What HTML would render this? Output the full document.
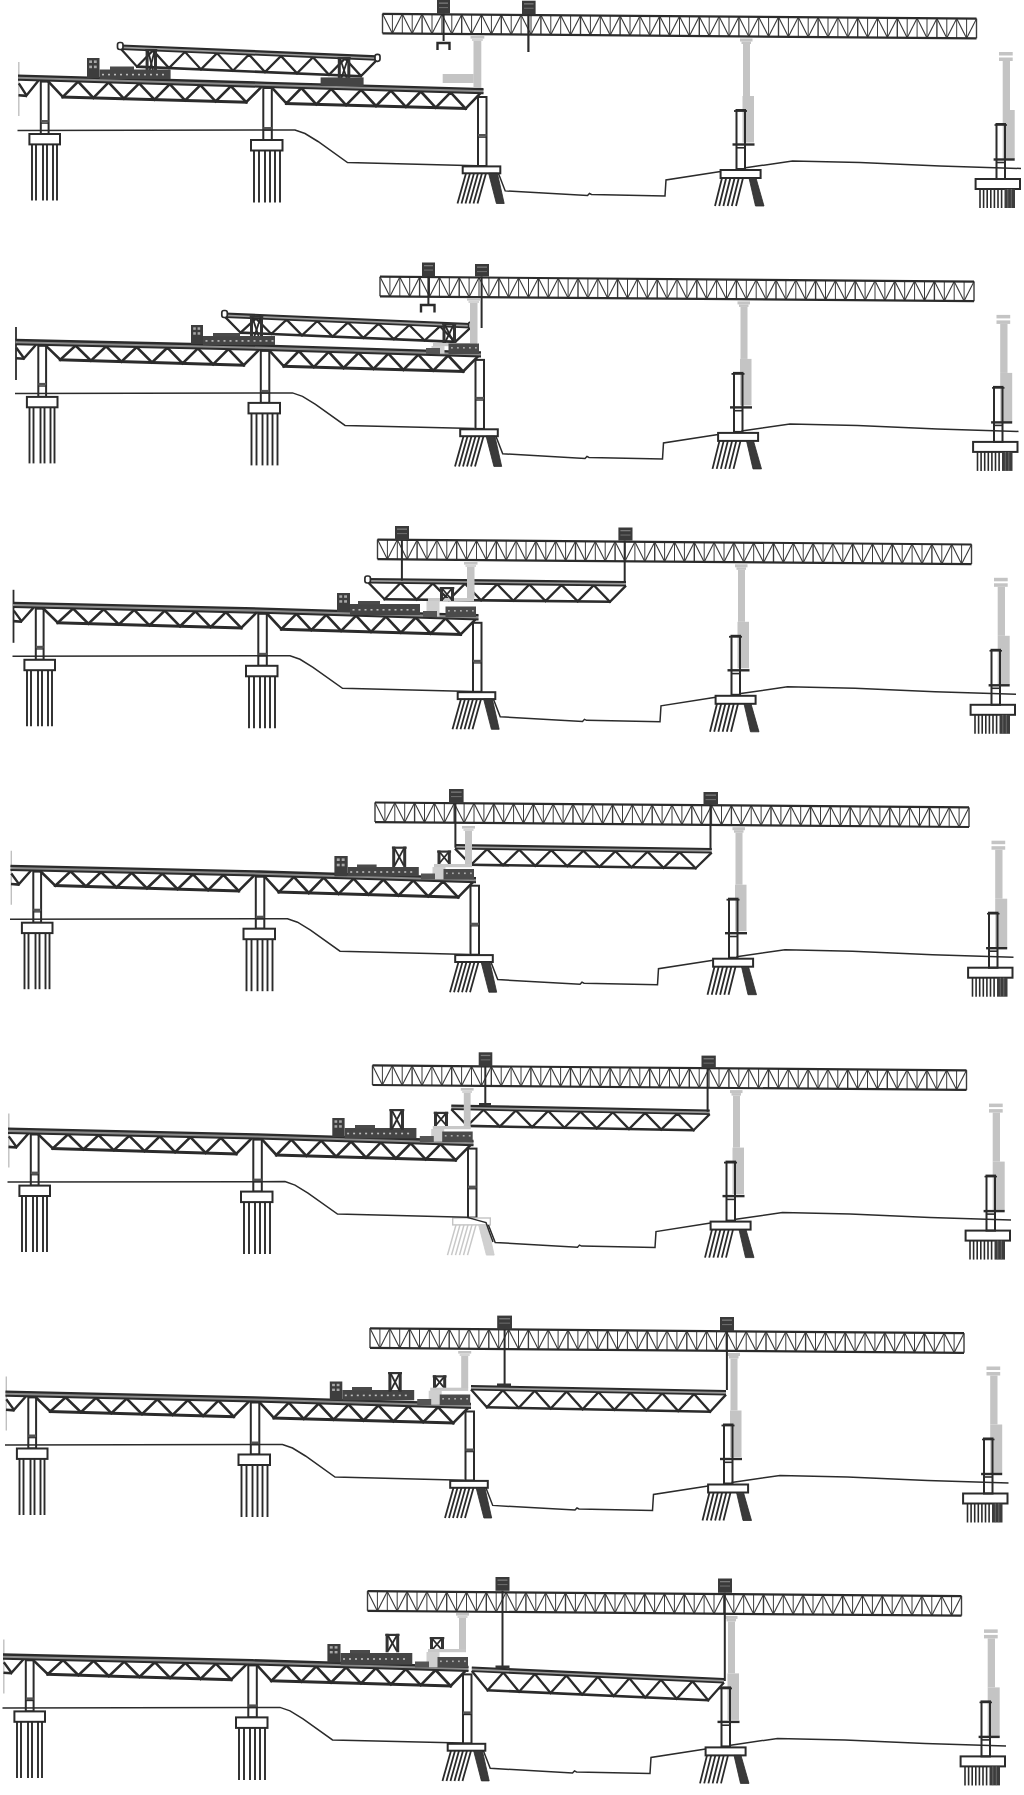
<!DOCTYPE html>
<html><head><meta charset="utf-8"><style>html,body{margin:0;padding:0;background:#fff;}svg{display:block;}</style></head>
<body><svg width="1024" height="1795" viewBox="0 0 1024 1795">
<rect width="1024" height="1795" fill="#fff"/>
<g transform="translate(-0.00,0.00)">
<line x1="18.8" y1="62.0" x2="18.8" y2="116.0" stroke="#c0c0c0" stroke-width="1.4"/>
<polyline points="18.8,83.3 26.5,95.4 38.5,80.4" stroke="#2b2b2b" stroke-width="2.4" fill="none"/>
<line x1="18.5" y1="95.3" x2="27.0" y2="95.9" stroke="#2b2b2b" stroke-width="2.6"/>
<polyline points="47.5,80.7 62.8,96.9 78.1,81.5 93.4,97.8 108.6,82.4 123.9,98.7 139.2,83.3 154.5,99.6 169.8,84.2 185.1,100.5 200.4,85.1 215.6,101.4 230.9,86.0 246.2,102.2 261.5,86.9" stroke="#2b2b2b" stroke-width="2.6" fill="none" stroke-linejoin="miter"/>
<line x1="61.3" y1="96.9" x2="247.7" y2="102.3" stroke="#2b2b2b" stroke-width="3.0"/>
<polyline points="271.5,87.2 286.4,103.4 301.4,88.0 316.3,104.3 331.2,88.9 346.1,105.1 361.1,89.8 376.0,106.0 390.9,90.6 405.9,106.9 420.8,91.5 435.7,107.7 450.6,92.3 465.6,108.6 480.5,93.2" stroke="#2b2b2b" stroke-width="2.6" fill="none" stroke-linejoin="miter"/>
<line x1="284.9" y1="103.4" x2="467.1" y2="108.6" stroke="#2b2b2b" stroke-width="3.0"/>
<polygon points="18,75.6 267,82.8 483.5,89.1 483.5,93.3 267,87.0 18,79.8" fill="#8a8a8a"/>
<polyline points="18.0,75.6 267.0,82.8 483.5,89.1" stroke="#2b2b2b" stroke-width="2.3" fill="none"/>
<polyline points="18.0,79.8 267.0,87.0 483.5,93.3" stroke="#2b2b2b" stroke-width="2.0" fill="none"/>
<rect x="40.8" y="81.6" width="7.8" height="52.4" stroke="#2b2b2b" stroke-width="2.0" fill="none"/>
<rect x="40.8" y="120.0" width="7.8" height="2.6" fill="#555"/>
<line x1="40.8" y1="123.2" x2="48.6" y2="123.2" stroke="#2b2b2b" stroke-width="1.2"/>
<rect x="263.3" y="88.0" width="8.5" height="52.0" stroke="#2b2b2b" stroke-width="2.0" fill="none"/>
<rect x="263.3" y="127.0" width="8.5" height="2.6" fill="#555"/>
<line x1="263.3" y1="130.2" x2="271.8" y2="130.2" stroke="#2b2b2b" stroke-width="1.2"/>
<rect x="478.0" y="97.0" width="8.5" height="69.0" stroke="#2b2b2b" stroke-width="2.0" fill="none"/>
<rect x="478.0" y="134.0" width="8.5" height="2.6" fill="#555"/>
<line x1="478.0" y1="137.2" x2="486.5" y2="137.2" stroke="#2b2b2b" stroke-width="1.2"/>
<rect x="29.4" y="134.0" width="30.6" height="10.4" stroke="#2b2b2b" stroke-width="2.0" fill="#fff"/>
<rect x="251.0" y="140.0" width="31.5" height="10.5" stroke="#2b2b2b" stroke-width="2.0" fill="#fff"/>
<rect x="462.7" y="166.4" width="37.6" height="6.9" stroke="#2b2b2b" stroke-width="2.0" fill="#fff"/>
<rect x="720.6" y="170.0" width="40.0" height="8.0" stroke="#2b2b2b" stroke-width="2.0" fill="#fff"/>
<rect x="975.6" y="179.0" width="44.4" height="10.0" stroke="#2b2b2b" stroke-width="2.0" fill="#fff"/>
<line x1="32.0" y1="144.4" x2="32.0" y2="200.5" stroke="#2b2b2b" stroke-width="1.9"/>
<line x1="36.0" y1="144.4" x2="36.0" y2="200.5" stroke="#2b2b2b" stroke-width="1.9"/>
<line x1="43.0" y1="144.4" x2="43.0" y2="200.5" stroke="#2b2b2b" stroke-width="1.9"/>
<line x1="47.0" y1="144.4" x2="47.0" y2="200.5" stroke="#2b2b2b" stroke-width="1.9"/>
<line x1="53.0" y1="144.4" x2="53.0" y2="200.5" stroke="#2b2b2b" stroke-width="1.9"/>
<line x1="57.0" y1="144.4" x2="57.0" y2="200.5" stroke="#2b2b2b" stroke-width="1.9"/>
<line x1="254.0" y1="150.5" x2="254.0" y2="202.5" stroke="#2b2b2b" stroke-width="1.9"/>
<line x1="259.0" y1="150.5" x2="259.0" y2="202.5" stroke="#2b2b2b" stroke-width="1.9"/>
<line x1="265.0" y1="150.5" x2="265.0" y2="202.5" stroke="#2b2b2b" stroke-width="1.9"/>
<line x1="270.0" y1="150.5" x2="270.0" y2="202.5" stroke="#2b2b2b" stroke-width="1.9"/>
<line x1="275.0" y1="150.5" x2="275.0" y2="202.5" stroke="#2b2b2b" stroke-width="1.9"/>
<line x1="280.0" y1="150.5" x2="280.0" y2="202.5" stroke="#2b2b2b" stroke-width="1.9"/>
<line x1="466.0" y1="173.3" x2="457.5" y2="203.5" stroke="#2b2b2b" stroke-width="1.8"/>
<line x1="470.0" y1="173.3" x2="461.5" y2="203.5" stroke="#2b2b2b" stroke-width="1.8"/>
<line x1="474.0" y1="173.3" x2="465.5" y2="203.5" stroke="#2b2b2b" stroke-width="1.8"/>
<line x1="478.0" y1="173.3" x2="469.5" y2="203.5" stroke="#2b2b2b" stroke-width="1.8"/>
<line x1="482.0" y1="173.3" x2="473.5" y2="203.5" stroke="#2b2b2b" stroke-width="1.8"/>
<line x1="486.0" y1="173.3" x2="477.5" y2="203.5" stroke="#2b2b2b" stroke-width="1.8"/>
<polygon points="488.6,173.3 497.4,173.3 504.2,203.5 496.4,203.5" stroke="#2b2b2b" stroke-width="0.8" fill="#3a3a3a"/>
<line x1="722.0" y1="178.0" x2="715.0" y2="206.0" stroke="#2b2b2b" stroke-width="1.8"/>
<line x1="726.2" y1="178.0" x2="719.2" y2="206.0" stroke="#2b2b2b" stroke-width="1.8"/>
<line x1="730.4" y1="178.0" x2="723.4" y2="206.0" stroke="#2b2b2b" stroke-width="1.8"/>
<line x1="734.6" y1="178.0" x2="727.6" y2="206.0" stroke="#2b2b2b" stroke-width="1.8"/>
<line x1="738.8" y1="178.0" x2="731.8" y2="206.0" stroke="#2b2b2b" stroke-width="1.8"/>
<line x1="743.0" y1="178.0" x2="736.0" y2="206.0" stroke="#2b2b2b" stroke-width="1.8"/>
<polygon points="749.0,178.0 756.0,178.0 764.0,206.0 755.5,206.0" stroke="#2b2b2b" stroke-width="0.8" fill="#3a3a3a"/>
<line x1="980.0" y1="189.0" x2="980.0" y2="208.0" stroke="#2b2b2b" stroke-width="1.6"/>
<line x1="983.6" y1="189.0" x2="983.6" y2="208.0" stroke="#2b2b2b" stroke-width="1.6"/>
<line x1="987.2" y1="189.0" x2="987.2" y2="208.0" stroke="#2b2b2b" stroke-width="1.6"/>
<line x1="990.8" y1="189.0" x2="990.8" y2="208.0" stroke="#2b2b2b" stroke-width="1.6"/>
<line x1="994.4" y1="189.0" x2="994.4" y2="208.0" stroke="#2b2b2b" stroke-width="1.6"/>
<line x1="998.0" y1="189.0" x2="998.0" y2="208.0" stroke="#2b2b2b" stroke-width="1.6"/>
<line x1="1001.6" y1="189.0" x2="1001.6" y2="208.0" stroke="#2b2b2b" stroke-width="1.6"/>
<rect x="1004.5" y="189.0" width="10.5" height="19.0" fill="#3c3c3c"/>
<line x1="1007.8" y1="189.0" x2="1007.8" y2="208.0" stroke="#888" stroke-width="0.6"/>
<line x1="1011.3" y1="189.0" x2="1011.3" y2="208.0" stroke="#888" stroke-width="0.6"/>
<polyline points="17.5,130.5 295.0,130.0 305.0,133.5 318.0,141.5 347.5,162.5 477.0,165.7" stroke="#2b2b2b" stroke-width="1.5" fill="none"/>
<polyline points="498.4,173.3 505.2,190.9 587.5,195.6 589.5,193.5 591.5,194.5 665.0,196.0 666.0,180.0 720.6,171.5" stroke="#2b2b2b" stroke-width="1.5" fill="none"/>
<polyline points="744.0,168.0 792.5,161.0 860.0,162.5 940.0,166.0 1021.0,168.5" stroke="#2b2b2b" stroke-width="1.5" fill="none"/>
<line x1="382.5" y1="13.8" x2="382.5" y2="33.4" stroke="#3c3c3c" stroke-width="1.4"/>
<line x1="392.4" y1="13.9" x2="392.4" y2="33.5" stroke="#3c3c3c" stroke-width="1.0"/>
<line x1="402.3" y1="14.0" x2="402.3" y2="33.6" stroke="#3c3c3c" stroke-width="1.0"/>
<line x1="412.2" y1="14.0" x2="412.2" y2="33.6" stroke="#3c3c3c" stroke-width="1.0"/>
<line x1="422.1" y1="14.1" x2="422.1" y2="33.7" stroke="#3c3c3c" stroke-width="1.4"/>
<line x1="432.0" y1="14.2" x2="432.0" y2="33.8" stroke="#3c3c3c" stroke-width="1.0"/>
<line x1="441.9" y1="14.3" x2="441.9" y2="33.9" stroke="#3c3c3c" stroke-width="1.0"/>
<line x1="451.8" y1="14.4" x2="451.8" y2="34.0" stroke="#3c3c3c" stroke-width="1.0"/>
<line x1="461.7" y1="14.5" x2="461.7" y2="34.1" stroke="#3c3c3c" stroke-width="1.4"/>
<line x1="471.6" y1="14.5" x2="471.6" y2="34.1" stroke="#3c3c3c" stroke-width="1.0"/>
<line x1="481.5" y1="14.6" x2="481.5" y2="34.2" stroke="#3c3c3c" stroke-width="1.0"/>
<line x1="491.4" y1="14.7" x2="491.4" y2="34.3" stroke="#3c3c3c" stroke-width="1.0"/>
<line x1="501.3" y1="14.8" x2="501.3" y2="34.4" stroke="#3c3c3c" stroke-width="1.4"/>
<line x1="511.2" y1="14.9" x2="511.2" y2="34.5" stroke="#3c3c3c" stroke-width="1.0"/>
<line x1="521.1" y1="14.9" x2="521.1" y2="34.5" stroke="#3c3c3c" stroke-width="1.0"/>
<line x1="531.0" y1="15.0" x2="531.0" y2="34.6" stroke="#3c3c3c" stroke-width="1.0"/>
<line x1="540.9" y1="15.1" x2="540.9" y2="34.7" stroke="#3c3c3c" stroke-width="1.4"/>
<line x1="550.8" y1="15.2" x2="550.8" y2="34.8" stroke="#3c3c3c" stroke-width="1.0"/>
<line x1="560.7" y1="15.3" x2="560.7" y2="34.9" stroke="#3c3c3c" stroke-width="1.0"/>
<line x1="570.6" y1="15.4" x2="570.6" y2="35.0" stroke="#3c3c3c" stroke-width="1.0"/>
<line x1="580.5" y1="15.4" x2="580.5" y2="35.0" stroke="#3c3c3c" stroke-width="1.4"/>
<line x1="590.4" y1="15.5" x2="590.4" y2="35.1" stroke="#3c3c3c" stroke-width="1.0"/>
<line x1="600.3" y1="15.6" x2="600.3" y2="35.2" stroke="#3c3c3c" stroke-width="1.0"/>
<line x1="610.2" y1="15.7" x2="610.2" y2="35.3" stroke="#3c3c3c" stroke-width="1.0"/>
<line x1="620.1" y1="15.8" x2="620.1" y2="35.4" stroke="#3c3c3c" stroke-width="1.4"/>
<line x1="630.0" y1="15.8" x2="630.0" y2="35.4" stroke="#3c3c3c" stroke-width="1.0"/>
<line x1="639.9" y1="15.9" x2="639.9" y2="35.5" stroke="#3c3c3c" stroke-width="1.0"/>
<line x1="649.8" y1="16.0" x2="649.8" y2="35.6" stroke="#3c3c3c" stroke-width="1.0"/>
<line x1="659.7" y1="16.1" x2="659.7" y2="35.7" stroke="#3c3c3c" stroke-width="1.4"/>
<line x1="669.6" y1="16.2" x2="669.6" y2="35.8" stroke="#3c3c3c" stroke-width="1.0"/>
<line x1="679.5" y1="16.2" x2="679.5" y2="35.9" stroke="#3c3c3c" stroke-width="1.0"/>
<line x1="689.4" y1="16.3" x2="689.4" y2="35.9" stroke="#3c3c3c" stroke-width="1.0"/>
<line x1="699.3" y1="16.4" x2="699.3" y2="36.0" stroke="#3c3c3c" stroke-width="1.4"/>
<line x1="709.2" y1="16.5" x2="709.2" y2="36.1" stroke="#3c3c3c" stroke-width="1.0"/>
<line x1="719.1" y1="16.6" x2="719.1" y2="36.2" stroke="#3c3c3c" stroke-width="1.0"/>
<line x1="729.0" y1="16.7" x2="729.0" y2="36.3" stroke="#3c3c3c" stroke-width="1.0"/>
<line x1="738.9" y1="16.7" x2="738.9" y2="36.3" stroke="#3c3c3c" stroke-width="1.4"/>
<line x1="748.8" y1="16.8" x2="748.8" y2="36.4" stroke="#3c3c3c" stroke-width="1.0"/>
<line x1="758.7" y1="16.9" x2="758.7" y2="36.5" stroke="#3c3c3c" stroke-width="1.0"/>
<line x1="768.6" y1="17.0" x2="768.6" y2="36.6" stroke="#3c3c3c" stroke-width="1.0"/>
<line x1="778.5" y1="17.1" x2="778.5" y2="36.7" stroke="#3c3c3c" stroke-width="1.4"/>
<line x1="788.4" y1="17.1" x2="788.4" y2="36.7" stroke="#3c3c3c" stroke-width="1.0"/>
<line x1="798.3" y1="17.2" x2="798.3" y2="36.8" stroke="#3c3c3c" stroke-width="1.0"/>
<line x1="808.2" y1="17.3" x2="808.2" y2="36.9" stroke="#3c3c3c" stroke-width="1.0"/>
<line x1="818.1" y1="17.4" x2="818.1" y2="37.0" stroke="#3c3c3c" stroke-width="1.4"/>
<line x1="828.0" y1="17.5" x2="828.0" y2="37.1" stroke="#3c3c3c" stroke-width="1.0"/>
<line x1="837.9" y1="17.6" x2="837.9" y2="37.2" stroke="#3c3c3c" stroke-width="1.0"/>
<line x1="847.8" y1="17.6" x2="847.8" y2="37.2" stroke="#3c3c3c" stroke-width="1.0"/>
<line x1="857.7" y1="17.7" x2="857.7" y2="37.3" stroke="#3c3c3c" stroke-width="1.4"/>
<line x1="867.6" y1="17.8" x2="867.6" y2="37.4" stroke="#3c3c3c" stroke-width="1.0"/>
<line x1="877.5" y1="17.9" x2="877.5" y2="37.5" stroke="#3c3c3c" stroke-width="1.0"/>
<line x1="887.4" y1="18.0" x2="887.4" y2="37.6" stroke="#3c3c3c" stroke-width="1.0"/>
<line x1="897.3" y1="18.0" x2="897.3" y2="37.6" stroke="#3c3c3c" stroke-width="1.4"/>
<line x1="907.2" y1="18.1" x2="907.2" y2="37.7" stroke="#3c3c3c" stroke-width="1.0"/>
<line x1="917.1" y1="18.2" x2="917.1" y2="37.8" stroke="#3c3c3c" stroke-width="1.0"/>
<line x1="927.0" y1="18.3" x2="927.0" y2="37.9" stroke="#3c3c3c" stroke-width="1.0"/>
<line x1="936.9" y1="18.4" x2="936.9" y2="38.0" stroke="#3c3c3c" stroke-width="1.4"/>
<line x1="946.8" y1="18.5" x2="946.8" y2="38.1" stroke="#3c3c3c" stroke-width="1.0"/>
<line x1="956.7" y1="18.5" x2="956.7" y2="38.1" stroke="#3c3c3c" stroke-width="1.0"/>
<line x1="966.6" y1="18.6" x2="966.6" y2="38.2" stroke="#3c3c3c" stroke-width="1.0"/>
<line x1="976.5" y1="18.7" x2="976.5" y2="38.3" stroke="#3c3c3c" stroke-width="1.4"/>
<line x1="382.5" y1="13.8" x2="392.4" y2="33.5" stroke="#383838" stroke-width="1.1"/>
<line x1="392.4" y1="33.5" x2="402.3" y2="14.0" stroke="#383838" stroke-width="1.1"/>
<line x1="402.3" y1="14.0" x2="412.2" y2="33.6" stroke="#383838" stroke-width="1.1"/>
<line x1="412.2" y1="33.6" x2="422.1" y2="14.1" stroke="#383838" stroke-width="1.1"/>
<line x1="422.1" y1="14.1" x2="432.0" y2="33.8" stroke="#383838" stroke-width="1.1"/>
<line x1="432.0" y1="33.8" x2="441.9" y2="14.3" stroke="#383838" stroke-width="1.1"/>
<line x1="441.9" y1="14.3" x2="451.8" y2="34.0" stroke="#383838" stroke-width="1.1"/>
<line x1="451.8" y1="34.0" x2="461.7" y2="14.5" stroke="#383838" stroke-width="1.1"/>
<line x1="461.7" y1="14.5" x2="471.6" y2="34.1" stroke="#383838" stroke-width="1.1"/>
<line x1="471.6" y1="34.1" x2="481.5" y2="14.6" stroke="#383838" stroke-width="1.1"/>
<line x1="481.5" y1="14.6" x2="491.4" y2="34.3" stroke="#383838" stroke-width="1.1"/>
<line x1="491.4" y1="34.3" x2="501.3" y2="14.8" stroke="#383838" stroke-width="1.1"/>
<line x1="501.3" y1="14.8" x2="511.2" y2="34.5" stroke="#383838" stroke-width="1.1"/>
<line x1="511.2" y1="34.5" x2="521.1" y2="14.9" stroke="#383838" stroke-width="1.1"/>
<line x1="521.1" y1="14.9" x2="531.0" y2="34.6" stroke="#383838" stroke-width="1.1"/>
<line x1="531.0" y1="34.6" x2="540.9" y2="15.1" stroke="#383838" stroke-width="1.1"/>
<line x1="540.9" y1="15.1" x2="550.8" y2="34.8" stroke="#383838" stroke-width="1.1"/>
<line x1="550.8" y1="34.8" x2="560.7" y2="15.3" stroke="#383838" stroke-width="1.1"/>
<line x1="560.7" y1="15.3" x2="570.6" y2="35.0" stroke="#383838" stroke-width="1.1"/>
<line x1="570.6" y1="35.0" x2="580.5" y2="15.4" stroke="#383838" stroke-width="1.1"/>
<line x1="580.5" y1="15.4" x2="590.4" y2="35.1" stroke="#383838" stroke-width="1.1"/>
<line x1="590.4" y1="35.1" x2="600.3" y2="15.6" stroke="#383838" stroke-width="1.1"/>
<line x1="600.3" y1="15.6" x2="610.2" y2="35.3" stroke="#383838" stroke-width="1.1"/>
<line x1="610.2" y1="35.3" x2="620.1" y2="15.8" stroke="#383838" stroke-width="1.1"/>
<line x1="620.1" y1="15.8" x2="630.0" y2="35.4" stroke="#383838" stroke-width="1.1"/>
<line x1="630.0" y1="35.4" x2="639.9" y2="15.9" stroke="#383838" stroke-width="1.1"/>
<line x1="639.9" y1="15.9" x2="649.8" y2="35.6" stroke="#383838" stroke-width="1.1"/>
<line x1="649.8" y1="35.6" x2="659.7" y2="16.1" stroke="#383838" stroke-width="1.1"/>
<line x1="659.7" y1="16.1" x2="669.6" y2="35.8" stroke="#383838" stroke-width="1.1"/>
<line x1="669.6" y1="35.8" x2="679.5" y2="16.2" stroke="#383838" stroke-width="1.1"/>
<line x1="679.5" y1="16.2" x2="689.4" y2="35.9" stroke="#383838" stroke-width="1.1"/>
<line x1="689.4" y1="35.9" x2="699.3" y2="16.4" stroke="#383838" stroke-width="1.1"/>
<line x1="699.3" y1="16.4" x2="709.2" y2="36.1" stroke="#383838" stroke-width="1.1"/>
<line x1="709.2" y1="36.1" x2="719.1" y2="16.6" stroke="#383838" stroke-width="1.1"/>
<line x1="719.1" y1="16.6" x2="729.0" y2="36.3" stroke="#383838" stroke-width="1.1"/>
<line x1="729.0" y1="36.3" x2="738.9" y2="16.7" stroke="#383838" stroke-width="1.1"/>
<line x1="738.9" y1="16.7" x2="748.8" y2="36.4" stroke="#383838" stroke-width="1.1"/>
<line x1="748.8" y1="36.4" x2="758.7" y2="16.9" stroke="#383838" stroke-width="1.1"/>
<line x1="758.7" y1="16.9" x2="768.6" y2="36.6" stroke="#383838" stroke-width="1.1"/>
<line x1="768.6" y1="36.6" x2="778.5" y2="17.1" stroke="#383838" stroke-width="1.1"/>
<line x1="778.5" y1="17.1" x2="788.4" y2="36.7" stroke="#383838" stroke-width="1.1"/>
<line x1="788.4" y1="36.7" x2="798.3" y2="17.2" stroke="#383838" stroke-width="1.1"/>
<line x1="798.3" y1="17.2" x2="808.2" y2="36.9" stroke="#383838" stroke-width="1.1"/>
<line x1="808.2" y1="36.9" x2="818.1" y2="17.4" stroke="#383838" stroke-width="1.1"/>
<line x1="818.1" y1="17.4" x2="828.0" y2="37.1" stroke="#383838" stroke-width="1.1"/>
<line x1="828.0" y1="37.1" x2="837.9" y2="17.6" stroke="#383838" stroke-width="1.1"/>
<line x1="837.9" y1="17.6" x2="847.8" y2="37.2" stroke="#383838" stroke-width="1.1"/>
<line x1="847.8" y1="37.2" x2="857.7" y2="17.7" stroke="#383838" stroke-width="1.1"/>
<line x1="857.7" y1="17.7" x2="867.6" y2="37.4" stroke="#383838" stroke-width="1.1"/>
<line x1="867.6" y1="37.4" x2="877.5" y2="17.9" stroke="#383838" stroke-width="1.1"/>
<line x1="877.5" y1="17.9" x2="887.4" y2="37.6" stroke="#383838" stroke-width="1.1"/>
<line x1="887.4" y1="37.6" x2="897.3" y2="18.0" stroke="#383838" stroke-width="1.1"/>
<line x1="897.3" y1="18.0" x2="907.2" y2="37.7" stroke="#383838" stroke-width="1.1"/>
<line x1="907.2" y1="37.7" x2="917.1" y2="18.2" stroke="#383838" stroke-width="1.1"/>
<line x1="917.1" y1="18.2" x2="927.0" y2="37.9" stroke="#383838" stroke-width="1.1"/>
<line x1="927.0" y1="37.9" x2="936.9" y2="18.4" stroke="#383838" stroke-width="1.1"/>
<line x1="936.9" y1="18.4" x2="946.8" y2="38.1" stroke="#383838" stroke-width="1.1"/>
<line x1="946.8" y1="38.1" x2="956.7" y2="18.5" stroke="#383838" stroke-width="1.1"/>
<line x1="956.7" y1="18.5" x2="966.6" y2="38.2" stroke="#383838" stroke-width="1.1"/>
<line x1="966.6" y1="38.2" x2="976.5" y2="18.7" stroke="#383838" stroke-width="1.1"/>
<line x1="382.5" y1="13.8" x2="976.5" y2="18.7" stroke="#2b2b2b" stroke-width="2.2"/>
<line x1="382.5" y1="33.4" x2="976.5" y2="38.3" stroke="#2b2b2b" stroke-width="2.2"/>
<rect x="740.0" y="38.5" width="12.5" height="3.0" fill="#c4c4c4"/>
<rect x="741.5" y="41.5" width="9.5" height="2.5" fill="#c4c4c4"/>
<rect x="743.0" y="44.0" width="7.0" height="52.0" fill="#c4c4c4"/>
<rect x="742.5" y="96.0" width="11.5" height="46.5" fill="#c4c4c4"/>
<rect x="736.5" y="110.0" width="8.5" height="59.0" stroke="#2b2b2b" stroke-width="2.0" fill="none"/>
<line x1="732.5" y1="144.5" x2="754.5" y2="144.5" stroke="#2b2b2b" stroke-width="2.4"/>
<line x1="736.5" y1="147.8" x2="745.0" y2="147.8" stroke="#2b2b2b" stroke-width="1.6"/>
<line x1="734.0" y1="111.0" x2="747.0" y2="111.0" stroke="#2b2b2b" stroke-width="1.8"/>
<rect x="999.0" y="52.0" width="13.7" height="3.5" fill="#c4c4c4"/>
<rect x="999.0" y="57.5" width="13.7" height="3.5" fill="#c4c4c4"/>
<rect x="1002.7" y="61.0" width="7.3" height="49.0" fill="#c4c4c4"/>
<rect x="1002.7" y="110.0" width="12.0" height="49.0" fill="#c4c4c4"/>
<rect x="996.5" y="124.0" width="8.5" height="55.0" stroke="#2b2b2b" stroke-width="2.0" fill="none"/>
<line x1="993.6" y1="159.5" x2="1014.7" y2="159.5" stroke="#2b2b2b" stroke-width="2.4"/>
<line x1="996.5" y1="162.5" x2="1005.0" y2="162.5" stroke="#2b2b2b" stroke-width="1.6"/>
<line x1="994.5" y1="125.0" x2="1007.0" y2="125.0" stroke="#2b2b2b" stroke-width="1.6"/>
</g>
<g transform="translate(-2.50,262.90)">
<line x1="18.5" y1="64.0" x2="18.5" y2="117.0" stroke="#2b2b2b" stroke-width="1.8"/>
<polyline points="18.8,84.8 26.5,95.4 38.5,81.8" stroke="#2b2b2b" stroke-width="2.4" fill="none"/>
<line x1="18.5" y1="95.3" x2="27.0" y2="95.9" stroke="#2b2b2b" stroke-width="2.6"/>
<polyline points="47.5,82.0 62.8,96.9 78.1,82.7 93.4,97.8 108.6,83.4 123.9,98.7 139.2,84.1 154.5,99.6 169.8,84.8 185.1,100.5 200.4,85.5 215.6,101.4 230.9,86.2 246.2,102.2 261.5,86.9" stroke="#2b2b2b" stroke-width="2.6" fill="none" stroke-linejoin="miter"/>
<line x1="61.3" y1="96.9" x2="247.7" y2="102.3" stroke="#2b2b2b" stroke-width="3.0"/>
<polyline points="271.5,87.2 286.4,103.4 301.4,88.1 316.3,104.3 331.2,89.0 346.1,105.1 361.1,89.9 376.0,106.0 390.9,90.8 405.9,106.9 420.8,91.7 435.7,107.7 450.6,92.6 465.6,108.6 480.5,93.5" stroke="#2b2b2b" stroke-width="2.6" fill="none" stroke-linejoin="miter"/>
<line x1="284.9" y1="103.4" x2="467.1" y2="108.6" stroke="#2b2b2b" stroke-width="3.0"/>
<polygon points="18,77.1 267,82.8 483.5,89.4 483.5,93.6 267,87.0 18,81.3" fill="#8a8a8a"/>
<polyline points="18.0,77.1 267.0,82.8 483.5,89.4" stroke="#2b2b2b" stroke-width="2.3" fill="none"/>
<polyline points="18.0,81.3 267.0,87.0 483.5,93.6" stroke="#2b2b2b" stroke-width="2.0" fill="none"/>
<rect x="40.8" y="82.9" width="7.8" height="51.1" stroke="#2b2b2b" stroke-width="2.0" fill="none"/>
<rect x="40.8" y="120.0" width="7.8" height="2.6" fill="#555"/>
<line x1="40.8" y1="123.2" x2="48.6" y2="123.2" stroke="#2b2b2b" stroke-width="1.2"/>
<rect x="263.3" y="88.0" width="8.5" height="52.0" stroke="#2b2b2b" stroke-width="2.0" fill="none"/>
<rect x="263.3" y="127.0" width="8.5" height="2.6" fill="#555"/>
<line x1="263.3" y1="130.2" x2="271.8" y2="130.2" stroke="#2b2b2b" stroke-width="1.2"/>
<rect x="478.0" y="97.0" width="8.5" height="69.0" stroke="#2b2b2b" stroke-width="2.0" fill="none"/>
<rect x="478.0" y="134.0" width="8.5" height="2.6" fill="#555"/>
<line x1="478.0" y1="137.2" x2="486.5" y2="137.2" stroke="#2b2b2b" stroke-width="1.2"/>
<rect x="29.4" y="134.0" width="30.6" height="10.4" stroke="#2b2b2b" stroke-width="2.0" fill="#fff"/>
<rect x="251.0" y="140.0" width="31.5" height="10.5" stroke="#2b2b2b" stroke-width="2.0" fill="#fff"/>
<rect x="462.7" y="166.4" width="37.6" height="6.9" stroke="#2b2b2b" stroke-width="2.0" fill="#fff"/>
<rect x="720.6" y="170.0" width="40.0" height="8.0" stroke="#2b2b2b" stroke-width="2.0" fill="#fff"/>
<rect x="975.6" y="179.0" width="44.4" height="10.0" stroke="#2b2b2b" stroke-width="2.0" fill="#fff"/>
<line x1="32.0" y1="144.4" x2="32.0" y2="200.5" stroke="#2b2b2b" stroke-width="1.9"/>
<line x1="36.0" y1="144.4" x2="36.0" y2="200.5" stroke="#2b2b2b" stroke-width="1.9"/>
<line x1="43.0" y1="144.4" x2="43.0" y2="200.5" stroke="#2b2b2b" stroke-width="1.9"/>
<line x1="47.0" y1="144.4" x2="47.0" y2="200.5" stroke="#2b2b2b" stroke-width="1.9"/>
<line x1="53.0" y1="144.4" x2="53.0" y2="200.5" stroke="#2b2b2b" stroke-width="1.9"/>
<line x1="57.0" y1="144.4" x2="57.0" y2="200.5" stroke="#2b2b2b" stroke-width="1.9"/>
<line x1="254.0" y1="150.5" x2="254.0" y2="202.5" stroke="#2b2b2b" stroke-width="1.9"/>
<line x1="259.0" y1="150.5" x2="259.0" y2="202.5" stroke="#2b2b2b" stroke-width="1.9"/>
<line x1="265.0" y1="150.5" x2="265.0" y2="202.5" stroke="#2b2b2b" stroke-width="1.9"/>
<line x1="270.0" y1="150.5" x2="270.0" y2="202.5" stroke="#2b2b2b" stroke-width="1.9"/>
<line x1="275.0" y1="150.5" x2="275.0" y2="202.5" stroke="#2b2b2b" stroke-width="1.9"/>
<line x1="280.0" y1="150.5" x2="280.0" y2="202.5" stroke="#2b2b2b" stroke-width="1.9"/>
<line x1="466.0" y1="173.3" x2="457.5" y2="203.5" stroke="#2b2b2b" stroke-width="1.8"/>
<line x1="470.0" y1="173.3" x2="461.5" y2="203.5" stroke="#2b2b2b" stroke-width="1.8"/>
<line x1="474.0" y1="173.3" x2="465.5" y2="203.5" stroke="#2b2b2b" stroke-width="1.8"/>
<line x1="478.0" y1="173.3" x2="469.5" y2="203.5" stroke="#2b2b2b" stroke-width="1.8"/>
<line x1="482.0" y1="173.3" x2="473.5" y2="203.5" stroke="#2b2b2b" stroke-width="1.8"/>
<line x1="486.0" y1="173.3" x2="477.5" y2="203.5" stroke="#2b2b2b" stroke-width="1.8"/>
<polygon points="488.6,173.3 497.4,173.3 504.2,203.5 496.4,203.5" stroke="#2b2b2b" stroke-width="0.8" fill="#3a3a3a"/>
<line x1="722.0" y1="178.0" x2="715.0" y2="206.0" stroke="#2b2b2b" stroke-width="1.8"/>
<line x1="726.2" y1="178.0" x2="719.2" y2="206.0" stroke="#2b2b2b" stroke-width="1.8"/>
<line x1="730.4" y1="178.0" x2="723.4" y2="206.0" stroke="#2b2b2b" stroke-width="1.8"/>
<line x1="734.6" y1="178.0" x2="727.6" y2="206.0" stroke="#2b2b2b" stroke-width="1.8"/>
<line x1="738.8" y1="178.0" x2="731.8" y2="206.0" stroke="#2b2b2b" stroke-width="1.8"/>
<line x1="743.0" y1="178.0" x2="736.0" y2="206.0" stroke="#2b2b2b" stroke-width="1.8"/>
<polygon points="749.0,178.0 756.0,178.0 764.0,206.0 755.5,206.0" stroke="#2b2b2b" stroke-width="0.8" fill="#3a3a3a"/>
<line x1="980.0" y1="189.0" x2="980.0" y2="208.0" stroke="#2b2b2b" stroke-width="1.6"/>
<line x1="983.6" y1="189.0" x2="983.6" y2="208.0" stroke="#2b2b2b" stroke-width="1.6"/>
<line x1="987.2" y1="189.0" x2="987.2" y2="208.0" stroke="#2b2b2b" stroke-width="1.6"/>
<line x1="990.8" y1="189.0" x2="990.8" y2="208.0" stroke="#2b2b2b" stroke-width="1.6"/>
<line x1="994.4" y1="189.0" x2="994.4" y2="208.0" stroke="#2b2b2b" stroke-width="1.6"/>
<line x1="998.0" y1="189.0" x2="998.0" y2="208.0" stroke="#2b2b2b" stroke-width="1.6"/>
<line x1="1001.6" y1="189.0" x2="1001.6" y2="208.0" stroke="#2b2b2b" stroke-width="1.6"/>
<rect x="1004.5" y="189.0" width="10.5" height="19.0" fill="#3c3c3c"/>
<line x1="1007.8" y1="189.0" x2="1007.8" y2="208.0" stroke="#888" stroke-width="0.6"/>
<line x1="1011.3" y1="189.0" x2="1011.3" y2="208.0" stroke="#888" stroke-width="0.6"/>
<polyline points="17.5,130.5 295.0,130.0 305.0,133.5 318.0,141.5 347.5,162.5 477.0,165.7" stroke="#2b2b2b" stroke-width="1.5" fill="none"/>
<polyline points="498.4,173.3 505.2,190.9 587.5,195.6 589.5,193.5 591.5,194.5 665.0,196.0 666.0,180.0 720.6,171.5" stroke="#2b2b2b" stroke-width="1.5" fill="none"/>
<polyline points="744.0,168.0 792.5,161.0 860.0,162.5 940.0,166.0 1021.0,168.5" stroke="#2b2b2b" stroke-width="1.5" fill="none"/>
<line x1="382.5" y1="13.8" x2="382.5" y2="33.4" stroke="#3c3c3c" stroke-width="1.4"/>
<line x1="392.4" y1="13.9" x2="392.4" y2="33.5" stroke="#3c3c3c" stroke-width="1.0"/>
<line x1="402.3" y1="14.0" x2="402.3" y2="33.6" stroke="#3c3c3c" stroke-width="1.0"/>
<line x1="412.2" y1="14.0" x2="412.2" y2="33.6" stroke="#3c3c3c" stroke-width="1.0"/>
<line x1="422.1" y1="14.1" x2="422.1" y2="33.7" stroke="#3c3c3c" stroke-width="1.4"/>
<line x1="432.0" y1="14.2" x2="432.0" y2="33.8" stroke="#3c3c3c" stroke-width="1.0"/>
<line x1="441.9" y1="14.3" x2="441.9" y2="33.9" stroke="#3c3c3c" stroke-width="1.0"/>
<line x1="451.8" y1="14.4" x2="451.8" y2="34.0" stroke="#3c3c3c" stroke-width="1.0"/>
<line x1="461.7" y1="14.5" x2="461.7" y2="34.1" stroke="#3c3c3c" stroke-width="1.4"/>
<line x1="471.6" y1="14.5" x2="471.6" y2="34.1" stroke="#3c3c3c" stroke-width="1.0"/>
<line x1="481.5" y1="14.6" x2="481.5" y2="34.2" stroke="#3c3c3c" stroke-width="1.0"/>
<line x1="491.4" y1="14.7" x2="491.4" y2="34.3" stroke="#3c3c3c" stroke-width="1.0"/>
<line x1="501.3" y1="14.8" x2="501.3" y2="34.4" stroke="#3c3c3c" stroke-width="1.4"/>
<line x1="511.2" y1="14.9" x2="511.2" y2="34.5" stroke="#3c3c3c" stroke-width="1.0"/>
<line x1="521.1" y1="14.9" x2="521.1" y2="34.5" stroke="#3c3c3c" stroke-width="1.0"/>
<line x1="531.0" y1="15.0" x2="531.0" y2="34.6" stroke="#3c3c3c" stroke-width="1.0"/>
<line x1="540.9" y1="15.1" x2="540.9" y2="34.7" stroke="#3c3c3c" stroke-width="1.4"/>
<line x1="550.8" y1="15.2" x2="550.8" y2="34.8" stroke="#3c3c3c" stroke-width="1.0"/>
<line x1="560.7" y1="15.3" x2="560.7" y2="34.9" stroke="#3c3c3c" stroke-width="1.0"/>
<line x1="570.6" y1="15.4" x2="570.6" y2="35.0" stroke="#3c3c3c" stroke-width="1.0"/>
<line x1="580.5" y1="15.4" x2="580.5" y2="35.0" stroke="#3c3c3c" stroke-width="1.4"/>
<line x1="590.4" y1="15.5" x2="590.4" y2="35.1" stroke="#3c3c3c" stroke-width="1.0"/>
<line x1="600.3" y1="15.6" x2="600.3" y2="35.2" stroke="#3c3c3c" stroke-width="1.0"/>
<line x1="610.2" y1="15.7" x2="610.2" y2="35.3" stroke="#3c3c3c" stroke-width="1.0"/>
<line x1="620.1" y1="15.8" x2="620.1" y2="35.4" stroke="#3c3c3c" stroke-width="1.4"/>
<line x1="630.0" y1="15.8" x2="630.0" y2="35.4" stroke="#3c3c3c" stroke-width="1.0"/>
<line x1="639.9" y1="15.9" x2="639.9" y2="35.5" stroke="#3c3c3c" stroke-width="1.0"/>
<line x1="649.8" y1="16.0" x2="649.8" y2="35.6" stroke="#3c3c3c" stroke-width="1.0"/>
<line x1="659.7" y1="16.1" x2="659.7" y2="35.7" stroke="#3c3c3c" stroke-width="1.4"/>
<line x1="669.6" y1="16.2" x2="669.6" y2="35.8" stroke="#3c3c3c" stroke-width="1.0"/>
<line x1="679.5" y1="16.2" x2="679.5" y2="35.9" stroke="#3c3c3c" stroke-width="1.0"/>
<line x1="689.4" y1="16.3" x2="689.4" y2="35.9" stroke="#3c3c3c" stroke-width="1.0"/>
<line x1="699.3" y1="16.4" x2="699.3" y2="36.0" stroke="#3c3c3c" stroke-width="1.4"/>
<line x1="709.2" y1="16.5" x2="709.2" y2="36.1" stroke="#3c3c3c" stroke-width="1.0"/>
<line x1="719.1" y1="16.6" x2="719.1" y2="36.2" stroke="#3c3c3c" stroke-width="1.0"/>
<line x1="729.0" y1="16.7" x2="729.0" y2="36.3" stroke="#3c3c3c" stroke-width="1.0"/>
<line x1="738.9" y1="16.7" x2="738.9" y2="36.3" stroke="#3c3c3c" stroke-width="1.4"/>
<line x1="748.8" y1="16.8" x2="748.8" y2="36.4" stroke="#3c3c3c" stroke-width="1.0"/>
<line x1="758.7" y1="16.9" x2="758.7" y2="36.5" stroke="#3c3c3c" stroke-width="1.0"/>
<line x1="768.6" y1="17.0" x2="768.6" y2="36.6" stroke="#3c3c3c" stroke-width="1.0"/>
<line x1="778.5" y1="17.1" x2="778.5" y2="36.7" stroke="#3c3c3c" stroke-width="1.4"/>
<line x1="788.4" y1="17.1" x2="788.4" y2="36.7" stroke="#3c3c3c" stroke-width="1.0"/>
<line x1="798.3" y1="17.2" x2="798.3" y2="36.8" stroke="#3c3c3c" stroke-width="1.0"/>
<line x1="808.2" y1="17.3" x2="808.2" y2="36.9" stroke="#3c3c3c" stroke-width="1.0"/>
<line x1="818.1" y1="17.4" x2="818.1" y2="37.0" stroke="#3c3c3c" stroke-width="1.4"/>
<line x1="828.0" y1="17.5" x2="828.0" y2="37.1" stroke="#3c3c3c" stroke-width="1.0"/>
<line x1="837.9" y1="17.6" x2="837.9" y2="37.2" stroke="#3c3c3c" stroke-width="1.0"/>
<line x1="847.8" y1="17.6" x2="847.8" y2="37.2" stroke="#3c3c3c" stroke-width="1.0"/>
<line x1="857.7" y1="17.7" x2="857.7" y2="37.3" stroke="#3c3c3c" stroke-width="1.4"/>
<line x1="867.6" y1="17.8" x2="867.6" y2="37.4" stroke="#3c3c3c" stroke-width="1.0"/>
<line x1="877.5" y1="17.9" x2="877.5" y2="37.5" stroke="#3c3c3c" stroke-width="1.0"/>
<line x1="887.4" y1="18.0" x2="887.4" y2="37.6" stroke="#3c3c3c" stroke-width="1.0"/>
<line x1="897.3" y1="18.0" x2="897.3" y2="37.6" stroke="#3c3c3c" stroke-width="1.4"/>
<line x1="907.2" y1="18.1" x2="907.2" y2="37.7" stroke="#3c3c3c" stroke-width="1.0"/>
<line x1="917.1" y1="18.2" x2="917.1" y2="37.8" stroke="#3c3c3c" stroke-width="1.0"/>
<line x1="927.0" y1="18.3" x2="927.0" y2="37.9" stroke="#3c3c3c" stroke-width="1.0"/>
<line x1="936.9" y1="18.4" x2="936.9" y2="38.0" stroke="#3c3c3c" stroke-width="1.4"/>
<line x1="946.8" y1="18.5" x2="946.8" y2="38.1" stroke="#3c3c3c" stroke-width="1.0"/>
<line x1="956.7" y1="18.5" x2="956.7" y2="38.1" stroke="#3c3c3c" stroke-width="1.0"/>
<line x1="966.6" y1="18.6" x2="966.6" y2="38.2" stroke="#3c3c3c" stroke-width="1.0"/>
<line x1="976.5" y1="18.7" x2="976.5" y2="38.3" stroke="#3c3c3c" stroke-width="1.4"/>
<line x1="382.5" y1="13.8" x2="392.4" y2="33.5" stroke="#383838" stroke-width="1.1"/>
<line x1="392.4" y1="33.5" x2="402.3" y2="14.0" stroke="#383838" stroke-width="1.1"/>
<line x1="402.3" y1="14.0" x2="412.2" y2="33.6" stroke="#383838" stroke-width="1.1"/>
<line x1="412.2" y1="33.6" x2="422.1" y2="14.1" stroke="#383838" stroke-width="1.1"/>
<line x1="422.1" y1="14.1" x2="432.0" y2="33.8" stroke="#383838" stroke-width="1.1"/>
<line x1="432.0" y1="33.8" x2="441.9" y2="14.3" stroke="#383838" stroke-width="1.1"/>
<line x1="441.9" y1="14.3" x2="451.8" y2="34.0" stroke="#383838" stroke-width="1.1"/>
<line x1="451.8" y1="34.0" x2="461.7" y2="14.5" stroke="#383838" stroke-width="1.1"/>
<line x1="461.7" y1="14.5" x2="471.6" y2="34.1" stroke="#383838" stroke-width="1.1"/>
<line x1="471.6" y1="34.1" x2="481.5" y2="14.6" stroke="#383838" stroke-width="1.1"/>
<line x1="481.5" y1="14.6" x2="491.4" y2="34.3" stroke="#383838" stroke-width="1.1"/>
<line x1="491.4" y1="34.3" x2="501.3" y2="14.8" stroke="#383838" stroke-width="1.1"/>
<line x1="501.3" y1="14.8" x2="511.2" y2="34.5" stroke="#383838" stroke-width="1.1"/>
<line x1="511.2" y1="34.5" x2="521.1" y2="14.9" stroke="#383838" stroke-width="1.1"/>
<line x1="521.1" y1="14.9" x2="531.0" y2="34.6" stroke="#383838" stroke-width="1.1"/>
<line x1="531.0" y1="34.6" x2="540.9" y2="15.1" stroke="#383838" stroke-width="1.1"/>
<line x1="540.9" y1="15.1" x2="550.8" y2="34.8" stroke="#383838" stroke-width="1.1"/>
<line x1="550.8" y1="34.8" x2="560.7" y2="15.3" stroke="#383838" stroke-width="1.1"/>
<line x1="560.7" y1="15.3" x2="570.6" y2="35.0" stroke="#383838" stroke-width="1.1"/>
<line x1="570.6" y1="35.0" x2="580.5" y2="15.4" stroke="#383838" stroke-width="1.1"/>
<line x1="580.5" y1="15.4" x2="590.4" y2="35.1" stroke="#383838" stroke-width="1.1"/>
<line x1="590.4" y1="35.1" x2="600.3" y2="15.6" stroke="#383838" stroke-width="1.1"/>
<line x1="600.3" y1="15.6" x2="610.2" y2="35.3" stroke="#383838" stroke-width="1.1"/>
<line x1="610.2" y1="35.3" x2="620.1" y2="15.8" stroke="#383838" stroke-width="1.1"/>
<line x1="620.1" y1="15.8" x2="630.0" y2="35.4" stroke="#383838" stroke-width="1.1"/>
<line x1="630.0" y1="35.4" x2="639.9" y2="15.9" stroke="#383838" stroke-width="1.1"/>
<line x1="639.9" y1="15.9" x2="649.8" y2="35.6" stroke="#383838" stroke-width="1.1"/>
<line x1="649.8" y1="35.6" x2="659.7" y2="16.1" stroke="#383838" stroke-width="1.1"/>
<line x1="659.7" y1="16.1" x2="669.6" y2="35.8" stroke="#383838" stroke-width="1.1"/>
<line x1="669.6" y1="35.8" x2="679.5" y2="16.2" stroke="#383838" stroke-width="1.1"/>
<line x1="679.5" y1="16.2" x2="689.4" y2="35.9" stroke="#383838" stroke-width="1.1"/>
<line x1="689.4" y1="35.9" x2="699.3" y2="16.4" stroke="#383838" stroke-width="1.1"/>
<line x1="699.3" y1="16.4" x2="709.2" y2="36.1" stroke="#383838" stroke-width="1.1"/>
<line x1="709.2" y1="36.1" x2="719.1" y2="16.6" stroke="#383838" stroke-width="1.1"/>
<line x1="719.1" y1="16.6" x2="729.0" y2="36.3" stroke="#383838" stroke-width="1.1"/>
<line x1="729.0" y1="36.3" x2="738.9" y2="16.7" stroke="#383838" stroke-width="1.1"/>
<line x1="738.9" y1="16.7" x2="748.8" y2="36.4" stroke="#383838" stroke-width="1.1"/>
<line x1="748.8" y1="36.4" x2="758.7" y2="16.9" stroke="#383838" stroke-width="1.1"/>
<line x1="758.7" y1="16.9" x2="768.6" y2="36.6" stroke="#383838" stroke-width="1.1"/>
<line x1="768.6" y1="36.6" x2="778.5" y2="17.1" stroke="#383838" stroke-width="1.1"/>
<line x1="778.5" y1="17.1" x2="788.4" y2="36.7" stroke="#383838" stroke-width="1.1"/>
<line x1="788.4" y1="36.7" x2="798.3" y2="17.2" stroke="#383838" stroke-width="1.1"/>
<line x1="798.3" y1="17.2" x2="808.2" y2="36.9" stroke="#383838" stroke-width="1.1"/>
<line x1="808.2" y1="36.9" x2="818.1" y2="17.4" stroke="#383838" stroke-width="1.1"/>
<line x1="818.1" y1="17.4" x2="828.0" y2="37.1" stroke="#383838" stroke-width="1.1"/>
<line x1="828.0" y1="37.1" x2="837.9" y2="17.6" stroke="#383838" stroke-width="1.1"/>
<line x1="837.9" y1="17.6" x2="847.8" y2="37.2" stroke="#383838" stroke-width="1.1"/>
<line x1="847.8" y1="37.2" x2="857.7" y2="17.7" stroke="#383838" stroke-width="1.1"/>
<line x1="857.7" y1="17.7" x2="867.6" y2="37.4" stroke="#383838" stroke-width="1.1"/>
<line x1="867.6" y1="37.4" x2="877.5" y2="17.9" stroke="#383838" stroke-width="1.1"/>
<line x1="877.5" y1="17.9" x2="887.4" y2="37.6" stroke="#383838" stroke-width="1.1"/>
<line x1="887.4" y1="37.6" x2="897.3" y2="18.0" stroke="#383838" stroke-width="1.1"/>
<line x1="897.3" y1="18.0" x2="907.2" y2="37.7" stroke="#383838" stroke-width="1.1"/>
<line x1="907.2" y1="37.7" x2="917.1" y2="18.2" stroke="#383838" stroke-width="1.1"/>
<line x1="917.1" y1="18.2" x2="927.0" y2="37.9" stroke="#383838" stroke-width="1.1"/>
<line x1="927.0" y1="37.9" x2="936.9" y2="18.4" stroke="#383838" stroke-width="1.1"/>
<line x1="936.9" y1="18.4" x2="946.8" y2="38.1" stroke="#383838" stroke-width="1.1"/>
<line x1="946.8" y1="38.1" x2="956.7" y2="18.5" stroke="#383838" stroke-width="1.1"/>
<line x1="956.7" y1="18.5" x2="966.6" y2="38.2" stroke="#383838" stroke-width="1.1"/>
<line x1="966.6" y1="38.2" x2="976.5" y2="18.7" stroke="#383838" stroke-width="1.1"/>
<line x1="382.5" y1="13.8" x2="976.5" y2="18.7" stroke="#2b2b2b" stroke-width="2.2"/>
<line x1="382.5" y1="33.4" x2="976.5" y2="38.3" stroke="#2b2b2b" stroke-width="2.2"/>
<rect x="740.0" y="38.5" width="12.5" height="3.0" fill="#c4c4c4"/>
<rect x="741.5" y="41.5" width="9.5" height="2.5" fill="#c4c4c4"/>
<rect x="743.0" y="44.0" width="7.0" height="52.0" fill="#c4c4c4"/>
<rect x="742.5" y="96.0" width="11.5" height="46.5" fill="#c4c4c4"/>
<rect x="736.5" y="110.0" width="8.5" height="59.0" stroke="#2b2b2b" stroke-width="2.0" fill="none"/>
<line x1="732.5" y1="144.5" x2="754.5" y2="144.5" stroke="#2b2b2b" stroke-width="2.4"/>
<line x1="736.5" y1="147.8" x2="745.0" y2="147.8" stroke="#2b2b2b" stroke-width="1.6"/>
<line x1="734.0" y1="111.0" x2="747.0" y2="111.0" stroke="#2b2b2b" stroke-width="1.8"/>
<rect x="999.0" y="52.0" width="13.7" height="3.5" fill="#c4c4c4"/>
<rect x="999.0" y="57.5" width="13.7" height="3.5" fill="#c4c4c4"/>
<rect x="1002.7" y="61.0" width="7.3" height="49.0" fill="#c4c4c4"/>
<rect x="1002.7" y="110.0" width="12.0" height="49.0" fill="#c4c4c4"/>
<rect x="996.5" y="124.0" width="8.5" height="55.0" stroke="#2b2b2b" stroke-width="2.0" fill="none"/>
<line x1="993.6" y1="159.5" x2="1014.7" y2="159.5" stroke="#2b2b2b" stroke-width="2.4"/>
<line x1="996.5" y1="162.5" x2="1005.0" y2="162.5" stroke="#2b2b2b" stroke-width="1.6"/>
<line x1="994.5" y1="125.0" x2="1007.0" y2="125.0" stroke="#2b2b2b" stroke-width="1.6"/>
</g>
<g transform="translate(-5.00,525.80)">
<line x1="18.5" y1="64.0" x2="18.5" y2="117.0" stroke="#2b2b2b" stroke-width="1.8"/>
<polyline points="18.8,84.8 26.5,95.4 38.5,81.8" stroke="#2b2b2b" stroke-width="2.4" fill="none"/>
<line x1="18.5" y1="95.3" x2="27.0" y2="95.9" stroke="#2b2b2b" stroke-width="2.6"/>
<polyline points="47.5,82.0 62.8,96.9 78.1,82.7 93.4,97.8 108.6,83.4 123.9,98.7 139.2,84.1 154.5,99.6 169.8,84.8 185.1,100.5 200.4,85.5 215.6,101.4 230.9,86.2 246.2,102.2 261.5,86.9" stroke="#2b2b2b" stroke-width="2.6" fill="none" stroke-linejoin="miter"/>
<line x1="61.3" y1="96.9" x2="247.7" y2="102.3" stroke="#2b2b2b" stroke-width="3.0"/>
<polyline points="271.5,87.2 286.4,103.4 301.4,88.1 316.3,104.3 331.2,89.0 346.1,105.1 361.1,89.9 376.0,106.0 390.9,90.8 405.9,106.9 420.8,91.7 435.7,107.7 450.6,92.6 465.6,108.6 480.5,93.5" stroke="#2b2b2b" stroke-width="2.6" fill="none" stroke-linejoin="miter"/>
<line x1="284.9" y1="103.4" x2="467.1" y2="108.6" stroke="#2b2b2b" stroke-width="3.0"/>
<polygon points="18,77.1 267,82.8 483.5,89.4 483.5,93.6 267,87.0 18,81.3" fill="#8a8a8a"/>
<polyline points="18.0,77.1 267.0,82.8 483.5,89.4" stroke="#2b2b2b" stroke-width="2.3" fill="none"/>
<polyline points="18.0,81.3 267.0,87.0 483.5,93.6" stroke="#2b2b2b" stroke-width="2.0" fill="none"/>
<rect x="40.8" y="82.9" width="7.8" height="51.1" stroke="#2b2b2b" stroke-width="2.0" fill="none"/>
<rect x="40.8" y="120.0" width="7.8" height="2.6" fill="#555"/>
<line x1="40.8" y1="123.2" x2="48.6" y2="123.2" stroke="#2b2b2b" stroke-width="1.2"/>
<rect x="263.3" y="88.0" width="8.5" height="52.0" stroke="#2b2b2b" stroke-width="2.0" fill="none"/>
<rect x="263.3" y="127.0" width="8.5" height="2.6" fill="#555"/>
<line x1="263.3" y1="130.2" x2="271.8" y2="130.2" stroke="#2b2b2b" stroke-width="1.2"/>
<rect x="478.0" y="97.0" width="8.5" height="69.0" stroke="#2b2b2b" stroke-width="2.0" fill="none"/>
<rect x="478.0" y="134.0" width="8.5" height="2.6" fill="#555"/>
<line x1="478.0" y1="137.2" x2="486.5" y2="137.2" stroke="#2b2b2b" stroke-width="1.2"/>
<rect x="29.4" y="134.0" width="30.6" height="10.4" stroke="#2b2b2b" stroke-width="2.0" fill="#fff"/>
<rect x="251.0" y="140.0" width="31.5" height="10.5" stroke="#2b2b2b" stroke-width="2.0" fill="#fff"/>
<rect x="462.7" y="166.4" width="37.6" height="6.9" stroke="#2b2b2b" stroke-width="2.0" fill="#fff"/>
<rect x="720.6" y="170.0" width="40.0" height="8.0" stroke="#2b2b2b" stroke-width="2.0" fill="#fff"/>
<rect x="975.6" y="179.0" width="44.4" height="10.0" stroke="#2b2b2b" stroke-width="2.0" fill="#fff"/>
<line x1="32.0" y1="144.4" x2="32.0" y2="200.5" stroke="#2b2b2b" stroke-width="1.9"/>
<line x1="36.0" y1="144.4" x2="36.0" y2="200.5" stroke="#2b2b2b" stroke-width="1.9"/>
<line x1="43.0" y1="144.4" x2="43.0" y2="200.5" stroke="#2b2b2b" stroke-width="1.9"/>
<line x1="47.0" y1="144.4" x2="47.0" y2="200.5" stroke="#2b2b2b" stroke-width="1.9"/>
<line x1="53.0" y1="144.4" x2="53.0" y2="200.5" stroke="#2b2b2b" stroke-width="1.9"/>
<line x1="57.0" y1="144.4" x2="57.0" y2="200.5" stroke="#2b2b2b" stroke-width="1.9"/>
<line x1="254.0" y1="150.5" x2="254.0" y2="202.5" stroke="#2b2b2b" stroke-width="1.9"/>
<line x1="259.0" y1="150.5" x2="259.0" y2="202.5" stroke="#2b2b2b" stroke-width="1.9"/>
<line x1="265.0" y1="150.5" x2="265.0" y2="202.5" stroke="#2b2b2b" stroke-width="1.9"/>
<line x1="270.0" y1="150.5" x2="270.0" y2="202.5" stroke="#2b2b2b" stroke-width="1.9"/>
<line x1="275.0" y1="150.5" x2="275.0" y2="202.5" stroke="#2b2b2b" stroke-width="1.9"/>
<line x1="280.0" y1="150.5" x2="280.0" y2="202.5" stroke="#2b2b2b" stroke-width="1.9"/>
<line x1="466.0" y1="173.3" x2="457.5" y2="203.5" stroke="#2b2b2b" stroke-width="1.8"/>
<line x1="470.0" y1="173.3" x2="461.5" y2="203.5" stroke="#2b2b2b" stroke-width="1.8"/>
<line x1="474.0" y1="173.3" x2="465.5" y2="203.5" stroke="#2b2b2b" stroke-width="1.8"/>
<line x1="478.0" y1="173.3" x2="469.5" y2="203.5" stroke="#2b2b2b" stroke-width="1.8"/>
<line x1="482.0" y1="173.3" x2="473.5" y2="203.5" stroke="#2b2b2b" stroke-width="1.8"/>
<line x1="486.0" y1="173.3" x2="477.5" y2="203.5" stroke="#2b2b2b" stroke-width="1.8"/>
<polygon points="488.6,173.3 497.4,173.3 504.2,203.5 496.4,203.5" stroke="#2b2b2b" stroke-width="0.8" fill="#3a3a3a"/>
<line x1="722.0" y1="178.0" x2="715.0" y2="206.0" stroke="#2b2b2b" stroke-width="1.8"/>
<line x1="726.2" y1="178.0" x2="719.2" y2="206.0" stroke="#2b2b2b" stroke-width="1.8"/>
<line x1="730.4" y1="178.0" x2="723.4" y2="206.0" stroke="#2b2b2b" stroke-width="1.8"/>
<line x1="734.6" y1="178.0" x2="727.6" y2="206.0" stroke="#2b2b2b" stroke-width="1.8"/>
<line x1="738.8" y1="178.0" x2="731.8" y2="206.0" stroke="#2b2b2b" stroke-width="1.8"/>
<line x1="743.0" y1="178.0" x2="736.0" y2="206.0" stroke="#2b2b2b" stroke-width="1.8"/>
<polygon points="749.0,178.0 756.0,178.0 764.0,206.0 755.5,206.0" stroke="#2b2b2b" stroke-width="0.8" fill="#3a3a3a"/>
<line x1="980.0" y1="189.0" x2="980.0" y2="208.0" stroke="#2b2b2b" stroke-width="1.6"/>
<line x1="983.6" y1="189.0" x2="983.6" y2="208.0" stroke="#2b2b2b" stroke-width="1.6"/>
<line x1="987.2" y1="189.0" x2="987.2" y2="208.0" stroke="#2b2b2b" stroke-width="1.6"/>
<line x1="990.8" y1="189.0" x2="990.8" y2="208.0" stroke="#2b2b2b" stroke-width="1.6"/>
<line x1="994.4" y1="189.0" x2="994.4" y2="208.0" stroke="#2b2b2b" stroke-width="1.6"/>
<line x1="998.0" y1="189.0" x2="998.0" y2="208.0" stroke="#2b2b2b" stroke-width="1.6"/>
<line x1="1001.6" y1="189.0" x2="1001.6" y2="208.0" stroke="#2b2b2b" stroke-width="1.6"/>
<rect x="1004.5" y="189.0" width="10.5" height="19.0" fill="#3c3c3c"/>
<line x1="1007.8" y1="189.0" x2="1007.8" y2="208.0" stroke="#888" stroke-width="0.6"/>
<line x1="1011.3" y1="189.0" x2="1011.3" y2="208.0" stroke="#888" stroke-width="0.6"/>
<polyline points="17.5,130.5 295.0,130.0 305.0,133.5 318.0,141.5 347.5,162.5 477.0,165.7" stroke="#2b2b2b" stroke-width="1.5" fill="none"/>
<polyline points="498.4,173.3 505.2,190.9 587.5,195.6 589.5,193.5 591.5,194.5 665.0,196.0 666.0,180.0 720.6,171.5" stroke="#2b2b2b" stroke-width="1.5" fill="none"/>
<polyline points="744.0,168.0 792.5,161.0 860.0,162.5 940.0,166.0 1021.0,168.5" stroke="#2b2b2b" stroke-width="1.5" fill="none"/>
<line x1="382.5" y1="13.8" x2="382.5" y2="33.4" stroke="#3c3c3c" stroke-width="1.4"/>
<line x1="392.4" y1="13.9" x2="392.4" y2="33.5" stroke="#3c3c3c" stroke-width="1.0"/>
<line x1="402.3" y1="14.0" x2="402.3" y2="33.6" stroke="#3c3c3c" stroke-width="1.0"/>
<line x1="412.2" y1="14.0" x2="412.2" y2="33.6" stroke="#3c3c3c" stroke-width="1.0"/>
<line x1="422.1" y1="14.1" x2="422.1" y2="33.7" stroke="#3c3c3c" stroke-width="1.4"/>
<line x1="432.0" y1="14.2" x2="432.0" y2="33.8" stroke="#3c3c3c" stroke-width="1.0"/>
<line x1="441.9" y1="14.3" x2="441.9" y2="33.9" stroke="#3c3c3c" stroke-width="1.0"/>
<line x1="451.8" y1="14.4" x2="451.8" y2="34.0" stroke="#3c3c3c" stroke-width="1.0"/>
<line x1="461.7" y1="14.5" x2="461.7" y2="34.1" stroke="#3c3c3c" stroke-width="1.4"/>
<line x1="471.6" y1="14.5" x2="471.6" y2="34.1" stroke="#3c3c3c" stroke-width="1.0"/>
<line x1="481.5" y1="14.6" x2="481.5" y2="34.2" stroke="#3c3c3c" stroke-width="1.0"/>
<line x1="491.4" y1="14.7" x2="491.4" y2="34.3" stroke="#3c3c3c" stroke-width="1.0"/>
<line x1="501.3" y1="14.8" x2="501.3" y2="34.4" stroke="#3c3c3c" stroke-width="1.4"/>
<line x1="511.2" y1="14.9" x2="511.2" y2="34.5" stroke="#3c3c3c" stroke-width="1.0"/>
<line x1="521.1" y1="14.9" x2="521.1" y2="34.5" stroke="#3c3c3c" stroke-width="1.0"/>
<line x1="531.0" y1="15.0" x2="531.0" y2="34.6" stroke="#3c3c3c" stroke-width="1.0"/>
<line x1="540.9" y1="15.1" x2="540.9" y2="34.7" stroke="#3c3c3c" stroke-width="1.4"/>
<line x1="550.8" y1="15.2" x2="550.8" y2="34.8" stroke="#3c3c3c" stroke-width="1.0"/>
<line x1="560.7" y1="15.3" x2="560.7" y2="34.9" stroke="#3c3c3c" stroke-width="1.0"/>
<line x1="570.6" y1="15.4" x2="570.6" y2="35.0" stroke="#3c3c3c" stroke-width="1.0"/>
<line x1="580.5" y1="15.4" x2="580.5" y2="35.0" stroke="#3c3c3c" stroke-width="1.4"/>
<line x1="590.4" y1="15.5" x2="590.4" y2="35.1" stroke="#3c3c3c" stroke-width="1.0"/>
<line x1="600.3" y1="15.6" x2="600.3" y2="35.2" stroke="#3c3c3c" stroke-width="1.0"/>
<line x1="610.2" y1="15.7" x2="610.2" y2="35.3" stroke="#3c3c3c" stroke-width="1.0"/>
<line x1="620.1" y1="15.8" x2="620.1" y2="35.4" stroke="#3c3c3c" stroke-width="1.4"/>
<line x1="630.0" y1="15.8" x2="630.0" y2="35.4" stroke="#3c3c3c" stroke-width="1.0"/>
<line x1="639.9" y1="15.9" x2="639.9" y2="35.5" stroke="#3c3c3c" stroke-width="1.0"/>
<line x1="649.8" y1="16.0" x2="649.8" y2="35.6" stroke="#3c3c3c" stroke-width="1.0"/>
<line x1="659.7" y1="16.1" x2="659.7" y2="35.7" stroke="#3c3c3c" stroke-width="1.4"/>
<line x1="669.6" y1="16.2" x2="669.6" y2="35.8" stroke="#3c3c3c" stroke-width="1.0"/>
<line x1="679.5" y1="16.2" x2="679.5" y2="35.9" stroke="#3c3c3c" stroke-width="1.0"/>
<line x1="689.4" y1="16.3" x2="689.4" y2="35.9" stroke="#3c3c3c" stroke-width="1.0"/>
<line x1="699.3" y1="16.4" x2="699.3" y2="36.0" stroke="#3c3c3c" stroke-width="1.4"/>
<line x1="709.2" y1="16.5" x2="709.2" y2="36.1" stroke="#3c3c3c" stroke-width="1.0"/>
<line x1="719.1" y1="16.6" x2="719.1" y2="36.2" stroke="#3c3c3c" stroke-width="1.0"/>
<line x1="729.0" y1="16.7" x2="729.0" y2="36.3" stroke="#3c3c3c" stroke-width="1.0"/>
<line x1="738.9" y1="16.7" x2="738.9" y2="36.3" stroke="#3c3c3c" stroke-width="1.4"/>
<line x1="748.8" y1="16.8" x2="748.8" y2="36.4" stroke="#3c3c3c" stroke-width="1.0"/>
<line x1="758.7" y1="16.9" x2="758.7" y2="36.5" stroke="#3c3c3c" stroke-width="1.0"/>
<line x1="768.6" y1="17.0" x2="768.6" y2="36.6" stroke="#3c3c3c" stroke-width="1.0"/>
<line x1="778.5" y1="17.1" x2="778.5" y2="36.7" stroke="#3c3c3c" stroke-width="1.4"/>
<line x1="788.4" y1="17.1" x2="788.4" y2="36.7" stroke="#3c3c3c" stroke-width="1.0"/>
<line x1="798.3" y1="17.2" x2="798.3" y2="36.8" stroke="#3c3c3c" stroke-width="1.0"/>
<line x1="808.2" y1="17.3" x2="808.2" y2="36.9" stroke="#3c3c3c" stroke-width="1.0"/>
<line x1="818.1" y1="17.4" x2="818.1" y2="37.0" stroke="#3c3c3c" stroke-width="1.4"/>
<line x1="828.0" y1="17.5" x2="828.0" y2="37.1" stroke="#3c3c3c" stroke-width="1.0"/>
<line x1="837.9" y1="17.6" x2="837.9" y2="37.2" stroke="#3c3c3c" stroke-width="1.0"/>
<line x1="847.8" y1="17.6" x2="847.8" y2="37.2" stroke="#3c3c3c" stroke-width="1.0"/>
<line x1="857.7" y1="17.7" x2="857.7" y2="37.3" stroke="#3c3c3c" stroke-width="1.4"/>
<line x1="867.6" y1="17.8" x2="867.6" y2="37.4" stroke="#3c3c3c" stroke-width="1.0"/>
<line x1="877.5" y1="17.9" x2="877.5" y2="37.5" stroke="#3c3c3c" stroke-width="1.0"/>
<line x1="887.4" y1="18.0" x2="887.4" y2="37.6" stroke="#3c3c3c" stroke-width="1.0"/>
<line x1="897.3" y1="18.0" x2="897.3" y2="37.6" stroke="#3c3c3c" stroke-width="1.4"/>
<line x1="907.2" y1="18.1" x2="907.2" y2="37.7" stroke="#3c3c3c" stroke-width="1.0"/>
<line x1="917.1" y1="18.2" x2="917.1" y2="37.8" stroke="#3c3c3c" stroke-width="1.0"/>
<line x1="927.0" y1="18.3" x2="927.0" y2="37.9" stroke="#3c3c3c" stroke-width="1.0"/>
<line x1="936.9" y1="18.4" x2="936.9" y2="38.0" stroke="#3c3c3c" stroke-width="1.4"/>
<line x1="946.8" y1="18.5" x2="946.8" y2="38.1" stroke="#3c3c3c" stroke-width="1.0"/>
<line x1="956.7" y1="18.5" x2="956.7" y2="38.1" stroke="#3c3c3c" stroke-width="1.0"/>
<line x1="966.6" y1="18.6" x2="966.6" y2="38.2" stroke="#3c3c3c" stroke-width="1.0"/>
<line x1="976.5" y1="18.7" x2="976.5" y2="38.3" stroke="#3c3c3c" stroke-width="1.4"/>
<line x1="382.5" y1="13.8" x2="392.4" y2="33.5" stroke="#383838" stroke-width="1.1"/>
<line x1="392.4" y1="33.5" x2="402.3" y2="14.0" stroke="#383838" stroke-width="1.1"/>
<line x1="402.3" y1="14.0" x2="412.2" y2="33.6" stroke="#383838" stroke-width="1.1"/>
<line x1="412.2" y1="33.6" x2="422.1" y2="14.1" stroke="#383838" stroke-width="1.1"/>
<line x1="422.1" y1="14.1" x2="432.0" y2="33.8" stroke="#383838" stroke-width="1.1"/>
<line x1="432.0" y1="33.8" x2="441.9" y2="14.3" stroke="#383838" stroke-width="1.1"/>
<line x1="441.9" y1="14.3" x2="451.8" y2="34.0" stroke="#383838" stroke-width="1.1"/>
<line x1="451.8" y1="34.0" x2="461.7" y2="14.5" stroke="#383838" stroke-width="1.1"/>
<line x1="461.7" y1="14.5" x2="471.6" y2="34.1" stroke="#383838" stroke-width="1.1"/>
<line x1="471.6" y1="34.1" x2="481.5" y2="14.6" stroke="#383838" stroke-width="1.1"/>
<line x1="481.5" y1="14.6" x2="491.4" y2="34.3" stroke="#383838" stroke-width="1.1"/>
<line x1="491.4" y1="34.3" x2="501.3" y2="14.8" stroke="#383838" stroke-width="1.1"/>
<line x1="501.3" y1="14.8" x2="511.2" y2="34.5" stroke="#383838" stroke-width="1.1"/>
<line x1="511.2" y1="34.5" x2="521.1" y2="14.9" stroke="#383838" stroke-width="1.1"/>
<line x1="521.1" y1="14.9" x2="531.0" y2="34.6" stroke="#383838" stroke-width="1.1"/>
<line x1="531.0" y1="34.6" x2="540.9" y2="15.1" stroke="#383838" stroke-width="1.1"/>
<line x1="540.9" y1="15.1" x2="550.8" y2="34.8" stroke="#383838" stroke-width="1.1"/>
<line x1="550.8" y1="34.8" x2="560.7" y2="15.3" stroke="#383838" stroke-width="1.1"/>
<line x1="560.7" y1="15.3" x2="570.6" y2="35.0" stroke="#383838" stroke-width="1.1"/>
<line x1="570.6" y1="35.0" x2="580.5" y2="15.4" stroke="#383838" stroke-width="1.1"/>
<line x1="580.5" y1="15.4" x2="590.4" y2="35.1" stroke="#383838" stroke-width="1.1"/>
<line x1="590.4" y1="35.1" x2="600.3" y2="15.6" stroke="#383838" stroke-width="1.1"/>
<line x1="600.3" y1="15.6" x2="610.2" y2="35.3" stroke="#383838" stroke-width="1.1"/>
<line x1="610.2" y1="35.3" x2="620.1" y2="15.8" stroke="#383838" stroke-width="1.1"/>
<line x1="620.1" y1="15.8" x2="630.0" y2="35.4" stroke="#383838" stroke-width="1.1"/>
<line x1="630.0" y1="35.4" x2="639.9" y2="15.9" stroke="#383838" stroke-width="1.1"/>
<line x1="639.9" y1="15.9" x2="649.8" y2="35.6" stroke="#383838" stroke-width="1.1"/>
<line x1="649.8" y1="35.6" x2="659.7" y2="16.1" stroke="#383838" stroke-width="1.1"/>
<line x1="659.7" y1="16.1" x2="669.6" y2="35.8" stroke="#383838" stroke-width="1.1"/>
<line x1="669.6" y1="35.8" x2="679.5" y2="16.2" stroke="#383838" stroke-width="1.1"/>
<line x1="679.5" y1="16.2" x2="689.4" y2="35.9" stroke="#383838" stroke-width="1.1"/>
<line x1="689.4" y1="35.9" x2="699.3" y2="16.4" stroke="#383838" stroke-width="1.1"/>
<line x1="699.3" y1="16.4" x2="709.2" y2="36.1" stroke="#383838" stroke-width="1.1"/>
<line x1="709.2" y1="36.1" x2="719.1" y2="16.6" stroke="#383838" stroke-width="1.1"/>
<line x1="719.1" y1="16.6" x2="729.0" y2="36.3" stroke="#383838" stroke-width="1.1"/>
<line x1="729.0" y1="36.3" x2="738.9" y2="16.7" stroke="#383838" stroke-width="1.1"/>
<line x1="738.9" y1="16.7" x2="748.8" y2="36.4" stroke="#383838" stroke-width="1.1"/>
<line x1="748.8" y1="36.4" x2="758.7" y2="16.9" stroke="#383838" stroke-width="1.1"/>
<line x1="758.7" y1="16.9" x2="768.6" y2="36.6" stroke="#383838" stroke-width="1.1"/>
<line x1="768.6" y1="36.6" x2="778.5" y2="17.1" stroke="#383838" stroke-width="1.1"/>
<line x1="778.5" y1="17.1" x2="788.4" y2="36.7" stroke="#383838" stroke-width="1.1"/>
<line x1="788.4" y1="36.7" x2="798.3" y2="17.2" stroke="#383838" stroke-width="1.1"/>
<line x1="798.3" y1="17.2" x2="808.2" y2="36.9" stroke="#383838" stroke-width="1.1"/>
<line x1="808.2" y1="36.9" x2="818.1" y2="17.4" stroke="#383838" stroke-width="1.1"/>
<line x1="818.1" y1="17.4" x2="828.0" y2="37.1" stroke="#383838" stroke-width="1.1"/>
<line x1="828.0" y1="37.1" x2="837.9" y2="17.6" stroke="#383838" stroke-width="1.1"/>
<line x1="837.9" y1="17.6" x2="847.8" y2="37.2" stroke="#383838" stroke-width="1.1"/>
<line x1="847.8" y1="37.2" x2="857.7" y2="17.7" stroke="#383838" stroke-width="1.1"/>
<line x1="857.7" y1="17.7" x2="867.6" y2="37.4" stroke="#383838" stroke-width="1.1"/>
<line x1="867.6" y1="37.4" x2="877.5" y2="17.9" stroke="#383838" stroke-width="1.1"/>
<line x1="877.5" y1="17.9" x2="887.4" y2="37.6" stroke="#383838" stroke-width="1.1"/>
<line x1="887.4" y1="37.6" x2="897.3" y2="18.0" stroke="#383838" stroke-width="1.1"/>
<line x1="897.3" y1="18.0" x2="907.2" y2="37.7" stroke="#383838" stroke-width="1.1"/>
<line x1="907.2" y1="37.7" x2="917.1" y2="18.2" stroke="#383838" stroke-width="1.1"/>
<line x1="917.1" y1="18.2" x2="927.0" y2="37.9" stroke="#383838" stroke-width="1.1"/>
<line x1="927.0" y1="37.9" x2="936.9" y2="18.4" stroke="#383838" stroke-width="1.1"/>
<line x1="936.9" y1="18.4" x2="946.8" y2="38.1" stroke="#383838" stroke-width="1.1"/>
<line x1="946.8" y1="38.1" x2="956.7" y2="18.5" stroke="#383838" stroke-width="1.1"/>
<line x1="956.7" y1="18.5" x2="966.6" y2="38.2" stroke="#383838" stroke-width="1.1"/>
<line x1="966.6" y1="38.2" x2="976.5" y2="18.7" stroke="#383838" stroke-width="1.1"/>
<line x1="382.5" y1="13.8" x2="976.5" y2="18.7" stroke="#2b2b2b" stroke-width="2.2"/>
<line x1="382.5" y1="33.4" x2="976.5" y2="38.3" stroke="#2b2b2b" stroke-width="2.2"/>
<rect x="740.0" y="38.5" width="12.5" height="3.0" fill="#c4c4c4"/>
<rect x="741.5" y="41.5" width="9.5" height="2.5" fill="#c4c4c4"/>
<rect x="743.0" y="44.0" width="7.0" height="52.0" fill="#c4c4c4"/>
<rect x="742.5" y="96.0" width="11.5" height="46.5" fill="#c4c4c4"/>
<rect x="736.5" y="110.0" width="8.5" height="59.0" stroke="#2b2b2b" stroke-width="2.0" fill="none"/>
<line x1="732.5" y1="144.5" x2="754.5" y2="144.5" stroke="#2b2b2b" stroke-width="2.4"/>
<line x1="736.5" y1="147.8" x2="745.0" y2="147.8" stroke="#2b2b2b" stroke-width="1.6"/>
<line x1="734.0" y1="111.0" x2="747.0" y2="111.0" stroke="#2b2b2b" stroke-width="1.8"/>
<rect x="999.0" y="52.0" width="13.7" height="3.5" fill="#c4c4c4"/>
<rect x="999.0" y="57.5" width="13.7" height="3.5" fill="#c4c4c4"/>
<rect x="1002.7" y="61.0" width="7.3" height="49.0" fill="#c4c4c4"/>
<rect x="1002.7" y="110.0" width="12.0" height="49.0" fill="#c4c4c4"/>
<rect x="996.5" y="124.0" width="8.5" height="55.0" stroke="#2b2b2b" stroke-width="2.0" fill="none"/>
<line x1="993.6" y1="159.5" x2="1014.7" y2="159.5" stroke="#2b2b2b" stroke-width="2.4"/>
<line x1="996.5" y1="162.5" x2="1005.0" y2="162.5" stroke="#2b2b2b" stroke-width="1.6"/>
<line x1="994.5" y1="125.0" x2="1007.0" y2="125.0" stroke="#2b2b2b" stroke-width="1.6"/>
</g>
<g transform="translate(-7.50,788.70)">
<line x1="18.8" y1="62.0" x2="18.8" y2="116.0" stroke="#c0c0c0" stroke-width="1.4"/>
<polyline points="18.8,84.8 26.5,95.4 38.5,81.8" stroke="#2b2b2b" stroke-width="2.4" fill="none"/>
<line x1="18.5" y1="95.3" x2="27.0" y2="95.9" stroke="#2b2b2b" stroke-width="2.6"/>
<polyline points="47.5,82.0 62.8,96.9 78.1,82.7 93.4,97.8 108.6,83.4 123.9,98.7 139.2,84.1 154.5,99.6 169.8,84.8 185.1,100.5 200.4,85.5 215.6,101.4 230.9,86.2 246.2,102.2 261.5,86.9" stroke="#2b2b2b" stroke-width="2.6" fill="none" stroke-linejoin="miter"/>
<line x1="61.3" y1="96.9" x2="247.7" y2="102.3" stroke="#2b2b2b" stroke-width="3.0"/>
<polyline points="271.5,87.2 286.4,103.4 301.4,88.1 316.3,104.3 331.2,89.0 346.1,105.1 361.1,89.9 376.0,106.0 390.9,90.8 405.9,106.9 420.8,91.7 435.7,107.7 450.6,92.6 465.6,108.6 480.5,93.5" stroke="#2b2b2b" stroke-width="2.6" fill="none" stroke-linejoin="miter"/>
<line x1="284.9" y1="103.4" x2="467.1" y2="108.6" stroke="#2b2b2b" stroke-width="3.0"/>
<polygon points="18,77.1 267,82.8 483.5,89.4 483.5,93.6 267,87.0 18,81.3" fill="#8a8a8a"/>
<polyline points="18.0,77.1 267.0,82.8 483.5,89.4" stroke="#2b2b2b" stroke-width="2.3" fill="none"/>
<polyline points="18.0,81.3 267.0,87.0 483.5,93.6" stroke="#2b2b2b" stroke-width="2.0" fill="none"/>
<rect x="40.8" y="82.9" width="7.8" height="51.1" stroke="#2b2b2b" stroke-width="2.0" fill="none"/>
<rect x="40.8" y="120.0" width="7.8" height="2.6" fill="#555"/>
<line x1="40.8" y1="123.2" x2="48.6" y2="123.2" stroke="#2b2b2b" stroke-width="1.2"/>
<rect x="263.3" y="88.0" width="8.5" height="52.0" stroke="#2b2b2b" stroke-width="2.0" fill="none"/>
<rect x="263.3" y="127.0" width="8.5" height="2.6" fill="#555"/>
<line x1="263.3" y1="130.2" x2="271.8" y2="130.2" stroke="#2b2b2b" stroke-width="1.2"/>
<rect x="478.0" y="97.0" width="8.5" height="69.0" stroke="#2b2b2b" stroke-width="2.0" fill="none"/>
<rect x="478.0" y="134.0" width="8.5" height="2.6" fill="#555"/>
<line x1="478.0" y1="137.2" x2="486.5" y2="137.2" stroke="#2b2b2b" stroke-width="1.2"/>
<rect x="29.4" y="134.0" width="30.6" height="10.4" stroke="#2b2b2b" stroke-width="2.0" fill="#fff"/>
<rect x="251.0" y="140.0" width="31.5" height="10.5" stroke="#2b2b2b" stroke-width="2.0" fill="#fff"/>
<rect x="462.7" y="166.4" width="37.6" height="6.9" stroke="#2b2b2b" stroke-width="2.0" fill="#fff"/>
<rect x="720.6" y="170.0" width="40.0" height="8.0" stroke="#2b2b2b" stroke-width="2.0" fill="#fff"/>
<rect x="975.6" y="179.0" width="44.4" height="10.0" stroke="#2b2b2b" stroke-width="2.0" fill="#fff"/>
<line x1="32.0" y1="144.4" x2="32.0" y2="200.5" stroke="#2b2b2b" stroke-width="1.9"/>
<line x1="36.0" y1="144.4" x2="36.0" y2="200.5" stroke="#2b2b2b" stroke-width="1.9"/>
<line x1="43.0" y1="144.4" x2="43.0" y2="200.5" stroke="#2b2b2b" stroke-width="1.9"/>
<line x1="47.0" y1="144.4" x2="47.0" y2="200.5" stroke="#2b2b2b" stroke-width="1.9"/>
<line x1="53.0" y1="144.4" x2="53.0" y2="200.5" stroke="#2b2b2b" stroke-width="1.9"/>
<line x1="57.0" y1="144.4" x2="57.0" y2="200.5" stroke="#2b2b2b" stroke-width="1.9"/>
<line x1="254.0" y1="150.5" x2="254.0" y2="202.5" stroke="#2b2b2b" stroke-width="1.9"/>
<line x1="259.0" y1="150.5" x2="259.0" y2="202.5" stroke="#2b2b2b" stroke-width="1.9"/>
<line x1="265.0" y1="150.5" x2="265.0" y2="202.5" stroke="#2b2b2b" stroke-width="1.9"/>
<line x1="270.0" y1="150.5" x2="270.0" y2="202.5" stroke="#2b2b2b" stroke-width="1.9"/>
<line x1="275.0" y1="150.5" x2="275.0" y2="202.5" stroke="#2b2b2b" stroke-width="1.9"/>
<line x1="280.0" y1="150.5" x2="280.0" y2="202.5" stroke="#2b2b2b" stroke-width="1.9"/>
<line x1="466.0" y1="173.3" x2="457.5" y2="203.5" stroke="#2b2b2b" stroke-width="1.8"/>
<line x1="470.0" y1="173.3" x2="461.5" y2="203.5" stroke="#2b2b2b" stroke-width="1.8"/>
<line x1="474.0" y1="173.3" x2="465.5" y2="203.5" stroke="#2b2b2b" stroke-width="1.8"/>
<line x1="478.0" y1="173.3" x2="469.5" y2="203.5" stroke="#2b2b2b" stroke-width="1.8"/>
<line x1="482.0" y1="173.3" x2="473.5" y2="203.5" stroke="#2b2b2b" stroke-width="1.8"/>
<line x1="486.0" y1="173.3" x2="477.5" y2="203.5" stroke="#2b2b2b" stroke-width="1.8"/>
<polygon points="488.6,173.3 497.4,173.3 504.2,203.5 496.4,203.5" stroke="#2b2b2b" stroke-width="0.8" fill="#3a3a3a"/>
<line x1="722.0" y1="178.0" x2="715.0" y2="206.0" stroke="#2b2b2b" stroke-width="1.8"/>
<line x1="726.2" y1="178.0" x2="719.2" y2="206.0" stroke="#2b2b2b" stroke-width="1.8"/>
<line x1="730.4" y1="178.0" x2="723.4" y2="206.0" stroke="#2b2b2b" stroke-width="1.8"/>
<line x1="734.6" y1="178.0" x2="727.6" y2="206.0" stroke="#2b2b2b" stroke-width="1.8"/>
<line x1="738.8" y1="178.0" x2="731.8" y2="206.0" stroke="#2b2b2b" stroke-width="1.8"/>
<line x1="743.0" y1="178.0" x2="736.0" y2="206.0" stroke="#2b2b2b" stroke-width="1.8"/>
<polygon points="749.0,178.0 756.0,178.0 764.0,206.0 755.5,206.0" stroke="#2b2b2b" stroke-width="0.8" fill="#3a3a3a"/>
<line x1="980.0" y1="189.0" x2="980.0" y2="208.0" stroke="#2b2b2b" stroke-width="1.6"/>
<line x1="983.6" y1="189.0" x2="983.6" y2="208.0" stroke="#2b2b2b" stroke-width="1.6"/>
<line x1="987.2" y1="189.0" x2="987.2" y2="208.0" stroke="#2b2b2b" stroke-width="1.6"/>
<line x1="990.8" y1="189.0" x2="990.8" y2="208.0" stroke="#2b2b2b" stroke-width="1.6"/>
<line x1="994.4" y1="189.0" x2="994.4" y2="208.0" stroke="#2b2b2b" stroke-width="1.6"/>
<line x1="998.0" y1="189.0" x2="998.0" y2="208.0" stroke="#2b2b2b" stroke-width="1.6"/>
<line x1="1001.6" y1="189.0" x2="1001.6" y2="208.0" stroke="#2b2b2b" stroke-width="1.6"/>
<rect x="1004.5" y="189.0" width="10.5" height="19.0" fill="#3c3c3c"/>
<line x1="1007.8" y1="189.0" x2="1007.8" y2="208.0" stroke="#888" stroke-width="0.6"/>
<line x1="1011.3" y1="189.0" x2="1011.3" y2="208.0" stroke="#888" stroke-width="0.6"/>
<polyline points="17.5,130.5 295.0,130.0 305.0,133.5 318.0,141.5 347.5,162.5 477.0,165.7" stroke="#2b2b2b" stroke-width="1.5" fill="none"/>
<polyline points="498.4,173.3 505.2,190.9 587.5,195.6 589.5,193.5 591.5,194.5 665.0,196.0 666.0,180.0 720.6,171.5" stroke="#2b2b2b" stroke-width="1.5" fill="none"/>
<polyline points="744.0,168.0 792.5,161.0 860.0,162.5 940.0,166.0 1021.0,168.5" stroke="#2b2b2b" stroke-width="1.5" fill="none"/>
<line x1="382.5" y1="13.8" x2="382.5" y2="33.4" stroke="#3c3c3c" stroke-width="1.4"/>
<line x1="392.4" y1="13.9" x2="392.4" y2="33.5" stroke="#3c3c3c" stroke-width="1.0"/>
<line x1="402.3" y1="14.0" x2="402.3" y2="33.6" stroke="#3c3c3c" stroke-width="1.0"/>
<line x1="412.2" y1="14.0" x2="412.2" y2="33.6" stroke="#3c3c3c" stroke-width="1.0"/>
<line x1="422.1" y1="14.1" x2="422.1" y2="33.7" stroke="#3c3c3c" stroke-width="1.4"/>
<line x1="432.0" y1="14.2" x2="432.0" y2="33.8" stroke="#3c3c3c" stroke-width="1.0"/>
<line x1="441.9" y1="14.3" x2="441.9" y2="33.9" stroke="#3c3c3c" stroke-width="1.0"/>
<line x1="451.8" y1="14.4" x2="451.8" y2="34.0" stroke="#3c3c3c" stroke-width="1.0"/>
<line x1="461.7" y1="14.5" x2="461.7" y2="34.1" stroke="#3c3c3c" stroke-width="1.4"/>
<line x1="471.6" y1="14.5" x2="471.6" y2="34.1" stroke="#3c3c3c" stroke-width="1.0"/>
<line x1="481.5" y1="14.6" x2="481.5" y2="34.2" stroke="#3c3c3c" stroke-width="1.0"/>
<line x1="491.4" y1="14.7" x2="491.4" y2="34.3" stroke="#3c3c3c" stroke-width="1.0"/>
<line x1="501.3" y1="14.8" x2="501.3" y2="34.4" stroke="#3c3c3c" stroke-width="1.4"/>
<line x1="511.2" y1="14.9" x2="511.2" y2="34.5" stroke="#3c3c3c" stroke-width="1.0"/>
<line x1="521.1" y1="14.9" x2="521.1" y2="34.5" stroke="#3c3c3c" stroke-width="1.0"/>
<line x1="531.0" y1="15.0" x2="531.0" y2="34.6" stroke="#3c3c3c" stroke-width="1.0"/>
<line x1="540.9" y1="15.1" x2="540.9" y2="34.7" stroke="#3c3c3c" stroke-width="1.4"/>
<line x1="550.8" y1="15.2" x2="550.8" y2="34.8" stroke="#3c3c3c" stroke-width="1.0"/>
<line x1="560.7" y1="15.3" x2="560.7" y2="34.9" stroke="#3c3c3c" stroke-width="1.0"/>
<line x1="570.6" y1="15.4" x2="570.6" y2="35.0" stroke="#3c3c3c" stroke-width="1.0"/>
<line x1="580.5" y1="15.4" x2="580.5" y2="35.0" stroke="#3c3c3c" stroke-width="1.4"/>
<line x1="590.4" y1="15.5" x2="590.4" y2="35.1" stroke="#3c3c3c" stroke-width="1.0"/>
<line x1="600.3" y1="15.6" x2="600.3" y2="35.2" stroke="#3c3c3c" stroke-width="1.0"/>
<line x1="610.2" y1="15.7" x2="610.2" y2="35.3" stroke="#3c3c3c" stroke-width="1.0"/>
<line x1="620.1" y1="15.8" x2="620.1" y2="35.4" stroke="#3c3c3c" stroke-width="1.4"/>
<line x1="630.0" y1="15.8" x2="630.0" y2="35.4" stroke="#3c3c3c" stroke-width="1.0"/>
<line x1="639.9" y1="15.9" x2="639.9" y2="35.5" stroke="#3c3c3c" stroke-width="1.0"/>
<line x1="649.8" y1="16.0" x2="649.8" y2="35.6" stroke="#3c3c3c" stroke-width="1.0"/>
<line x1="659.7" y1="16.1" x2="659.7" y2="35.7" stroke="#3c3c3c" stroke-width="1.4"/>
<line x1="669.6" y1="16.2" x2="669.6" y2="35.8" stroke="#3c3c3c" stroke-width="1.0"/>
<line x1="679.5" y1="16.2" x2="679.5" y2="35.9" stroke="#3c3c3c" stroke-width="1.0"/>
<line x1="689.4" y1="16.3" x2="689.4" y2="35.9" stroke="#3c3c3c" stroke-width="1.0"/>
<line x1="699.3" y1="16.4" x2="699.3" y2="36.0" stroke="#3c3c3c" stroke-width="1.4"/>
<line x1="709.2" y1="16.5" x2="709.2" y2="36.1" stroke="#3c3c3c" stroke-width="1.0"/>
<line x1="719.1" y1="16.6" x2="719.1" y2="36.2" stroke="#3c3c3c" stroke-width="1.0"/>
<line x1="729.0" y1="16.7" x2="729.0" y2="36.3" stroke="#3c3c3c" stroke-width="1.0"/>
<line x1="738.9" y1="16.7" x2="738.9" y2="36.3" stroke="#3c3c3c" stroke-width="1.4"/>
<line x1="748.8" y1="16.8" x2="748.8" y2="36.4" stroke="#3c3c3c" stroke-width="1.0"/>
<line x1="758.7" y1="16.9" x2="758.7" y2="36.5" stroke="#3c3c3c" stroke-width="1.0"/>
<line x1="768.6" y1="17.0" x2="768.6" y2="36.6" stroke="#3c3c3c" stroke-width="1.0"/>
<line x1="778.5" y1="17.1" x2="778.5" y2="36.7" stroke="#3c3c3c" stroke-width="1.4"/>
<line x1="788.4" y1="17.1" x2="788.4" y2="36.7" stroke="#3c3c3c" stroke-width="1.0"/>
<line x1="798.3" y1="17.2" x2="798.3" y2="36.8" stroke="#3c3c3c" stroke-width="1.0"/>
<line x1="808.2" y1="17.3" x2="808.2" y2="36.9" stroke="#3c3c3c" stroke-width="1.0"/>
<line x1="818.1" y1="17.4" x2="818.1" y2="37.0" stroke="#3c3c3c" stroke-width="1.4"/>
<line x1="828.0" y1="17.5" x2="828.0" y2="37.1" stroke="#3c3c3c" stroke-width="1.0"/>
<line x1="837.9" y1="17.6" x2="837.9" y2="37.2" stroke="#3c3c3c" stroke-width="1.0"/>
<line x1="847.8" y1="17.6" x2="847.8" y2="37.2" stroke="#3c3c3c" stroke-width="1.0"/>
<line x1="857.7" y1="17.7" x2="857.7" y2="37.3" stroke="#3c3c3c" stroke-width="1.4"/>
<line x1="867.6" y1="17.8" x2="867.6" y2="37.4" stroke="#3c3c3c" stroke-width="1.0"/>
<line x1="877.5" y1="17.9" x2="877.5" y2="37.5" stroke="#3c3c3c" stroke-width="1.0"/>
<line x1="887.4" y1="18.0" x2="887.4" y2="37.6" stroke="#3c3c3c" stroke-width="1.0"/>
<line x1="897.3" y1="18.0" x2="897.3" y2="37.6" stroke="#3c3c3c" stroke-width="1.4"/>
<line x1="907.2" y1="18.1" x2="907.2" y2="37.7" stroke="#3c3c3c" stroke-width="1.0"/>
<line x1="917.1" y1="18.2" x2="917.1" y2="37.8" stroke="#3c3c3c" stroke-width="1.0"/>
<line x1="927.0" y1="18.3" x2="927.0" y2="37.9" stroke="#3c3c3c" stroke-width="1.0"/>
<line x1="936.9" y1="18.4" x2="936.9" y2="38.0" stroke="#3c3c3c" stroke-width="1.4"/>
<line x1="946.8" y1="18.5" x2="946.8" y2="38.1" stroke="#3c3c3c" stroke-width="1.0"/>
<line x1="956.7" y1="18.5" x2="956.7" y2="38.1" stroke="#3c3c3c" stroke-width="1.0"/>
<line x1="966.6" y1="18.6" x2="966.6" y2="38.2" stroke="#3c3c3c" stroke-width="1.0"/>
<line x1="976.5" y1="18.7" x2="976.5" y2="38.3" stroke="#3c3c3c" stroke-width="1.4"/>
<line x1="382.5" y1="13.8" x2="392.4" y2="33.5" stroke="#383838" stroke-width="1.1"/>
<line x1="392.4" y1="33.5" x2="402.3" y2="14.0" stroke="#383838" stroke-width="1.1"/>
<line x1="402.3" y1="14.0" x2="412.2" y2="33.6" stroke="#383838" stroke-width="1.1"/>
<line x1="412.2" y1="33.6" x2="422.1" y2="14.1" stroke="#383838" stroke-width="1.1"/>
<line x1="422.1" y1="14.1" x2="432.0" y2="33.8" stroke="#383838" stroke-width="1.1"/>
<line x1="432.0" y1="33.8" x2="441.9" y2="14.3" stroke="#383838" stroke-width="1.1"/>
<line x1="441.9" y1="14.3" x2="451.8" y2="34.0" stroke="#383838" stroke-width="1.1"/>
<line x1="451.8" y1="34.0" x2="461.7" y2="14.5" stroke="#383838" stroke-width="1.1"/>
<line x1="461.7" y1="14.5" x2="471.6" y2="34.1" stroke="#383838" stroke-width="1.1"/>
<line x1="471.6" y1="34.1" x2="481.5" y2="14.6" stroke="#383838" stroke-width="1.1"/>
<line x1="481.5" y1="14.6" x2="491.4" y2="34.3" stroke="#383838" stroke-width="1.1"/>
<line x1="491.4" y1="34.3" x2="501.3" y2="14.8" stroke="#383838" stroke-width="1.1"/>
<line x1="501.3" y1="14.8" x2="511.2" y2="34.5" stroke="#383838" stroke-width="1.1"/>
<line x1="511.2" y1="34.5" x2="521.1" y2="14.9" stroke="#383838" stroke-width="1.1"/>
<line x1="521.1" y1="14.9" x2="531.0" y2="34.6" stroke="#383838" stroke-width="1.1"/>
<line x1="531.0" y1="34.6" x2="540.9" y2="15.1" stroke="#383838" stroke-width="1.1"/>
<line x1="540.9" y1="15.1" x2="550.8" y2="34.8" stroke="#383838" stroke-width="1.1"/>
<line x1="550.8" y1="34.8" x2="560.7" y2="15.3" stroke="#383838" stroke-width="1.1"/>
<line x1="560.7" y1="15.3" x2="570.6" y2="35.0" stroke="#383838" stroke-width="1.1"/>
<line x1="570.6" y1="35.0" x2="580.5" y2="15.4" stroke="#383838" stroke-width="1.1"/>
<line x1="580.5" y1="15.4" x2="590.4" y2="35.1" stroke="#383838" stroke-width="1.1"/>
<line x1="590.4" y1="35.1" x2="600.3" y2="15.6" stroke="#383838" stroke-width="1.1"/>
<line x1="600.3" y1="15.6" x2="610.2" y2="35.3" stroke="#383838" stroke-width="1.1"/>
<line x1="610.2" y1="35.3" x2="620.1" y2="15.8" stroke="#383838" stroke-width="1.1"/>
<line x1="620.1" y1="15.8" x2="630.0" y2="35.4" stroke="#383838" stroke-width="1.1"/>
<line x1="630.0" y1="35.4" x2="639.9" y2="15.9" stroke="#383838" stroke-width="1.1"/>
<line x1="639.9" y1="15.9" x2="649.8" y2="35.6" stroke="#383838" stroke-width="1.1"/>
<line x1="649.8" y1="35.6" x2="659.7" y2="16.1" stroke="#383838" stroke-width="1.1"/>
<line x1="659.7" y1="16.1" x2="669.6" y2="35.8" stroke="#383838" stroke-width="1.1"/>
<line x1="669.6" y1="35.8" x2="679.5" y2="16.2" stroke="#383838" stroke-width="1.1"/>
<line x1="679.5" y1="16.2" x2="689.4" y2="35.9" stroke="#383838" stroke-width="1.1"/>
<line x1="689.4" y1="35.9" x2="699.3" y2="16.4" stroke="#383838" stroke-width="1.1"/>
<line x1="699.3" y1="16.4" x2="709.2" y2="36.1" stroke="#383838" stroke-width="1.1"/>
<line x1="709.2" y1="36.1" x2="719.1" y2="16.6" stroke="#383838" stroke-width="1.1"/>
<line x1="719.1" y1="16.6" x2="729.0" y2="36.3" stroke="#383838" stroke-width="1.1"/>
<line x1="729.0" y1="36.3" x2="738.9" y2="16.7" stroke="#383838" stroke-width="1.1"/>
<line x1="738.9" y1="16.7" x2="748.8" y2="36.4" stroke="#383838" stroke-width="1.1"/>
<line x1="748.8" y1="36.4" x2="758.7" y2="16.9" stroke="#383838" stroke-width="1.1"/>
<line x1="758.7" y1="16.9" x2="768.6" y2="36.6" stroke="#383838" stroke-width="1.1"/>
<line x1="768.6" y1="36.6" x2="778.5" y2="17.1" stroke="#383838" stroke-width="1.1"/>
<line x1="778.5" y1="17.1" x2="788.4" y2="36.7" stroke="#383838" stroke-width="1.1"/>
<line x1="788.4" y1="36.7" x2="798.3" y2="17.2" stroke="#383838" stroke-width="1.1"/>
<line x1="798.3" y1="17.2" x2="808.2" y2="36.9" stroke="#383838" stroke-width="1.1"/>
<line x1="808.2" y1="36.9" x2="818.1" y2="17.4" stroke="#383838" stroke-width="1.1"/>
<line x1="818.1" y1="17.4" x2="828.0" y2="37.1" stroke="#383838" stroke-width="1.1"/>
<line x1="828.0" y1="37.1" x2="837.9" y2="17.6" stroke="#383838" stroke-width="1.1"/>
<line x1="837.9" y1="17.6" x2="847.8" y2="37.2" stroke="#383838" stroke-width="1.1"/>
<line x1="847.8" y1="37.2" x2="857.7" y2="17.7" stroke="#383838" stroke-width="1.1"/>
<line x1="857.7" y1="17.7" x2="867.6" y2="37.4" stroke="#383838" stroke-width="1.1"/>
<line x1="867.6" y1="37.4" x2="877.5" y2="17.9" stroke="#383838" stroke-width="1.1"/>
<line x1="877.5" y1="17.9" x2="887.4" y2="37.6" stroke="#383838" stroke-width="1.1"/>
<line x1="887.4" y1="37.6" x2="897.3" y2="18.0" stroke="#383838" stroke-width="1.1"/>
<line x1="897.3" y1="18.0" x2="907.2" y2="37.7" stroke="#383838" stroke-width="1.1"/>
<line x1="907.2" y1="37.7" x2="917.1" y2="18.2" stroke="#383838" stroke-width="1.1"/>
<line x1="917.1" y1="18.2" x2="927.0" y2="37.9" stroke="#383838" stroke-width="1.1"/>
<line x1="927.0" y1="37.9" x2="936.9" y2="18.4" stroke="#383838" stroke-width="1.1"/>
<line x1="936.9" y1="18.4" x2="946.8" y2="38.1" stroke="#383838" stroke-width="1.1"/>
<line x1="946.8" y1="38.1" x2="956.7" y2="18.5" stroke="#383838" stroke-width="1.1"/>
<line x1="956.7" y1="18.5" x2="966.6" y2="38.2" stroke="#383838" stroke-width="1.1"/>
<line x1="966.6" y1="38.2" x2="976.5" y2="18.7" stroke="#383838" stroke-width="1.1"/>
<line x1="382.5" y1="13.8" x2="976.5" y2="18.7" stroke="#2b2b2b" stroke-width="2.2"/>
<line x1="382.5" y1="33.4" x2="976.5" y2="38.3" stroke="#2b2b2b" stroke-width="2.2"/>
<rect x="740.0" y="38.5" width="12.5" height="3.0" fill="#c4c4c4"/>
<rect x="741.5" y="41.5" width="9.5" height="2.5" fill="#c4c4c4"/>
<rect x="743.0" y="44.0" width="7.0" height="52.0" fill="#c4c4c4"/>
<rect x="742.5" y="96.0" width="11.5" height="46.5" fill="#c4c4c4"/>
<rect x="736.5" y="110.0" width="8.5" height="59.0" stroke="#2b2b2b" stroke-width="2.0" fill="none"/>
<line x1="732.5" y1="144.5" x2="754.5" y2="144.5" stroke="#2b2b2b" stroke-width="2.4"/>
<line x1="736.5" y1="147.8" x2="745.0" y2="147.8" stroke="#2b2b2b" stroke-width="1.6"/>
<line x1="734.0" y1="111.0" x2="747.0" y2="111.0" stroke="#2b2b2b" stroke-width="1.8"/>
<rect x="999.0" y="52.0" width="13.7" height="3.5" fill="#c4c4c4"/>
<rect x="999.0" y="57.5" width="13.7" height="3.5" fill="#c4c4c4"/>
<rect x="1002.7" y="61.0" width="7.3" height="49.0" fill="#c4c4c4"/>
<rect x="1002.7" y="110.0" width="12.0" height="49.0" fill="#c4c4c4"/>
<rect x="996.5" y="124.0" width="8.5" height="55.0" stroke="#2b2b2b" stroke-width="2.0" fill="none"/>
<line x1="993.6" y1="159.5" x2="1014.7" y2="159.5" stroke="#2b2b2b" stroke-width="2.4"/>
<line x1="996.5" y1="162.5" x2="1005.0" y2="162.5" stroke="#2b2b2b" stroke-width="1.6"/>
<line x1="994.5" y1="125.0" x2="1007.0" y2="125.0" stroke="#2b2b2b" stroke-width="1.6"/>
</g>
<g transform="translate(-10.00,1051.60)">
<line x1="18.8" y1="62.0" x2="18.8" y2="116.0" stroke="#c0c0c0" stroke-width="1.4"/>
<polyline points="18.8,84.8 26.5,95.4 38.5,81.8" stroke="#2b2b2b" stroke-width="2.4" fill="none"/>
<line x1="18.5" y1="95.3" x2="27.0" y2="95.9" stroke="#2b2b2b" stroke-width="2.6"/>
<polyline points="47.5,82.0 62.8,96.9 78.1,82.7 93.4,97.8 108.6,83.4 123.9,98.7 139.2,84.1 154.5,99.6 169.8,84.8 185.1,100.5 200.4,85.5 215.6,101.4 230.9,86.2 246.2,102.2 261.5,86.9" stroke="#2b2b2b" stroke-width="2.6" fill="none" stroke-linejoin="miter"/>
<line x1="61.3" y1="96.9" x2="247.7" y2="102.3" stroke="#2b2b2b" stroke-width="3.0"/>
<polyline points="271.5,87.2 286.4,103.4 301.4,88.1 316.3,104.3 331.2,89.0 346.1,105.1 361.1,89.9 376.0,106.0 390.9,90.8 405.9,106.9 420.8,91.7 435.7,107.7 450.6,92.6 465.6,108.6 480.5,93.5" stroke="#2b2b2b" stroke-width="2.6" fill="none" stroke-linejoin="miter"/>
<line x1="284.9" y1="103.4" x2="467.1" y2="108.6" stroke="#2b2b2b" stroke-width="3.0"/>
<polygon points="18,77.1 267,82.8 483.5,89.4 483.5,93.6 267,87.0 18,81.3" fill="#8a8a8a"/>
<polyline points="18.0,77.1 267.0,82.8 483.5,89.4" stroke="#2b2b2b" stroke-width="2.3" fill="none"/>
<polyline points="18.0,81.3 267.0,87.0 483.5,93.6" stroke="#2b2b2b" stroke-width="2.0" fill="none"/>
<rect x="40.8" y="82.9" width="7.8" height="51.1" stroke="#2b2b2b" stroke-width="2.0" fill="none"/>
<rect x="40.8" y="120.0" width="7.8" height="2.6" fill="#555"/>
<line x1="40.8" y1="123.2" x2="48.6" y2="123.2" stroke="#2b2b2b" stroke-width="1.2"/>
<rect x="263.3" y="88.0" width="8.5" height="52.0" stroke="#2b2b2b" stroke-width="2.0" fill="none"/>
<rect x="263.3" y="127.0" width="8.5" height="2.6" fill="#555"/>
<line x1="263.3" y1="130.2" x2="271.8" y2="130.2" stroke="#2b2b2b" stroke-width="1.2"/>
<rect x="478.0" y="97.0" width="8.5" height="69.0" stroke="#2b2b2b" stroke-width="2.0" fill="none"/>
<rect x="478.0" y="134.0" width="8.5" height="2.6" fill="#555"/>
<line x1="478.0" y1="137.2" x2="486.5" y2="137.2" stroke="#2b2b2b" stroke-width="1.2"/>
<rect x="29.4" y="134.0" width="30.6" height="10.4" stroke="#2b2b2b" stroke-width="2.0" fill="#fff"/>
<rect x="251.0" y="140.0" width="31.5" height="10.5" stroke="#2b2b2b" stroke-width="2.0" fill="#fff"/>
<rect x="462.7" y="166.4" width="37.6" height="6.9" stroke="#c4c4c4" stroke-width="1.4" fill="#fff"/>
<rect x="720.6" y="170.0" width="40.0" height="8.0" stroke="#2b2b2b" stroke-width="2.0" fill="#fff"/>
<rect x="975.6" y="179.0" width="44.4" height="10.0" stroke="#2b2b2b" stroke-width="2.0" fill="#fff"/>
<line x1="32.0" y1="144.4" x2="32.0" y2="200.5" stroke="#2b2b2b" stroke-width="1.9"/>
<line x1="36.0" y1="144.4" x2="36.0" y2="200.5" stroke="#2b2b2b" stroke-width="1.9"/>
<line x1="43.0" y1="144.4" x2="43.0" y2="200.5" stroke="#2b2b2b" stroke-width="1.9"/>
<line x1="47.0" y1="144.4" x2="47.0" y2="200.5" stroke="#2b2b2b" stroke-width="1.9"/>
<line x1="53.0" y1="144.4" x2="53.0" y2="200.5" stroke="#2b2b2b" stroke-width="1.9"/>
<line x1="57.0" y1="144.4" x2="57.0" y2="200.5" stroke="#2b2b2b" stroke-width="1.9"/>
<line x1="254.0" y1="150.5" x2="254.0" y2="202.5" stroke="#2b2b2b" stroke-width="1.9"/>
<line x1="259.0" y1="150.5" x2="259.0" y2="202.5" stroke="#2b2b2b" stroke-width="1.9"/>
<line x1="265.0" y1="150.5" x2="265.0" y2="202.5" stroke="#2b2b2b" stroke-width="1.9"/>
<line x1="270.0" y1="150.5" x2="270.0" y2="202.5" stroke="#2b2b2b" stroke-width="1.9"/>
<line x1="275.0" y1="150.5" x2="275.0" y2="202.5" stroke="#2b2b2b" stroke-width="1.9"/>
<line x1="280.0" y1="150.5" x2="280.0" y2="202.5" stroke="#2b2b2b" stroke-width="1.9"/>
<line x1="466.0" y1="173.3" x2="457.5" y2="203.5" stroke="#c8c8c8" stroke-width="1.5"/>
<line x1="470.0" y1="173.3" x2="461.5" y2="203.5" stroke="#c8c8c8" stroke-width="1.5"/>
<line x1="474.0" y1="173.3" x2="465.5" y2="203.5" stroke="#c8c8c8" stroke-width="1.5"/>
<line x1="478.0" y1="173.3" x2="469.5" y2="203.5" stroke="#c8c8c8" stroke-width="1.5"/>
<line x1="482.0" y1="173.3" x2="473.5" y2="203.5" stroke="#c8c8c8" stroke-width="1.5"/>
<line x1="486.0" y1="173.3" x2="477.5" y2="203.5" stroke="#c8c8c8" stroke-width="1.5"/>
<polygon points="488.6,173.3 497.4,173.3 504.2,203.5 496.4,203.5" stroke="#ccc" stroke-width="0.8" fill="#d0d0d0"/>
<polyline points="477.0,165.7 487.0,168.5 496.0,171.0 503.0,190.5" stroke="#2b2b2b" stroke-width="1.5" fill="none"/>
<line x1="722.0" y1="178.0" x2="715.0" y2="206.0" stroke="#2b2b2b" stroke-width="1.8"/>
<line x1="726.2" y1="178.0" x2="719.2" y2="206.0" stroke="#2b2b2b" stroke-width="1.8"/>
<line x1="730.4" y1="178.0" x2="723.4" y2="206.0" stroke="#2b2b2b" stroke-width="1.8"/>
<line x1="734.6" y1="178.0" x2="727.6" y2="206.0" stroke="#2b2b2b" stroke-width="1.8"/>
<line x1="738.8" y1="178.0" x2="731.8" y2="206.0" stroke="#2b2b2b" stroke-width="1.8"/>
<line x1="743.0" y1="178.0" x2="736.0" y2="206.0" stroke="#2b2b2b" stroke-width="1.8"/>
<polygon points="749.0,178.0 756.0,178.0 764.0,206.0 755.5,206.0" stroke="#2b2b2b" stroke-width="0.8" fill="#3a3a3a"/>
<line x1="980.0" y1="189.0" x2="980.0" y2="208.0" stroke="#2b2b2b" stroke-width="1.6"/>
<line x1="983.6" y1="189.0" x2="983.6" y2="208.0" stroke="#2b2b2b" stroke-width="1.6"/>
<line x1="987.2" y1="189.0" x2="987.2" y2="208.0" stroke="#2b2b2b" stroke-width="1.6"/>
<line x1="990.8" y1="189.0" x2="990.8" y2="208.0" stroke="#2b2b2b" stroke-width="1.6"/>
<line x1="994.4" y1="189.0" x2="994.4" y2="208.0" stroke="#2b2b2b" stroke-width="1.6"/>
<line x1="998.0" y1="189.0" x2="998.0" y2="208.0" stroke="#2b2b2b" stroke-width="1.6"/>
<line x1="1001.6" y1="189.0" x2="1001.6" y2="208.0" stroke="#2b2b2b" stroke-width="1.6"/>
<rect x="1004.5" y="189.0" width="10.5" height="19.0" fill="#3c3c3c"/>
<line x1="1007.8" y1="189.0" x2="1007.8" y2="208.0" stroke="#888" stroke-width="0.6"/>
<line x1="1011.3" y1="189.0" x2="1011.3" y2="208.0" stroke="#888" stroke-width="0.6"/>
<polyline points="17.5,130.5 295.0,130.0 305.0,133.5 318.0,141.5 347.5,162.5 477.0,165.7" stroke="#2b2b2b" stroke-width="1.5" fill="none"/>
<polyline points="498.4,173.3 505.2,190.9 587.5,195.6 589.5,193.5 591.5,194.5 665.0,196.0 666.0,180.0 720.6,171.5" stroke="#2b2b2b" stroke-width="1.5" fill="none"/>
<polyline points="744.0,168.0 792.5,161.0 860.0,162.5 940.0,166.0 1021.0,168.5" stroke="#2b2b2b" stroke-width="1.5" fill="none"/>
<line x1="382.5" y1="13.8" x2="382.5" y2="33.4" stroke="#3c3c3c" stroke-width="1.4"/>
<line x1="392.4" y1="13.9" x2="392.4" y2="33.5" stroke="#3c3c3c" stroke-width="1.0"/>
<line x1="402.3" y1="14.0" x2="402.3" y2="33.6" stroke="#3c3c3c" stroke-width="1.0"/>
<line x1="412.2" y1="14.0" x2="412.2" y2="33.6" stroke="#3c3c3c" stroke-width="1.0"/>
<line x1="422.1" y1="14.1" x2="422.1" y2="33.7" stroke="#3c3c3c" stroke-width="1.4"/>
<line x1="432.0" y1="14.2" x2="432.0" y2="33.8" stroke="#3c3c3c" stroke-width="1.0"/>
<line x1="441.9" y1="14.3" x2="441.9" y2="33.9" stroke="#3c3c3c" stroke-width="1.0"/>
<line x1="451.8" y1="14.4" x2="451.8" y2="34.0" stroke="#3c3c3c" stroke-width="1.0"/>
<line x1="461.7" y1="14.5" x2="461.7" y2="34.1" stroke="#3c3c3c" stroke-width="1.4"/>
<line x1="471.6" y1="14.5" x2="471.6" y2="34.1" stroke="#3c3c3c" stroke-width="1.0"/>
<line x1="481.5" y1="14.6" x2="481.5" y2="34.2" stroke="#3c3c3c" stroke-width="1.0"/>
<line x1="491.4" y1="14.7" x2="491.4" y2="34.3" stroke="#3c3c3c" stroke-width="1.0"/>
<line x1="501.3" y1="14.8" x2="501.3" y2="34.4" stroke="#3c3c3c" stroke-width="1.4"/>
<line x1="511.2" y1="14.9" x2="511.2" y2="34.5" stroke="#3c3c3c" stroke-width="1.0"/>
<line x1="521.1" y1="14.9" x2="521.1" y2="34.5" stroke="#3c3c3c" stroke-width="1.0"/>
<line x1="531.0" y1="15.0" x2="531.0" y2="34.6" stroke="#3c3c3c" stroke-width="1.0"/>
<line x1="540.9" y1="15.1" x2="540.9" y2="34.7" stroke="#3c3c3c" stroke-width="1.4"/>
<line x1="550.8" y1="15.2" x2="550.8" y2="34.8" stroke="#3c3c3c" stroke-width="1.0"/>
<line x1="560.7" y1="15.3" x2="560.7" y2="34.9" stroke="#3c3c3c" stroke-width="1.0"/>
<line x1="570.6" y1="15.4" x2="570.6" y2="35.0" stroke="#3c3c3c" stroke-width="1.0"/>
<line x1="580.5" y1="15.4" x2="580.5" y2="35.0" stroke="#3c3c3c" stroke-width="1.4"/>
<line x1="590.4" y1="15.5" x2="590.4" y2="35.1" stroke="#3c3c3c" stroke-width="1.0"/>
<line x1="600.3" y1="15.6" x2="600.3" y2="35.2" stroke="#3c3c3c" stroke-width="1.0"/>
<line x1="610.2" y1="15.7" x2="610.2" y2="35.3" stroke="#3c3c3c" stroke-width="1.0"/>
<line x1="620.1" y1="15.8" x2="620.1" y2="35.4" stroke="#3c3c3c" stroke-width="1.4"/>
<line x1="630.0" y1="15.8" x2="630.0" y2="35.4" stroke="#3c3c3c" stroke-width="1.0"/>
<line x1="639.9" y1="15.9" x2="639.9" y2="35.5" stroke="#3c3c3c" stroke-width="1.0"/>
<line x1="649.8" y1="16.0" x2="649.8" y2="35.6" stroke="#3c3c3c" stroke-width="1.0"/>
<line x1="659.7" y1="16.1" x2="659.7" y2="35.7" stroke="#3c3c3c" stroke-width="1.4"/>
<line x1="669.6" y1="16.2" x2="669.6" y2="35.8" stroke="#3c3c3c" stroke-width="1.0"/>
<line x1="679.5" y1="16.2" x2="679.5" y2="35.9" stroke="#3c3c3c" stroke-width="1.0"/>
<line x1="689.4" y1="16.3" x2="689.4" y2="35.9" stroke="#3c3c3c" stroke-width="1.0"/>
<line x1="699.3" y1="16.4" x2="699.3" y2="36.0" stroke="#3c3c3c" stroke-width="1.4"/>
<line x1="709.2" y1="16.5" x2="709.2" y2="36.1" stroke="#3c3c3c" stroke-width="1.0"/>
<line x1="719.1" y1="16.6" x2="719.1" y2="36.2" stroke="#3c3c3c" stroke-width="1.0"/>
<line x1="729.0" y1="16.7" x2="729.0" y2="36.3" stroke="#3c3c3c" stroke-width="1.0"/>
<line x1="738.9" y1="16.7" x2="738.9" y2="36.3" stroke="#3c3c3c" stroke-width="1.4"/>
<line x1="748.8" y1="16.8" x2="748.8" y2="36.4" stroke="#3c3c3c" stroke-width="1.0"/>
<line x1="758.7" y1="16.9" x2="758.7" y2="36.5" stroke="#3c3c3c" stroke-width="1.0"/>
<line x1="768.6" y1="17.0" x2="768.6" y2="36.6" stroke="#3c3c3c" stroke-width="1.0"/>
<line x1="778.5" y1="17.1" x2="778.5" y2="36.7" stroke="#3c3c3c" stroke-width="1.4"/>
<line x1="788.4" y1="17.1" x2="788.4" y2="36.7" stroke="#3c3c3c" stroke-width="1.0"/>
<line x1="798.3" y1="17.2" x2="798.3" y2="36.8" stroke="#3c3c3c" stroke-width="1.0"/>
<line x1="808.2" y1="17.3" x2="808.2" y2="36.9" stroke="#3c3c3c" stroke-width="1.0"/>
<line x1="818.1" y1="17.4" x2="818.1" y2="37.0" stroke="#3c3c3c" stroke-width="1.4"/>
<line x1="828.0" y1="17.5" x2="828.0" y2="37.1" stroke="#3c3c3c" stroke-width="1.0"/>
<line x1="837.9" y1="17.6" x2="837.9" y2="37.2" stroke="#3c3c3c" stroke-width="1.0"/>
<line x1="847.8" y1="17.6" x2="847.8" y2="37.2" stroke="#3c3c3c" stroke-width="1.0"/>
<line x1="857.7" y1="17.7" x2="857.7" y2="37.3" stroke="#3c3c3c" stroke-width="1.4"/>
<line x1="867.6" y1="17.8" x2="867.6" y2="37.4" stroke="#3c3c3c" stroke-width="1.0"/>
<line x1="877.5" y1="17.9" x2="877.5" y2="37.5" stroke="#3c3c3c" stroke-width="1.0"/>
<line x1="887.4" y1="18.0" x2="887.4" y2="37.6" stroke="#3c3c3c" stroke-width="1.0"/>
<line x1="897.3" y1="18.0" x2="897.3" y2="37.6" stroke="#3c3c3c" stroke-width="1.4"/>
<line x1="907.2" y1="18.1" x2="907.2" y2="37.7" stroke="#3c3c3c" stroke-width="1.0"/>
<line x1="917.1" y1="18.2" x2="917.1" y2="37.8" stroke="#3c3c3c" stroke-width="1.0"/>
<line x1="927.0" y1="18.3" x2="927.0" y2="37.9" stroke="#3c3c3c" stroke-width="1.0"/>
<line x1="936.9" y1="18.4" x2="936.9" y2="38.0" stroke="#3c3c3c" stroke-width="1.4"/>
<line x1="946.8" y1="18.5" x2="946.8" y2="38.1" stroke="#3c3c3c" stroke-width="1.0"/>
<line x1="956.7" y1="18.5" x2="956.7" y2="38.1" stroke="#3c3c3c" stroke-width="1.0"/>
<line x1="966.6" y1="18.6" x2="966.6" y2="38.2" stroke="#3c3c3c" stroke-width="1.0"/>
<line x1="976.5" y1="18.7" x2="976.5" y2="38.3" stroke="#3c3c3c" stroke-width="1.4"/>
<line x1="382.5" y1="13.8" x2="392.4" y2="33.5" stroke="#383838" stroke-width="1.1"/>
<line x1="392.4" y1="33.5" x2="402.3" y2="14.0" stroke="#383838" stroke-width="1.1"/>
<line x1="402.3" y1="14.0" x2="412.2" y2="33.6" stroke="#383838" stroke-width="1.1"/>
<line x1="412.2" y1="33.6" x2="422.1" y2="14.1" stroke="#383838" stroke-width="1.1"/>
<line x1="422.1" y1="14.1" x2="432.0" y2="33.8" stroke="#383838" stroke-width="1.1"/>
<line x1="432.0" y1="33.8" x2="441.9" y2="14.3" stroke="#383838" stroke-width="1.1"/>
<line x1="441.9" y1="14.3" x2="451.8" y2="34.0" stroke="#383838" stroke-width="1.1"/>
<line x1="451.8" y1="34.0" x2="461.7" y2="14.5" stroke="#383838" stroke-width="1.1"/>
<line x1="461.7" y1="14.5" x2="471.6" y2="34.1" stroke="#383838" stroke-width="1.1"/>
<line x1="471.6" y1="34.1" x2="481.5" y2="14.6" stroke="#383838" stroke-width="1.1"/>
<line x1="481.5" y1="14.6" x2="491.4" y2="34.3" stroke="#383838" stroke-width="1.1"/>
<line x1="491.4" y1="34.3" x2="501.3" y2="14.8" stroke="#383838" stroke-width="1.1"/>
<line x1="501.3" y1="14.8" x2="511.2" y2="34.5" stroke="#383838" stroke-width="1.1"/>
<line x1="511.2" y1="34.5" x2="521.1" y2="14.9" stroke="#383838" stroke-width="1.1"/>
<line x1="521.1" y1="14.9" x2="531.0" y2="34.6" stroke="#383838" stroke-width="1.1"/>
<line x1="531.0" y1="34.6" x2="540.9" y2="15.1" stroke="#383838" stroke-width="1.1"/>
<line x1="540.9" y1="15.1" x2="550.8" y2="34.8" stroke="#383838" stroke-width="1.1"/>
<line x1="550.8" y1="34.8" x2="560.7" y2="15.3" stroke="#383838" stroke-width="1.1"/>
<line x1="560.7" y1="15.3" x2="570.6" y2="35.0" stroke="#383838" stroke-width="1.1"/>
<line x1="570.6" y1="35.0" x2="580.5" y2="15.4" stroke="#383838" stroke-width="1.1"/>
<line x1="580.5" y1="15.4" x2="590.4" y2="35.1" stroke="#383838" stroke-width="1.1"/>
<line x1="590.4" y1="35.1" x2="600.3" y2="15.6" stroke="#383838" stroke-width="1.1"/>
<line x1="600.3" y1="15.6" x2="610.2" y2="35.3" stroke="#383838" stroke-width="1.1"/>
<line x1="610.2" y1="35.3" x2="620.1" y2="15.8" stroke="#383838" stroke-width="1.1"/>
<line x1="620.1" y1="15.8" x2="630.0" y2="35.4" stroke="#383838" stroke-width="1.1"/>
<line x1="630.0" y1="35.4" x2="639.9" y2="15.9" stroke="#383838" stroke-width="1.1"/>
<line x1="639.9" y1="15.9" x2="649.8" y2="35.6" stroke="#383838" stroke-width="1.1"/>
<line x1="649.8" y1="35.6" x2="659.7" y2="16.1" stroke="#383838" stroke-width="1.1"/>
<line x1="659.7" y1="16.1" x2="669.6" y2="35.8" stroke="#383838" stroke-width="1.1"/>
<line x1="669.6" y1="35.8" x2="679.5" y2="16.2" stroke="#383838" stroke-width="1.1"/>
<line x1="679.5" y1="16.2" x2="689.4" y2="35.9" stroke="#383838" stroke-width="1.1"/>
<line x1="689.4" y1="35.9" x2="699.3" y2="16.4" stroke="#383838" stroke-width="1.1"/>
<line x1="699.3" y1="16.4" x2="709.2" y2="36.1" stroke="#383838" stroke-width="1.1"/>
<line x1="709.2" y1="36.1" x2="719.1" y2="16.6" stroke="#383838" stroke-width="1.1"/>
<line x1="719.1" y1="16.6" x2="729.0" y2="36.3" stroke="#383838" stroke-width="1.1"/>
<line x1="729.0" y1="36.3" x2="738.9" y2="16.7" stroke="#383838" stroke-width="1.1"/>
<line x1="738.9" y1="16.7" x2="748.8" y2="36.4" stroke="#383838" stroke-width="1.1"/>
<line x1="748.8" y1="36.4" x2="758.7" y2="16.9" stroke="#383838" stroke-width="1.1"/>
<line x1="758.7" y1="16.9" x2="768.6" y2="36.6" stroke="#383838" stroke-width="1.1"/>
<line x1="768.6" y1="36.6" x2="778.5" y2="17.1" stroke="#383838" stroke-width="1.1"/>
<line x1="778.5" y1="17.1" x2="788.4" y2="36.7" stroke="#383838" stroke-width="1.1"/>
<line x1="788.4" y1="36.7" x2="798.3" y2="17.2" stroke="#383838" stroke-width="1.1"/>
<line x1="798.3" y1="17.2" x2="808.2" y2="36.9" stroke="#383838" stroke-width="1.1"/>
<line x1="808.2" y1="36.9" x2="818.1" y2="17.4" stroke="#383838" stroke-width="1.1"/>
<line x1="818.1" y1="17.4" x2="828.0" y2="37.1" stroke="#383838" stroke-width="1.1"/>
<line x1="828.0" y1="37.1" x2="837.9" y2="17.6" stroke="#383838" stroke-width="1.1"/>
<line x1="837.9" y1="17.6" x2="847.8" y2="37.2" stroke="#383838" stroke-width="1.1"/>
<line x1="847.8" y1="37.2" x2="857.7" y2="17.7" stroke="#383838" stroke-width="1.1"/>
<line x1="857.7" y1="17.7" x2="867.6" y2="37.4" stroke="#383838" stroke-width="1.1"/>
<line x1="867.6" y1="37.4" x2="877.5" y2="17.9" stroke="#383838" stroke-width="1.1"/>
<line x1="877.5" y1="17.9" x2="887.4" y2="37.6" stroke="#383838" stroke-width="1.1"/>
<line x1="887.4" y1="37.6" x2="897.3" y2="18.0" stroke="#383838" stroke-width="1.1"/>
<line x1="897.3" y1="18.0" x2="907.2" y2="37.7" stroke="#383838" stroke-width="1.1"/>
<line x1="907.2" y1="37.7" x2="917.1" y2="18.2" stroke="#383838" stroke-width="1.1"/>
<line x1="917.1" y1="18.2" x2="927.0" y2="37.9" stroke="#383838" stroke-width="1.1"/>
<line x1="927.0" y1="37.9" x2="936.9" y2="18.4" stroke="#383838" stroke-width="1.1"/>
<line x1="936.9" y1="18.4" x2="946.8" y2="38.1" stroke="#383838" stroke-width="1.1"/>
<line x1="946.8" y1="38.1" x2="956.7" y2="18.5" stroke="#383838" stroke-width="1.1"/>
<line x1="956.7" y1="18.5" x2="966.6" y2="38.2" stroke="#383838" stroke-width="1.1"/>
<line x1="966.6" y1="38.2" x2="976.5" y2="18.7" stroke="#383838" stroke-width="1.1"/>
<line x1="382.5" y1="13.8" x2="976.5" y2="18.7" stroke="#2b2b2b" stroke-width="2.2"/>
<line x1="382.5" y1="33.4" x2="976.5" y2="38.3" stroke="#2b2b2b" stroke-width="2.2"/>
<rect x="740.0" y="38.5" width="12.5" height="3.0" fill="#c4c4c4"/>
<rect x="741.5" y="41.5" width="9.5" height="2.5" fill="#c4c4c4"/>
<rect x="743.0" y="44.0" width="7.0" height="52.0" fill="#c4c4c4"/>
<rect x="742.5" y="96.0" width="11.5" height="46.5" fill="#c4c4c4"/>
<rect x="736.5" y="110.0" width="8.5" height="59.0" stroke="#2b2b2b" stroke-width="2.0" fill="none"/>
<line x1="732.5" y1="144.5" x2="754.5" y2="144.5" stroke="#2b2b2b" stroke-width="2.4"/>
<line x1="736.5" y1="147.8" x2="745.0" y2="147.8" stroke="#2b2b2b" stroke-width="1.6"/>
<line x1="734.0" y1="111.0" x2="747.0" y2="111.0" stroke="#2b2b2b" stroke-width="1.8"/>
<rect x="999.0" y="52.0" width="13.7" height="3.5" fill="#c4c4c4"/>
<rect x="999.0" y="57.5" width="13.7" height="3.5" fill="#c4c4c4"/>
<rect x="1002.7" y="61.0" width="7.3" height="49.0" fill="#c4c4c4"/>
<rect x="1002.7" y="110.0" width="12.0" height="49.0" fill="#c4c4c4"/>
<rect x="996.5" y="124.0" width="8.5" height="55.0" stroke="#2b2b2b" stroke-width="2.0" fill="none"/>
<line x1="993.6" y1="159.5" x2="1014.7" y2="159.5" stroke="#2b2b2b" stroke-width="2.4"/>
<line x1="996.5" y1="162.5" x2="1005.0" y2="162.5" stroke="#2b2b2b" stroke-width="1.6"/>
<line x1="994.5" y1="125.0" x2="1007.0" y2="125.0" stroke="#2b2b2b" stroke-width="1.6"/>
</g>
<g transform="translate(-12.50,1314.50)">
<line x1="18.8" y1="62.0" x2="18.8" y2="116.0" stroke="#c0c0c0" stroke-width="1.4"/>
<polyline points="18.8,84.8 26.5,95.4 38.5,81.8" stroke="#2b2b2b" stroke-width="2.4" fill="none"/>
<line x1="18.5" y1="95.3" x2="27.0" y2="95.9" stroke="#2b2b2b" stroke-width="2.6"/>
<polyline points="47.5,82.0 62.8,96.9 78.1,82.7 93.4,97.8 108.6,83.4 123.9,98.7 139.2,84.1 154.5,99.6 169.8,84.8 185.1,100.5 200.4,85.5 215.6,101.4 230.9,86.2 246.2,102.2 261.5,86.9" stroke="#2b2b2b" stroke-width="2.6" fill="none" stroke-linejoin="miter"/>
<line x1="61.3" y1="96.9" x2="247.7" y2="102.3" stroke="#2b2b2b" stroke-width="3.0"/>
<polyline points="271.5,87.2 286.4,103.4 301.4,88.1 316.3,104.3 331.2,89.0 346.1,105.1 361.1,89.9 376.0,106.0 390.9,90.8 405.9,106.9 420.8,91.7 435.7,107.7 450.6,92.6 465.6,108.6 480.5,93.5" stroke="#2b2b2b" stroke-width="2.6" fill="none" stroke-linejoin="miter"/>
<line x1="284.9" y1="103.4" x2="467.1" y2="108.6" stroke="#2b2b2b" stroke-width="3.0"/>
<polygon points="18,77.1 267,82.8 483.5,89.4 483.5,93.6 267,87.0 18,81.3" fill="#8a8a8a"/>
<polyline points="18.0,77.1 267.0,82.8 483.5,89.4" stroke="#2b2b2b" stroke-width="2.3" fill="none"/>
<polyline points="18.0,81.3 267.0,87.0 483.5,93.6" stroke="#2b2b2b" stroke-width="2.0" fill="none"/>
<rect x="40.8" y="82.9" width="7.8" height="51.1" stroke="#2b2b2b" stroke-width="2.0" fill="none"/>
<rect x="40.8" y="120.0" width="7.8" height="2.6" fill="#555"/>
<line x1="40.8" y1="123.2" x2="48.6" y2="123.2" stroke="#2b2b2b" stroke-width="1.2"/>
<rect x="263.3" y="88.0" width="8.5" height="52.0" stroke="#2b2b2b" stroke-width="2.0" fill="none"/>
<rect x="263.3" y="127.0" width="8.5" height="2.6" fill="#555"/>
<line x1="263.3" y1="130.2" x2="271.8" y2="130.2" stroke="#2b2b2b" stroke-width="1.2"/>
<rect x="478.0" y="97.0" width="8.5" height="69.0" stroke="#2b2b2b" stroke-width="2.0" fill="none"/>
<rect x="478.0" y="134.0" width="8.5" height="2.6" fill="#555"/>
<line x1="478.0" y1="137.2" x2="486.5" y2="137.2" stroke="#2b2b2b" stroke-width="1.2"/>
<rect x="29.4" y="134.0" width="30.6" height="10.4" stroke="#2b2b2b" stroke-width="2.0" fill="#fff"/>
<rect x="251.0" y="140.0" width="31.5" height="10.5" stroke="#2b2b2b" stroke-width="2.0" fill="#fff"/>
<rect x="462.7" y="166.4" width="37.6" height="6.9" stroke="#2b2b2b" stroke-width="2.0" fill="#fff"/>
<rect x="720.6" y="170.0" width="40.0" height="8.0" stroke="#2b2b2b" stroke-width="2.0" fill="#fff"/>
<rect x="975.6" y="179.0" width="44.4" height="10.0" stroke="#2b2b2b" stroke-width="2.0" fill="#fff"/>
<line x1="32.0" y1="144.4" x2="32.0" y2="200.5" stroke="#2b2b2b" stroke-width="1.9"/>
<line x1="36.0" y1="144.4" x2="36.0" y2="200.5" stroke="#2b2b2b" stroke-width="1.9"/>
<line x1="43.0" y1="144.4" x2="43.0" y2="200.5" stroke="#2b2b2b" stroke-width="1.9"/>
<line x1="47.0" y1="144.4" x2="47.0" y2="200.5" stroke="#2b2b2b" stroke-width="1.9"/>
<line x1="53.0" y1="144.4" x2="53.0" y2="200.5" stroke="#2b2b2b" stroke-width="1.9"/>
<line x1="57.0" y1="144.4" x2="57.0" y2="200.5" stroke="#2b2b2b" stroke-width="1.9"/>
<line x1="254.0" y1="150.5" x2="254.0" y2="202.5" stroke="#2b2b2b" stroke-width="1.9"/>
<line x1="259.0" y1="150.5" x2="259.0" y2="202.5" stroke="#2b2b2b" stroke-width="1.9"/>
<line x1="265.0" y1="150.5" x2="265.0" y2="202.5" stroke="#2b2b2b" stroke-width="1.9"/>
<line x1="270.0" y1="150.5" x2="270.0" y2="202.5" stroke="#2b2b2b" stroke-width="1.9"/>
<line x1="275.0" y1="150.5" x2="275.0" y2="202.5" stroke="#2b2b2b" stroke-width="1.9"/>
<line x1="280.0" y1="150.5" x2="280.0" y2="202.5" stroke="#2b2b2b" stroke-width="1.9"/>
<line x1="466.0" y1="173.3" x2="457.5" y2="203.5" stroke="#2b2b2b" stroke-width="1.8"/>
<line x1="470.0" y1="173.3" x2="461.5" y2="203.5" stroke="#2b2b2b" stroke-width="1.8"/>
<line x1="474.0" y1="173.3" x2="465.5" y2="203.5" stroke="#2b2b2b" stroke-width="1.8"/>
<line x1="478.0" y1="173.3" x2="469.5" y2="203.5" stroke="#2b2b2b" stroke-width="1.8"/>
<line x1="482.0" y1="173.3" x2="473.5" y2="203.5" stroke="#2b2b2b" stroke-width="1.8"/>
<line x1="486.0" y1="173.3" x2="477.5" y2="203.5" stroke="#2b2b2b" stroke-width="1.8"/>
<polygon points="488.6,173.3 497.4,173.3 504.2,203.5 496.4,203.5" stroke="#2b2b2b" stroke-width="0.8" fill="#3a3a3a"/>
<line x1="722.0" y1="178.0" x2="715.0" y2="206.0" stroke="#2b2b2b" stroke-width="1.8"/>
<line x1="726.2" y1="178.0" x2="719.2" y2="206.0" stroke="#2b2b2b" stroke-width="1.8"/>
<line x1="730.4" y1="178.0" x2="723.4" y2="206.0" stroke="#2b2b2b" stroke-width="1.8"/>
<line x1="734.6" y1="178.0" x2="727.6" y2="206.0" stroke="#2b2b2b" stroke-width="1.8"/>
<line x1="738.8" y1="178.0" x2="731.8" y2="206.0" stroke="#2b2b2b" stroke-width="1.8"/>
<line x1="743.0" y1="178.0" x2="736.0" y2="206.0" stroke="#2b2b2b" stroke-width="1.8"/>
<polygon points="749.0,178.0 756.0,178.0 764.0,206.0 755.5,206.0" stroke="#2b2b2b" stroke-width="0.8" fill="#3a3a3a"/>
<line x1="980.0" y1="189.0" x2="980.0" y2="208.0" stroke="#2b2b2b" stroke-width="1.6"/>
<line x1="983.6" y1="189.0" x2="983.6" y2="208.0" stroke="#2b2b2b" stroke-width="1.6"/>
<line x1="987.2" y1="189.0" x2="987.2" y2="208.0" stroke="#2b2b2b" stroke-width="1.6"/>
<line x1="990.8" y1="189.0" x2="990.8" y2="208.0" stroke="#2b2b2b" stroke-width="1.6"/>
<line x1="994.4" y1="189.0" x2="994.4" y2="208.0" stroke="#2b2b2b" stroke-width="1.6"/>
<line x1="998.0" y1="189.0" x2="998.0" y2="208.0" stroke="#2b2b2b" stroke-width="1.6"/>
<line x1="1001.6" y1="189.0" x2="1001.6" y2="208.0" stroke="#2b2b2b" stroke-width="1.6"/>
<rect x="1004.5" y="189.0" width="10.5" height="19.0" fill="#3c3c3c"/>
<line x1="1007.8" y1="189.0" x2="1007.8" y2="208.0" stroke="#888" stroke-width="0.6"/>
<line x1="1011.3" y1="189.0" x2="1011.3" y2="208.0" stroke="#888" stroke-width="0.6"/>
<polyline points="17.5,130.5 295.0,130.0 305.0,133.5 318.0,141.5 347.5,162.5 477.0,165.7" stroke="#2b2b2b" stroke-width="1.5" fill="none"/>
<polyline points="498.4,173.3 505.2,190.9 587.5,195.6 589.5,193.5 591.5,194.5 665.0,196.0 666.0,180.0 720.6,171.5" stroke="#2b2b2b" stroke-width="1.5" fill="none"/>
<polyline points="744.0,168.0 792.5,161.0 860.0,162.5 940.0,166.0 1021.0,168.5" stroke="#2b2b2b" stroke-width="1.5" fill="none"/>
<line x1="382.5" y1="13.8" x2="382.5" y2="33.4" stroke="#3c3c3c" stroke-width="1.4"/>
<line x1="392.4" y1="13.9" x2="392.4" y2="33.5" stroke="#3c3c3c" stroke-width="1.0"/>
<line x1="402.3" y1="14.0" x2="402.3" y2="33.6" stroke="#3c3c3c" stroke-width="1.0"/>
<line x1="412.2" y1="14.0" x2="412.2" y2="33.6" stroke="#3c3c3c" stroke-width="1.0"/>
<line x1="422.1" y1="14.1" x2="422.1" y2="33.7" stroke="#3c3c3c" stroke-width="1.4"/>
<line x1="432.0" y1="14.2" x2="432.0" y2="33.8" stroke="#3c3c3c" stroke-width="1.0"/>
<line x1="441.9" y1="14.3" x2="441.9" y2="33.9" stroke="#3c3c3c" stroke-width="1.0"/>
<line x1="451.8" y1="14.4" x2="451.8" y2="34.0" stroke="#3c3c3c" stroke-width="1.0"/>
<line x1="461.7" y1="14.5" x2="461.7" y2="34.1" stroke="#3c3c3c" stroke-width="1.4"/>
<line x1="471.6" y1="14.5" x2="471.6" y2="34.1" stroke="#3c3c3c" stroke-width="1.0"/>
<line x1="481.5" y1="14.6" x2="481.5" y2="34.2" stroke="#3c3c3c" stroke-width="1.0"/>
<line x1="491.4" y1="14.7" x2="491.4" y2="34.3" stroke="#3c3c3c" stroke-width="1.0"/>
<line x1="501.3" y1="14.8" x2="501.3" y2="34.4" stroke="#3c3c3c" stroke-width="1.4"/>
<line x1="511.2" y1="14.9" x2="511.2" y2="34.5" stroke="#3c3c3c" stroke-width="1.0"/>
<line x1="521.1" y1="14.9" x2="521.1" y2="34.5" stroke="#3c3c3c" stroke-width="1.0"/>
<line x1="531.0" y1="15.0" x2="531.0" y2="34.6" stroke="#3c3c3c" stroke-width="1.0"/>
<line x1="540.9" y1="15.1" x2="540.9" y2="34.7" stroke="#3c3c3c" stroke-width="1.4"/>
<line x1="550.8" y1="15.2" x2="550.8" y2="34.8" stroke="#3c3c3c" stroke-width="1.0"/>
<line x1="560.7" y1="15.3" x2="560.7" y2="34.9" stroke="#3c3c3c" stroke-width="1.0"/>
<line x1="570.6" y1="15.4" x2="570.6" y2="35.0" stroke="#3c3c3c" stroke-width="1.0"/>
<line x1="580.5" y1="15.4" x2="580.5" y2="35.0" stroke="#3c3c3c" stroke-width="1.4"/>
<line x1="590.4" y1="15.5" x2="590.4" y2="35.1" stroke="#3c3c3c" stroke-width="1.0"/>
<line x1="600.3" y1="15.6" x2="600.3" y2="35.2" stroke="#3c3c3c" stroke-width="1.0"/>
<line x1="610.2" y1="15.7" x2="610.2" y2="35.3" stroke="#3c3c3c" stroke-width="1.0"/>
<line x1="620.1" y1="15.8" x2="620.1" y2="35.4" stroke="#3c3c3c" stroke-width="1.4"/>
<line x1="630.0" y1="15.8" x2="630.0" y2="35.4" stroke="#3c3c3c" stroke-width="1.0"/>
<line x1="639.9" y1="15.9" x2="639.9" y2="35.5" stroke="#3c3c3c" stroke-width="1.0"/>
<line x1="649.8" y1="16.0" x2="649.8" y2="35.6" stroke="#3c3c3c" stroke-width="1.0"/>
<line x1="659.7" y1="16.1" x2="659.7" y2="35.7" stroke="#3c3c3c" stroke-width="1.4"/>
<line x1="669.6" y1="16.2" x2="669.6" y2="35.8" stroke="#3c3c3c" stroke-width="1.0"/>
<line x1="679.5" y1="16.2" x2="679.5" y2="35.9" stroke="#3c3c3c" stroke-width="1.0"/>
<line x1="689.4" y1="16.3" x2="689.4" y2="35.9" stroke="#3c3c3c" stroke-width="1.0"/>
<line x1="699.3" y1="16.4" x2="699.3" y2="36.0" stroke="#3c3c3c" stroke-width="1.4"/>
<line x1="709.2" y1="16.5" x2="709.2" y2="36.1" stroke="#3c3c3c" stroke-width="1.0"/>
<line x1="719.1" y1="16.6" x2="719.1" y2="36.2" stroke="#3c3c3c" stroke-width="1.0"/>
<line x1="729.0" y1="16.7" x2="729.0" y2="36.3" stroke="#3c3c3c" stroke-width="1.0"/>
<line x1="738.9" y1="16.7" x2="738.9" y2="36.3" stroke="#3c3c3c" stroke-width="1.4"/>
<line x1="748.8" y1="16.8" x2="748.8" y2="36.4" stroke="#3c3c3c" stroke-width="1.0"/>
<line x1="758.7" y1="16.9" x2="758.7" y2="36.5" stroke="#3c3c3c" stroke-width="1.0"/>
<line x1="768.6" y1="17.0" x2="768.6" y2="36.6" stroke="#3c3c3c" stroke-width="1.0"/>
<line x1="778.5" y1="17.1" x2="778.5" y2="36.7" stroke="#3c3c3c" stroke-width="1.4"/>
<line x1="788.4" y1="17.1" x2="788.4" y2="36.7" stroke="#3c3c3c" stroke-width="1.0"/>
<line x1="798.3" y1="17.2" x2="798.3" y2="36.8" stroke="#3c3c3c" stroke-width="1.0"/>
<line x1="808.2" y1="17.3" x2="808.2" y2="36.9" stroke="#3c3c3c" stroke-width="1.0"/>
<line x1="818.1" y1="17.4" x2="818.1" y2="37.0" stroke="#3c3c3c" stroke-width="1.4"/>
<line x1="828.0" y1="17.5" x2="828.0" y2="37.1" stroke="#3c3c3c" stroke-width="1.0"/>
<line x1="837.9" y1="17.6" x2="837.9" y2="37.2" stroke="#3c3c3c" stroke-width="1.0"/>
<line x1="847.8" y1="17.6" x2="847.8" y2="37.2" stroke="#3c3c3c" stroke-width="1.0"/>
<line x1="857.7" y1="17.7" x2="857.7" y2="37.3" stroke="#3c3c3c" stroke-width="1.4"/>
<line x1="867.6" y1="17.8" x2="867.6" y2="37.4" stroke="#3c3c3c" stroke-width="1.0"/>
<line x1="877.5" y1="17.9" x2="877.5" y2="37.5" stroke="#3c3c3c" stroke-width="1.0"/>
<line x1="887.4" y1="18.0" x2="887.4" y2="37.6" stroke="#3c3c3c" stroke-width="1.0"/>
<line x1="897.3" y1="18.0" x2="897.3" y2="37.6" stroke="#3c3c3c" stroke-width="1.4"/>
<line x1="907.2" y1="18.1" x2="907.2" y2="37.7" stroke="#3c3c3c" stroke-width="1.0"/>
<line x1="917.1" y1="18.2" x2="917.1" y2="37.8" stroke="#3c3c3c" stroke-width="1.0"/>
<line x1="927.0" y1="18.3" x2="927.0" y2="37.9" stroke="#3c3c3c" stroke-width="1.0"/>
<line x1="936.9" y1="18.4" x2="936.9" y2="38.0" stroke="#3c3c3c" stroke-width="1.4"/>
<line x1="946.8" y1="18.5" x2="946.8" y2="38.1" stroke="#3c3c3c" stroke-width="1.0"/>
<line x1="956.7" y1="18.5" x2="956.7" y2="38.1" stroke="#3c3c3c" stroke-width="1.0"/>
<line x1="966.6" y1="18.6" x2="966.6" y2="38.2" stroke="#3c3c3c" stroke-width="1.0"/>
<line x1="976.5" y1="18.7" x2="976.5" y2="38.3" stroke="#3c3c3c" stroke-width="1.4"/>
<line x1="382.5" y1="13.8" x2="392.4" y2="33.5" stroke="#383838" stroke-width="1.1"/>
<line x1="392.4" y1="33.5" x2="402.3" y2="14.0" stroke="#383838" stroke-width="1.1"/>
<line x1="402.3" y1="14.0" x2="412.2" y2="33.6" stroke="#383838" stroke-width="1.1"/>
<line x1="412.2" y1="33.6" x2="422.1" y2="14.1" stroke="#383838" stroke-width="1.1"/>
<line x1="422.1" y1="14.1" x2="432.0" y2="33.8" stroke="#383838" stroke-width="1.1"/>
<line x1="432.0" y1="33.8" x2="441.9" y2="14.3" stroke="#383838" stroke-width="1.1"/>
<line x1="441.9" y1="14.3" x2="451.8" y2="34.0" stroke="#383838" stroke-width="1.1"/>
<line x1="451.8" y1="34.0" x2="461.7" y2="14.5" stroke="#383838" stroke-width="1.1"/>
<line x1="461.7" y1="14.5" x2="471.6" y2="34.1" stroke="#383838" stroke-width="1.1"/>
<line x1="471.6" y1="34.1" x2="481.5" y2="14.6" stroke="#383838" stroke-width="1.1"/>
<line x1="481.5" y1="14.6" x2="491.4" y2="34.3" stroke="#383838" stroke-width="1.1"/>
<line x1="491.4" y1="34.3" x2="501.3" y2="14.8" stroke="#383838" stroke-width="1.1"/>
<line x1="501.3" y1="14.8" x2="511.2" y2="34.5" stroke="#383838" stroke-width="1.1"/>
<line x1="511.2" y1="34.5" x2="521.1" y2="14.9" stroke="#383838" stroke-width="1.1"/>
<line x1="521.1" y1="14.9" x2="531.0" y2="34.6" stroke="#383838" stroke-width="1.1"/>
<line x1="531.0" y1="34.6" x2="540.9" y2="15.1" stroke="#383838" stroke-width="1.1"/>
<line x1="540.9" y1="15.1" x2="550.8" y2="34.8" stroke="#383838" stroke-width="1.1"/>
<line x1="550.8" y1="34.8" x2="560.7" y2="15.3" stroke="#383838" stroke-width="1.1"/>
<line x1="560.7" y1="15.3" x2="570.6" y2="35.0" stroke="#383838" stroke-width="1.1"/>
<line x1="570.6" y1="35.0" x2="580.5" y2="15.4" stroke="#383838" stroke-width="1.1"/>
<line x1="580.5" y1="15.4" x2="590.4" y2="35.1" stroke="#383838" stroke-width="1.1"/>
<line x1="590.4" y1="35.1" x2="600.3" y2="15.6" stroke="#383838" stroke-width="1.1"/>
<line x1="600.3" y1="15.6" x2="610.2" y2="35.3" stroke="#383838" stroke-width="1.1"/>
<line x1="610.2" y1="35.3" x2="620.1" y2="15.8" stroke="#383838" stroke-width="1.1"/>
<line x1="620.1" y1="15.8" x2="630.0" y2="35.4" stroke="#383838" stroke-width="1.1"/>
<line x1="630.0" y1="35.4" x2="639.9" y2="15.9" stroke="#383838" stroke-width="1.1"/>
<line x1="639.9" y1="15.9" x2="649.8" y2="35.6" stroke="#383838" stroke-width="1.1"/>
<line x1="649.8" y1="35.6" x2="659.7" y2="16.1" stroke="#383838" stroke-width="1.1"/>
<line x1="659.7" y1="16.1" x2="669.6" y2="35.8" stroke="#383838" stroke-width="1.1"/>
<line x1="669.6" y1="35.8" x2="679.5" y2="16.2" stroke="#383838" stroke-width="1.1"/>
<line x1="679.5" y1="16.2" x2="689.4" y2="35.9" stroke="#383838" stroke-width="1.1"/>
<line x1="689.4" y1="35.9" x2="699.3" y2="16.4" stroke="#383838" stroke-width="1.1"/>
<line x1="699.3" y1="16.4" x2="709.2" y2="36.1" stroke="#383838" stroke-width="1.1"/>
<line x1="709.2" y1="36.1" x2="719.1" y2="16.6" stroke="#383838" stroke-width="1.1"/>
<line x1="719.1" y1="16.6" x2="729.0" y2="36.3" stroke="#383838" stroke-width="1.1"/>
<line x1="729.0" y1="36.3" x2="738.9" y2="16.7" stroke="#383838" stroke-width="1.1"/>
<line x1="738.9" y1="16.7" x2="748.8" y2="36.4" stroke="#383838" stroke-width="1.1"/>
<line x1="748.8" y1="36.4" x2="758.7" y2="16.9" stroke="#383838" stroke-width="1.1"/>
<line x1="758.7" y1="16.9" x2="768.6" y2="36.6" stroke="#383838" stroke-width="1.1"/>
<line x1="768.6" y1="36.6" x2="778.5" y2="17.1" stroke="#383838" stroke-width="1.1"/>
<line x1="778.5" y1="17.1" x2="788.4" y2="36.7" stroke="#383838" stroke-width="1.1"/>
<line x1="788.4" y1="36.7" x2="798.3" y2="17.2" stroke="#383838" stroke-width="1.1"/>
<line x1="798.3" y1="17.2" x2="808.2" y2="36.9" stroke="#383838" stroke-width="1.1"/>
<line x1="808.2" y1="36.9" x2="818.1" y2="17.4" stroke="#383838" stroke-width="1.1"/>
<line x1="818.1" y1="17.4" x2="828.0" y2="37.1" stroke="#383838" stroke-width="1.1"/>
<line x1="828.0" y1="37.1" x2="837.9" y2="17.6" stroke="#383838" stroke-width="1.1"/>
<line x1="837.9" y1="17.6" x2="847.8" y2="37.2" stroke="#383838" stroke-width="1.1"/>
<line x1="847.8" y1="37.2" x2="857.7" y2="17.7" stroke="#383838" stroke-width="1.1"/>
<line x1="857.7" y1="17.7" x2="867.6" y2="37.4" stroke="#383838" stroke-width="1.1"/>
<line x1="867.6" y1="37.4" x2="877.5" y2="17.9" stroke="#383838" stroke-width="1.1"/>
<line x1="877.5" y1="17.9" x2="887.4" y2="37.6" stroke="#383838" stroke-width="1.1"/>
<line x1="887.4" y1="37.6" x2="897.3" y2="18.0" stroke="#383838" stroke-width="1.1"/>
<line x1="897.3" y1="18.0" x2="907.2" y2="37.7" stroke="#383838" stroke-width="1.1"/>
<line x1="907.2" y1="37.7" x2="917.1" y2="18.2" stroke="#383838" stroke-width="1.1"/>
<line x1="917.1" y1="18.2" x2="927.0" y2="37.9" stroke="#383838" stroke-width="1.1"/>
<line x1="927.0" y1="37.9" x2="936.9" y2="18.4" stroke="#383838" stroke-width="1.1"/>
<line x1="936.9" y1="18.4" x2="946.8" y2="38.1" stroke="#383838" stroke-width="1.1"/>
<line x1="946.8" y1="38.1" x2="956.7" y2="18.5" stroke="#383838" stroke-width="1.1"/>
<line x1="956.7" y1="18.5" x2="966.6" y2="38.2" stroke="#383838" stroke-width="1.1"/>
<line x1="966.6" y1="38.2" x2="976.5" y2="18.7" stroke="#383838" stroke-width="1.1"/>
<line x1="382.5" y1="13.8" x2="976.5" y2="18.7" stroke="#2b2b2b" stroke-width="2.2"/>
<line x1="382.5" y1="33.4" x2="976.5" y2="38.3" stroke="#2b2b2b" stroke-width="2.2"/>
<rect x="740.0" y="38.5" width="12.5" height="3.0" fill="#c4c4c4"/>
<rect x="741.5" y="41.5" width="9.5" height="2.5" fill="#c4c4c4"/>
<rect x="743.0" y="44.0" width="7.0" height="52.0" fill="#c4c4c4"/>
<rect x="742.5" y="96.0" width="11.5" height="46.5" fill="#c4c4c4"/>
<rect x="736.5" y="110.0" width="8.5" height="59.0" stroke="#2b2b2b" stroke-width="2.0" fill="none"/>
<line x1="732.5" y1="144.5" x2="754.5" y2="144.5" stroke="#2b2b2b" stroke-width="2.4"/>
<line x1="736.5" y1="147.8" x2="745.0" y2="147.8" stroke="#2b2b2b" stroke-width="1.6"/>
<line x1="734.0" y1="111.0" x2="747.0" y2="111.0" stroke="#2b2b2b" stroke-width="1.8"/>
<rect x="999.0" y="52.0" width="13.7" height="3.5" fill="#c4c4c4"/>
<rect x="999.0" y="57.5" width="13.7" height="3.5" fill="#c4c4c4"/>
<rect x="1002.7" y="61.0" width="7.3" height="49.0" fill="#c4c4c4"/>
<rect x="1002.7" y="110.0" width="12.0" height="49.0" fill="#c4c4c4"/>
<rect x="996.5" y="124.0" width="8.5" height="55.0" stroke="#2b2b2b" stroke-width="2.0" fill="none"/>
<line x1="993.6" y1="159.5" x2="1014.7" y2="159.5" stroke="#2b2b2b" stroke-width="2.4"/>
<line x1="996.5" y1="162.5" x2="1005.0" y2="162.5" stroke="#2b2b2b" stroke-width="1.6"/>
<line x1="994.5" y1="125.0" x2="1007.0" y2="125.0" stroke="#2b2b2b" stroke-width="1.6"/>
</g>
<g transform="translate(-15.00,1577.40)">
<line x1="18.8" y1="62.0" x2="18.8" y2="116.0" stroke="#c0c0c0" stroke-width="1.4"/>
<polyline points="18.8,84.8 26.5,95.4 38.5,81.8" stroke="#2b2b2b" stroke-width="2.4" fill="none"/>
<line x1="18.5" y1="95.3" x2="27.0" y2="95.9" stroke="#2b2b2b" stroke-width="2.6"/>
<polyline points="47.5,82.0 62.8,96.9 78.1,82.7 93.4,97.8 108.6,83.4 123.9,98.7 139.2,84.1 154.5,99.6 169.8,84.8 185.1,100.5 200.4,85.5 215.6,101.4 230.9,86.2 246.2,102.2 261.5,86.9" stroke="#2b2b2b" stroke-width="2.6" fill="none" stroke-linejoin="miter"/>
<line x1="61.3" y1="96.9" x2="247.7" y2="102.3" stroke="#2b2b2b" stroke-width="3.0"/>
<polyline points="271.5,87.2 286.4,103.4 301.4,88.1 316.3,104.3 331.2,89.0 346.1,105.1 361.1,89.9 376.0,106.0 390.9,90.8 405.9,106.9 420.8,91.7 435.7,107.7 450.6,92.6 465.6,108.6 480.5,93.5" stroke="#2b2b2b" stroke-width="2.6" fill="none" stroke-linejoin="miter"/>
<line x1="284.9" y1="103.4" x2="467.1" y2="108.6" stroke="#2b2b2b" stroke-width="3.0"/>
<polygon points="18,77.1 267,82.8 483.5,89.4 483.5,93.6 267,87.0 18,81.3" fill="#8a8a8a"/>
<polyline points="18.0,77.1 267.0,82.8 483.5,89.4" stroke="#2b2b2b" stroke-width="2.3" fill="none"/>
<polyline points="18.0,81.3 267.0,87.0 483.5,93.6" stroke="#2b2b2b" stroke-width="2.0" fill="none"/>
<rect x="40.8" y="82.9" width="7.8" height="51.1" stroke="#2b2b2b" stroke-width="2.0" fill="none"/>
<rect x="40.8" y="120.0" width="7.8" height="2.6" fill="#555"/>
<line x1="40.8" y1="123.2" x2="48.6" y2="123.2" stroke="#2b2b2b" stroke-width="1.2"/>
<rect x="263.3" y="88.0" width="8.5" height="52.0" stroke="#2b2b2b" stroke-width="2.0" fill="none"/>
<rect x="263.3" y="127.0" width="8.5" height="2.6" fill="#555"/>
<line x1="263.3" y1="130.2" x2="271.8" y2="130.2" stroke="#2b2b2b" stroke-width="1.2"/>
<rect x="478.0" y="97.0" width="8.5" height="69.0" stroke="#2b2b2b" stroke-width="2.0" fill="none"/>
<rect x="478.0" y="134.0" width="8.5" height="2.6" fill="#555"/>
<line x1="478.0" y1="137.2" x2="486.5" y2="137.2" stroke="#2b2b2b" stroke-width="1.2"/>
<rect x="29.4" y="134.0" width="30.6" height="10.4" stroke="#2b2b2b" stroke-width="2.0" fill="#fff"/>
<rect x="251.0" y="140.0" width="31.5" height="10.5" stroke="#2b2b2b" stroke-width="2.0" fill="#fff"/>
<rect x="462.7" y="166.4" width="37.6" height="6.9" stroke="#2b2b2b" stroke-width="2.0" fill="#fff"/>
<rect x="720.6" y="170.0" width="40.0" height="8.0" stroke="#2b2b2b" stroke-width="2.0" fill="#fff"/>
<rect x="975.6" y="179.0" width="44.4" height="10.0" stroke="#2b2b2b" stroke-width="2.0" fill="#fff"/>
<line x1="32.0" y1="144.4" x2="32.0" y2="200.5" stroke="#2b2b2b" stroke-width="1.9"/>
<line x1="36.0" y1="144.4" x2="36.0" y2="200.5" stroke="#2b2b2b" stroke-width="1.9"/>
<line x1="43.0" y1="144.4" x2="43.0" y2="200.5" stroke="#2b2b2b" stroke-width="1.9"/>
<line x1="47.0" y1="144.4" x2="47.0" y2="200.5" stroke="#2b2b2b" stroke-width="1.9"/>
<line x1="53.0" y1="144.4" x2="53.0" y2="200.5" stroke="#2b2b2b" stroke-width="1.9"/>
<line x1="57.0" y1="144.4" x2="57.0" y2="200.5" stroke="#2b2b2b" stroke-width="1.9"/>
<line x1="254.0" y1="150.5" x2="254.0" y2="202.5" stroke="#2b2b2b" stroke-width="1.9"/>
<line x1="259.0" y1="150.5" x2="259.0" y2="202.5" stroke="#2b2b2b" stroke-width="1.9"/>
<line x1="265.0" y1="150.5" x2="265.0" y2="202.5" stroke="#2b2b2b" stroke-width="1.9"/>
<line x1="270.0" y1="150.5" x2="270.0" y2="202.5" stroke="#2b2b2b" stroke-width="1.9"/>
<line x1="275.0" y1="150.5" x2="275.0" y2="202.5" stroke="#2b2b2b" stroke-width="1.9"/>
<line x1="280.0" y1="150.5" x2="280.0" y2="202.5" stroke="#2b2b2b" stroke-width="1.9"/>
<line x1="466.0" y1="173.3" x2="457.5" y2="203.5" stroke="#2b2b2b" stroke-width="1.8"/>
<line x1="470.0" y1="173.3" x2="461.5" y2="203.5" stroke="#2b2b2b" stroke-width="1.8"/>
<line x1="474.0" y1="173.3" x2="465.5" y2="203.5" stroke="#2b2b2b" stroke-width="1.8"/>
<line x1="478.0" y1="173.3" x2="469.5" y2="203.5" stroke="#2b2b2b" stroke-width="1.8"/>
<line x1="482.0" y1="173.3" x2="473.5" y2="203.5" stroke="#2b2b2b" stroke-width="1.8"/>
<line x1="486.0" y1="173.3" x2="477.5" y2="203.5" stroke="#2b2b2b" stroke-width="1.8"/>
<polygon points="488.6,173.3 497.4,173.3 504.2,203.5 496.4,203.5" stroke="#2b2b2b" stroke-width="0.8" fill="#3a3a3a"/>
<line x1="722.0" y1="178.0" x2="715.0" y2="206.0" stroke="#2b2b2b" stroke-width="1.8"/>
<line x1="726.2" y1="178.0" x2="719.2" y2="206.0" stroke="#2b2b2b" stroke-width="1.8"/>
<line x1="730.4" y1="178.0" x2="723.4" y2="206.0" stroke="#2b2b2b" stroke-width="1.8"/>
<line x1="734.6" y1="178.0" x2="727.6" y2="206.0" stroke="#2b2b2b" stroke-width="1.8"/>
<line x1="738.8" y1="178.0" x2="731.8" y2="206.0" stroke="#2b2b2b" stroke-width="1.8"/>
<line x1="743.0" y1="178.0" x2="736.0" y2="206.0" stroke="#2b2b2b" stroke-width="1.8"/>
<polygon points="749.0,178.0 756.0,178.0 764.0,206.0 755.5,206.0" stroke="#2b2b2b" stroke-width="0.8" fill="#3a3a3a"/>
<line x1="980.0" y1="189.0" x2="980.0" y2="208.0" stroke="#2b2b2b" stroke-width="1.6"/>
<line x1="983.6" y1="189.0" x2="983.6" y2="208.0" stroke="#2b2b2b" stroke-width="1.6"/>
<line x1="987.2" y1="189.0" x2="987.2" y2="208.0" stroke="#2b2b2b" stroke-width="1.6"/>
<line x1="990.8" y1="189.0" x2="990.8" y2="208.0" stroke="#2b2b2b" stroke-width="1.6"/>
<line x1="994.4" y1="189.0" x2="994.4" y2="208.0" stroke="#2b2b2b" stroke-width="1.6"/>
<line x1="998.0" y1="189.0" x2="998.0" y2="208.0" stroke="#2b2b2b" stroke-width="1.6"/>
<line x1="1001.6" y1="189.0" x2="1001.6" y2="208.0" stroke="#2b2b2b" stroke-width="1.6"/>
<rect x="1004.5" y="189.0" width="10.5" height="19.0" fill="#3c3c3c"/>
<line x1="1007.8" y1="189.0" x2="1007.8" y2="208.0" stroke="#888" stroke-width="0.6"/>
<line x1="1011.3" y1="189.0" x2="1011.3" y2="208.0" stroke="#888" stroke-width="0.6"/>
<polyline points="17.5,130.5 295.0,130.0 305.0,133.5 318.0,141.5 347.5,162.5 477.0,165.7" stroke="#2b2b2b" stroke-width="1.5" fill="none"/>
<polyline points="498.4,173.3 505.2,190.9 587.5,195.6 589.5,193.5 591.5,194.5 665.0,196.0 666.0,180.0 720.6,171.5" stroke="#2b2b2b" stroke-width="1.5" fill="none"/>
<polyline points="744.0,168.0 792.5,161.0 860.0,162.5 940.0,166.0 1021.0,168.5" stroke="#2b2b2b" stroke-width="1.5" fill="none"/>
<line x1="382.5" y1="13.8" x2="382.5" y2="33.4" stroke="#3c3c3c" stroke-width="1.4"/>
<line x1="392.4" y1="13.9" x2="392.4" y2="33.5" stroke="#3c3c3c" stroke-width="1.0"/>
<line x1="402.3" y1="14.0" x2="402.3" y2="33.6" stroke="#3c3c3c" stroke-width="1.0"/>
<line x1="412.2" y1="14.0" x2="412.2" y2="33.6" stroke="#3c3c3c" stroke-width="1.0"/>
<line x1="422.1" y1="14.1" x2="422.1" y2="33.7" stroke="#3c3c3c" stroke-width="1.4"/>
<line x1="432.0" y1="14.2" x2="432.0" y2="33.8" stroke="#3c3c3c" stroke-width="1.0"/>
<line x1="441.9" y1="14.3" x2="441.9" y2="33.9" stroke="#3c3c3c" stroke-width="1.0"/>
<line x1="451.8" y1="14.4" x2="451.8" y2="34.0" stroke="#3c3c3c" stroke-width="1.0"/>
<line x1="461.7" y1="14.5" x2="461.7" y2="34.1" stroke="#3c3c3c" stroke-width="1.4"/>
<line x1="471.6" y1="14.5" x2="471.6" y2="34.1" stroke="#3c3c3c" stroke-width="1.0"/>
<line x1="481.5" y1="14.6" x2="481.5" y2="34.2" stroke="#3c3c3c" stroke-width="1.0"/>
<line x1="491.4" y1="14.7" x2="491.4" y2="34.3" stroke="#3c3c3c" stroke-width="1.0"/>
<line x1="501.3" y1="14.8" x2="501.3" y2="34.4" stroke="#3c3c3c" stroke-width="1.4"/>
<line x1="511.2" y1="14.9" x2="511.2" y2="34.5" stroke="#3c3c3c" stroke-width="1.0"/>
<line x1="521.1" y1="14.9" x2="521.1" y2="34.5" stroke="#3c3c3c" stroke-width="1.0"/>
<line x1="531.0" y1="15.0" x2="531.0" y2="34.6" stroke="#3c3c3c" stroke-width="1.0"/>
<line x1="540.9" y1="15.1" x2="540.9" y2="34.7" stroke="#3c3c3c" stroke-width="1.4"/>
<line x1="550.8" y1="15.2" x2="550.8" y2="34.8" stroke="#3c3c3c" stroke-width="1.0"/>
<line x1="560.7" y1="15.3" x2="560.7" y2="34.9" stroke="#3c3c3c" stroke-width="1.0"/>
<line x1="570.6" y1="15.4" x2="570.6" y2="35.0" stroke="#3c3c3c" stroke-width="1.0"/>
<line x1="580.5" y1="15.4" x2="580.5" y2="35.0" stroke="#3c3c3c" stroke-width="1.4"/>
<line x1="590.4" y1="15.5" x2="590.4" y2="35.1" stroke="#3c3c3c" stroke-width="1.0"/>
<line x1="600.3" y1="15.6" x2="600.3" y2="35.2" stroke="#3c3c3c" stroke-width="1.0"/>
<line x1="610.2" y1="15.7" x2="610.2" y2="35.3" stroke="#3c3c3c" stroke-width="1.0"/>
<line x1="620.1" y1="15.8" x2="620.1" y2="35.4" stroke="#3c3c3c" stroke-width="1.4"/>
<line x1="630.0" y1="15.8" x2="630.0" y2="35.4" stroke="#3c3c3c" stroke-width="1.0"/>
<line x1="639.9" y1="15.9" x2="639.9" y2="35.5" stroke="#3c3c3c" stroke-width="1.0"/>
<line x1="649.8" y1="16.0" x2="649.8" y2="35.6" stroke="#3c3c3c" stroke-width="1.0"/>
<line x1="659.7" y1="16.1" x2="659.7" y2="35.7" stroke="#3c3c3c" stroke-width="1.4"/>
<line x1="669.6" y1="16.2" x2="669.6" y2="35.8" stroke="#3c3c3c" stroke-width="1.0"/>
<line x1="679.5" y1="16.2" x2="679.5" y2="35.9" stroke="#3c3c3c" stroke-width="1.0"/>
<line x1="689.4" y1="16.3" x2="689.4" y2="35.9" stroke="#3c3c3c" stroke-width="1.0"/>
<line x1="699.3" y1="16.4" x2="699.3" y2="36.0" stroke="#3c3c3c" stroke-width="1.4"/>
<line x1="709.2" y1="16.5" x2="709.2" y2="36.1" stroke="#3c3c3c" stroke-width="1.0"/>
<line x1="719.1" y1="16.6" x2="719.1" y2="36.2" stroke="#3c3c3c" stroke-width="1.0"/>
<line x1="729.0" y1="16.7" x2="729.0" y2="36.3" stroke="#3c3c3c" stroke-width="1.0"/>
<line x1="738.9" y1="16.7" x2="738.9" y2="36.3" stroke="#3c3c3c" stroke-width="1.4"/>
<line x1="748.8" y1="16.8" x2="748.8" y2="36.4" stroke="#3c3c3c" stroke-width="1.0"/>
<line x1="758.7" y1="16.9" x2="758.7" y2="36.5" stroke="#3c3c3c" stroke-width="1.0"/>
<line x1="768.6" y1="17.0" x2="768.6" y2="36.6" stroke="#3c3c3c" stroke-width="1.0"/>
<line x1="778.5" y1="17.1" x2="778.5" y2="36.7" stroke="#3c3c3c" stroke-width="1.4"/>
<line x1="788.4" y1="17.1" x2="788.4" y2="36.7" stroke="#3c3c3c" stroke-width="1.0"/>
<line x1="798.3" y1="17.2" x2="798.3" y2="36.8" stroke="#3c3c3c" stroke-width="1.0"/>
<line x1="808.2" y1="17.3" x2="808.2" y2="36.9" stroke="#3c3c3c" stroke-width="1.0"/>
<line x1="818.1" y1="17.4" x2="818.1" y2="37.0" stroke="#3c3c3c" stroke-width="1.4"/>
<line x1="828.0" y1="17.5" x2="828.0" y2="37.1" stroke="#3c3c3c" stroke-width="1.0"/>
<line x1="837.9" y1="17.6" x2="837.9" y2="37.2" stroke="#3c3c3c" stroke-width="1.0"/>
<line x1="847.8" y1="17.6" x2="847.8" y2="37.2" stroke="#3c3c3c" stroke-width="1.0"/>
<line x1="857.7" y1="17.7" x2="857.7" y2="37.3" stroke="#3c3c3c" stroke-width="1.4"/>
<line x1="867.6" y1="17.8" x2="867.6" y2="37.4" stroke="#3c3c3c" stroke-width="1.0"/>
<line x1="877.5" y1="17.9" x2="877.5" y2="37.5" stroke="#3c3c3c" stroke-width="1.0"/>
<line x1="887.4" y1="18.0" x2="887.4" y2="37.6" stroke="#3c3c3c" stroke-width="1.0"/>
<line x1="897.3" y1="18.0" x2="897.3" y2="37.6" stroke="#3c3c3c" stroke-width="1.4"/>
<line x1="907.2" y1="18.1" x2="907.2" y2="37.7" stroke="#3c3c3c" stroke-width="1.0"/>
<line x1="917.1" y1="18.2" x2="917.1" y2="37.8" stroke="#3c3c3c" stroke-width="1.0"/>
<line x1="927.0" y1="18.3" x2="927.0" y2="37.9" stroke="#3c3c3c" stroke-width="1.0"/>
<line x1="936.9" y1="18.4" x2="936.9" y2="38.0" stroke="#3c3c3c" stroke-width="1.4"/>
<line x1="946.8" y1="18.5" x2="946.8" y2="38.1" stroke="#3c3c3c" stroke-width="1.0"/>
<line x1="956.7" y1="18.5" x2="956.7" y2="38.1" stroke="#3c3c3c" stroke-width="1.0"/>
<line x1="966.6" y1="18.6" x2="966.6" y2="38.2" stroke="#3c3c3c" stroke-width="1.0"/>
<line x1="976.5" y1="18.7" x2="976.5" y2="38.3" stroke="#3c3c3c" stroke-width="1.4"/>
<line x1="382.5" y1="13.8" x2="392.4" y2="33.5" stroke="#383838" stroke-width="1.1"/>
<line x1="392.4" y1="33.5" x2="402.3" y2="14.0" stroke="#383838" stroke-width="1.1"/>
<line x1="402.3" y1="14.0" x2="412.2" y2="33.6" stroke="#383838" stroke-width="1.1"/>
<line x1="412.2" y1="33.6" x2="422.1" y2="14.1" stroke="#383838" stroke-width="1.1"/>
<line x1="422.1" y1="14.1" x2="432.0" y2="33.8" stroke="#383838" stroke-width="1.1"/>
<line x1="432.0" y1="33.8" x2="441.9" y2="14.3" stroke="#383838" stroke-width="1.1"/>
<line x1="441.9" y1="14.3" x2="451.8" y2="34.0" stroke="#383838" stroke-width="1.1"/>
<line x1="451.8" y1="34.0" x2="461.7" y2="14.5" stroke="#383838" stroke-width="1.1"/>
<line x1="461.7" y1="14.5" x2="471.6" y2="34.1" stroke="#383838" stroke-width="1.1"/>
<line x1="471.6" y1="34.1" x2="481.5" y2="14.6" stroke="#383838" stroke-width="1.1"/>
<line x1="481.5" y1="14.6" x2="491.4" y2="34.3" stroke="#383838" stroke-width="1.1"/>
<line x1="491.4" y1="34.3" x2="501.3" y2="14.8" stroke="#383838" stroke-width="1.1"/>
<line x1="501.3" y1="14.8" x2="511.2" y2="34.5" stroke="#383838" stroke-width="1.1"/>
<line x1="511.2" y1="34.5" x2="521.1" y2="14.9" stroke="#383838" stroke-width="1.1"/>
<line x1="521.1" y1="14.9" x2="531.0" y2="34.6" stroke="#383838" stroke-width="1.1"/>
<line x1="531.0" y1="34.6" x2="540.9" y2="15.1" stroke="#383838" stroke-width="1.1"/>
<line x1="540.9" y1="15.1" x2="550.8" y2="34.8" stroke="#383838" stroke-width="1.1"/>
<line x1="550.8" y1="34.8" x2="560.7" y2="15.3" stroke="#383838" stroke-width="1.1"/>
<line x1="560.7" y1="15.3" x2="570.6" y2="35.0" stroke="#383838" stroke-width="1.1"/>
<line x1="570.6" y1="35.0" x2="580.5" y2="15.4" stroke="#383838" stroke-width="1.1"/>
<line x1="580.5" y1="15.4" x2="590.4" y2="35.1" stroke="#383838" stroke-width="1.1"/>
<line x1="590.4" y1="35.1" x2="600.3" y2="15.6" stroke="#383838" stroke-width="1.1"/>
<line x1="600.3" y1="15.6" x2="610.2" y2="35.3" stroke="#383838" stroke-width="1.1"/>
<line x1="610.2" y1="35.3" x2="620.1" y2="15.8" stroke="#383838" stroke-width="1.1"/>
<line x1="620.1" y1="15.8" x2="630.0" y2="35.4" stroke="#383838" stroke-width="1.1"/>
<line x1="630.0" y1="35.4" x2="639.9" y2="15.9" stroke="#383838" stroke-width="1.1"/>
<line x1="639.9" y1="15.9" x2="649.8" y2="35.6" stroke="#383838" stroke-width="1.1"/>
<line x1="649.8" y1="35.6" x2="659.7" y2="16.1" stroke="#383838" stroke-width="1.1"/>
<line x1="659.7" y1="16.1" x2="669.6" y2="35.8" stroke="#383838" stroke-width="1.1"/>
<line x1="669.6" y1="35.8" x2="679.5" y2="16.2" stroke="#383838" stroke-width="1.1"/>
<line x1="679.5" y1="16.2" x2="689.4" y2="35.9" stroke="#383838" stroke-width="1.1"/>
<line x1="689.4" y1="35.9" x2="699.3" y2="16.4" stroke="#383838" stroke-width="1.1"/>
<line x1="699.3" y1="16.4" x2="709.2" y2="36.1" stroke="#383838" stroke-width="1.1"/>
<line x1="709.2" y1="36.1" x2="719.1" y2="16.6" stroke="#383838" stroke-width="1.1"/>
<line x1="719.1" y1="16.6" x2="729.0" y2="36.3" stroke="#383838" stroke-width="1.1"/>
<line x1="729.0" y1="36.3" x2="738.9" y2="16.7" stroke="#383838" stroke-width="1.1"/>
<line x1="738.9" y1="16.7" x2="748.8" y2="36.4" stroke="#383838" stroke-width="1.1"/>
<line x1="748.8" y1="36.4" x2="758.7" y2="16.9" stroke="#383838" stroke-width="1.1"/>
<line x1="758.7" y1="16.9" x2="768.6" y2="36.6" stroke="#383838" stroke-width="1.1"/>
<line x1="768.6" y1="36.6" x2="778.5" y2="17.1" stroke="#383838" stroke-width="1.1"/>
<line x1="778.5" y1="17.1" x2="788.4" y2="36.7" stroke="#383838" stroke-width="1.1"/>
<line x1="788.4" y1="36.7" x2="798.3" y2="17.2" stroke="#383838" stroke-width="1.1"/>
<line x1="798.3" y1="17.2" x2="808.2" y2="36.9" stroke="#383838" stroke-width="1.1"/>
<line x1="808.2" y1="36.9" x2="818.1" y2="17.4" stroke="#383838" stroke-width="1.1"/>
<line x1="818.1" y1="17.4" x2="828.0" y2="37.1" stroke="#383838" stroke-width="1.1"/>
<line x1="828.0" y1="37.1" x2="837.9" y2="17.6" stroke="#383838" stroke-width="1.1"/>
<line x1="837.9" y1="17.6" x2="847.8" y2="37.2" stroke="#383838" stroke-width="1.1"/>
<line x1="847.8" y1="37.2" x2="857.7" y2="17.7" stroke="#383838" stroke-width="1.1"/>
<line x1="857.7" y1="17.7" x2="867.6" y2="37.4" stroke="#383838" stroke-width="1.1"/>
<line x1="867.6" y1="37.4" x2="877.5" y2="17.9" stroke="#383838" stroke-width="1.1"/>
<line x1="877.5" y1="17.9" x2="887.4" y2="37.6" stroke="#383838" stroke-width="1.1"/>
<line x1="887.4" y1="37.6" x2="897.3" y2="18.0" stroke="#383838" stroke-width="1.1"/>
<line x1="897.3" y1="18.0" x2="907.2" y2="37.7" stroke="#383838" stroke-width="1.1"/>
<line x1="907.2" y1="37.7" x2="917.1" y2="18.2" stroke="#383838" stroke-width="1.1"/>
<line x1="917.1" y1="18.2" x2="927.0" y2="37.9" stroke="#383838" stroke-width="1.1"/>
<line x1="927.0" y1="37.9" x2="936.9" y2="18.4" stroke="#383838" stroke-width="1.1"/>
<line x1="936.9" y1="18.4" x2="946.8" y2="38.1" stroke="#383838" stroke-width="1.1"/>
<line x1="946.8" y1="38.1" x2="956.7" y2="18.5" stroke="#383838" stroke-width="1.1"/>
<line x1="956.7" y1="18.5" x2="966.6" y2="38.2" stroke="#383838" stroke-width="1.1"/>
<line x1="966.6" y1="38.2" x2="976.5" y2="18.7" stroke="#383838" stroke-width="1.1"/>
<line x1="382.5" y1="13.8" x2="976.5" y2="18.7" stroke="#2b2b2b" stroke-width="2.2"/>
<line x1="382.5" y1="33.4" x2="976.5" y2="38.3" stroke="#2b2b2b" stroke-width="2.2"/>
<rect x="740.0" y="38.5" width="12.5" height="3.0" fill="#c4c4c4"/>
<rect x="741.5" y="41.5" width="9.5" height="2.5" fill="#c4c4c4"/>
<rect x="743.0" y="44.0" width="7.0" height="52.0" fill="#c4c4c4"/>
<rect x="742.5" y="96.0" width="11.5" height="46.5" fill="#c4c4c4"/>
<rect x="736.5" y="110.0" width="8.5" height="59.0" stroke="#2b2b2b" stroke-width="2.0" fill="none"/>
<line x1="732.5" y1="144.5" x2="754.5" y2="144.5" stroke="#2b2b2b" stroke-width="2.4"/>
<line x1="736.5" y1="147.8" x2="745.0" y2="147.8" stroke="#2b2b2b" stroke-width="1.6"/>
<line x1="734.0" y1="111.0" x2="747.0" y2="111.0" stroke="#2b2b2b" stroke-width="1.8"/>
<rect x="999.0" y="52.0" width="13.7" height="3.5" fill="#c4c4c4"/>
<rect x="999.0" y="57.5" width="13.7" height="3.5" fill="#c4c4c4"/>
<rect x="1002.7" y="61.0" width="7.3" height="49.0" fill="#c4c4c4"/>
<rect x="1002.7" y="110.0" width="12.0" height="49.0" fill="#c4c4c4"/>
<rect x="996.5" y="124.0" width="8.5" height="55.0" stroke="#2b2b2b" stroke-width="2.0" fill="none"/>
<line x1="993.6" y1="159.5" x2="1014.7" y2="159.5" stroke="#2b2b2b" stroke-width="2.4"/>
<line x1="996.5" y1="162.5" x2="1005.0" y2="162.5" stroke="#2b2b2b" stroke-width="1.6"/>
<line x1="994.5" y1="125.0" x2="1007.0" y2="125.0" stroke="#2b2b2b" stroke-width="1.6"/>
</g>
<polyline points="121.0,49.1 137.0,66.7 153.0,50.5 169.0,68.0 185.0,51.8 201.0,69.4 217.0,53.1 233.0,70.7 249.0,54.5 265.0,72.1 281.0,55.9 297.0,73.4 313.0,57.2 329.0,74.8 345.0,58.5 361.0,76.1 377.0,59.9" stroke="#2b2b2b" stroke-width="2.3" fill="none" stroke-linejoin="miter"/>
<line x1="136.0" y1="66.6" x2="362.0" y2="76.2" stroke="#2b2b2b" stroke-width="2.6"/>
<polygon points="121.0,45.5 377.0,56.3 377.0,59.9 121.0,49.1" fill="#999"/>
<line x1="121.0" y1="45.5" x2="377.0" y2="56.3" stroke="#2b2b2b" stroke-width="2.2"/>
<line x1="121.0" y1="49.1" x2="377.0" y2="59.9" stroke="#2b2b2b" stroke-width="1.8"/>
<rect x="117.5" y="42.5" width="5.5" height="7" rx="2.2" stroke="#2b2b2b" stroke-width="1.7" fill="#fff"/>
<rect x="375.0" y="54.3" width="5" height="7" rx="2.2" stroke="#2b2b2b" stroke-width="1.7" fill="#fff"/>
<rect x="145.6" y="49.0" width="3.0" height="29.0" fill="#333"/>
<rect x="154.0" y="49.0" width="3.0" height="29.0" fill="#333"/>
<rect x="145.3" y="49.0" width="12.0" height="2.2" fill="#333"/>
<line x1="148.1" y1="51.0" x2="154.5" y2="76.5" stroke="#2b2b2b" stroke-width="1.8"/>
<line x1="154.5" y1="51.0" x2="148.1" y2="76.5" stroke="#2b2b2b" stroke-width="1.8"/>
<rect x="337.8" y="57.0" width="3.0" height="26.0" fill="#333"/>
<rect x="347.3" y="57.0" width="3.0" height="26.0" fill="#333"/>
<rect x="337.5" y="57.0" width="13.1" height="2.2" fill="#333"/>
<line x1="340.3" y1="59.0" x2="347.8" y2="81.5" stroke="#2b2b2b" stroke-width="1.8"/>
<line x1="347.8" y1="59.0" x2="340.3" y2="81.5" stroke="#2b2b2b" stroke-width="1.8"/>
<rect x="87.0" y="58.0" width="12.5" height="20.0" fill="#3d3d3d"/>
<rect x="89.2" y="60.4" width="2.8" height="2.6" fill="#a8a8a8"/>
<rect x="93.9" y="60.4" width="2.8" height="2.6" fill="#a8a8a8"/>
<rect x="89.2" y="65.6" width="2.8" height="2.6" fill="#a8a8a8"/>
<rect x="93.9" y="65.6" width="2.8" height="2.6" fill="#a8a8a8"/>
<rect x="99.5" y="69.5" width="71.1" height="9.5" fill="#454545"/>
<rect x="110.0" y="66.5" width="24.0" height="3.5" fill="#4a4a4a"/>
<rect x="102.0" y="73.8" width="2.0" height="1.6" fill="#bcbcbc"/>
<rect x="108.0" y="73.8" width="2.0" height="1.6" fill="#bcbcbc"/>
<rect x="114.0" y="73.8" width="2.0" height="1.6" fill="#bcbcbc"/>
<rect x="120.0" y="73.8" width="2.0" height="1.6" fill="#bcbcbc"/>
<rect x="126.0" y="73.8" width="2.0" height="1.6" fill="#bcbcbc"/>
<rect x="132.0" y="73.8" width="2.0" height="1.6" fill="#bcbcbc"/>
<rect x="138.0" y="73.8" width="2.0" height="1.6" fill="#bcbcbc"/>
<rect x="144.0" y="73.8" width="2.0" height="1.6" fill="#bcbcbc"/>
<rect x="150.0" y="73.8" width="2.0" height="1.6" fill="#bcbcbc"/>
<rect x="156.0" y="73.8" width="2.0" height="1.6" fill="#bcbcbc"/>
<rect x="162.0" y="73.8" width="2.0" height="1.6" fill="#bcbcbc"/>
<rect x="320.6" y="77.4" width="43.0" height="8.6" fill="#444"/>
<rect x="437.0" y="0.0" width="13.0" height="13.7" fill="#3a3a3a"/>
<rect x="439.0" y="2.5" width="9.0" height="1.3" fill="#7a7a7a"/>
<rect x="439.0" y="7.0" width="9.0" height="1.1" fill="#6a6a6a"/>
<line x1="443.6" y1="13.7" x2="443.6" y2="41.0" stroke="#2b2b2b" stroke-width="2.0"/>
<polyline points="437.5,50.0 437.5,43.0 449.5,43.0 449.5,50.0" stroke="#2b2b2b" stroke-width="2.4" fill="none"/>
<rect x="522.0" y="0.7" width="13.6" height="13.7" fill="#3a3a3a"/>
<rect x="524.0" y="3.2" width="9.6" height="1.3" fill="#7a7a7a"/>
<rect x="524.0" y="7.7" width="9.6" height="1.1" fill="#6a6a6a"/>
<line x1="528.4" y1="14.4" x2="528.4" y2="52.0" stroke="#2b2b2b" stroke-width="2.2"/>
<rect x="442.7" y="74.0" width="31.0" height="9.0" fill="#c4c4c4"/>
<rect x="473.5" y="41.0" width="7.8" height="47.0" fill="#c4c4c4"/>
<rect x="470.5" y="36.0" width="13.8" height="2.6" fill="#c4c4c4"/>
<rect x="472.0" y="38.6" width="10.8" height="2.4" fill="#d4d4d4"/>
<polyline points="225.3,317.1 240.6,332.7 256.0,318.4 271.3,334.0 286.6,319.7 302.0,335.3 317.3,321.0 332.6,336.6 348.0,322.4 363.3,337.9 378.6,323.7 393.9,339.2 409.3,325.0 424.6,340.5 439.9,326.3 455.3,341.8 470.6,327.6" stroke="#2b2b2b" stroke-width="2.3" fill="none" stroke-linejoin="miter"/>
<line x1="239.6" y1="332.6" x2="456.3" y2="341.9" stroke="#2b2b2b" stroke-width="2.6"/>
<polygon points="225.3,313.5 470.6,324.0 470.6,327.6 225.3,317.1" fill="#999"/>
<line x1="225.3" y1="313.5" x2="470.6" y2="324.0" stroke="#2b2b2b" stroke-width="2.2"/>
<line x1="225.3" y1="317.1" x2="470.6" y2="327.6" stroke="#2b2b2b" stroke-width="1.8"/>
<rect x="221.8" y="310.5" width="5.5" height="7" rx="2.2" stroke="#2b2b2b" stroke-width="1.7" fill="#fff"/>
<rect x="468.6" y="322.0" width="5" height="7" rx="2.2" stroke="#2b2b2b" stroke-width="1.7" fill="#fff"/>
<rect x="250.0" y="315.6" width="3.0" height="28.1" fill="#333"/>
<rect x="260.0" y="315.6" width="3.0" height="28.1" fill="#333"/>
<rect x="249.7" y="315.6" width="13.6" height="2.2" fill="#333"/>
<line x1="252.5" y1="317.6" x2="260.5" y2="342.2" stroke="#2b2b2b" stroke-width="1.8"/>
<line x1="260.5" y1="317.6" x2="252.5" y2="342.2" stroke="#2b2b2b" stroke-width="1.8"/>
<rect x="442.5" y="323.0" width="3.0" height="21.0" fill="#333"/>
<rect x="453.0" y="323.0" width="3.0" height="21.0" fill="#333"/>
<rect x="442.2" y="323.0" width="14.1" height="2.2" fill="#333"/>
<line x1="445.0" y1="325.0" x2="453.5" y2="342.5" stroke="#2b2b2b" stroke-width="1.8"/>
<line x1="453.5" y1="325.0" x2="445.0" y2="342.5" stroke="#2b2b2b" stroke-width="1.8"/>
<rect x="191.0" y="325.0" width="12.0" height="19.0" fill="#3d3d3d"/>
<rect x="193.2" y="327.3" width="2.6" height="2.5" fill="#a8a8a8"/>
<rect x="197.6" y="327.3" width="2.6" height="2.5" fill="#a8a8a8"/>
<rect x="193.2" y="332.2" width="2.6" height="2.5" fill="#a8a8a8"/>
<rect x="197.6" y="332.2" width="2.6" height="2.5" fill="#a8a8a8"/>
<rect x="203.0" y="336.0" width="72.0" height="9.0" fill="#454545"/>
<rect x="213.0" y="333.0" width="27.0" height="3.5" fill="#4a4a4a"/>
<rect x="205.5" y="340.1" width="2.0" height="1.6" fill="#bcbcbc"/>
<rect x="211.5" y="340.1" width="2.0" height="1.6" fill="#bcbcbc"/>
<rect x="217.5" y="340.1" width="2.0" height="1.6" fill="#bcbcbc"/>
<rect x="223.5" y="340.1" width="2.0" height="1.6" fill="#bcbcbc"/>
<rect x="229.5" y="340.1" width="2.0" height="1.6" fill="#bcbcbc"/>
<rect x="235.5" y="340.1" width="2.0" height="1.6" fill="#bcbcbc"/>
<rect x="241.5" y="340.1" width="2.0" height="1.6" fill="#bcbcbc"/>
<rect x="247.5" y="340.1" width="2.0" height="1.6" fill="#bcbcbc"/>
<rect x="253.5" y="340.1" width="2.0" height="1.6" fill="#bcbcbc"/>
<rect x="259.5" y="340.1" width="2.0" height="1.6" fill="#bcbcbc"/>
<rect x="265.5" y="340.1" width="2.0" height="1.6" fill="#bcbcbc"/>
<rect x="271.5" y="340.1" width="2.0" height="1.6" fill="#bcbcbc"/>
<rect x="433.0" y="343.0" width="44.0" height="3.2" fill="#c8c8c8"/>
<rect x="431.5" y="346.0" width="13.0" height="7.5" fill="#cfcfcf"/>
<rect x="448.5" y="343.5" width="30.5" height="10.5" fill="#4a4a4a"/>
<rect x="426.0" y="348.0" width="14.0" height="6.0" fill="#555"/>
<rect x="451.0" y="347.0" width="1.8" height="1.6" fill="#aaa"/>
<rect x="457.0" y="347.0" width="1.8" height="1.6" fill="#aaa"/>
<rect x="463.0" y="347.0" width="1.8" height="1.6" fill="#aaa"/>
<rect x="469.0" y="347.0" width="1.8" height="1.6" fill="#aaa"/>
<rect x="475.0" y="347.0" width="1.8" height="1.6" fill="#aaa"/>
<rect x="422.0" y="262.5" width="13.0" height="14.0" fill="#3a3a3a"/>
<rect x="424.0" y="265.0" width="9.0" height="1.3" fill="#7a7a7a"/>
<rect x="424.0" y="269.5" width="9.0" height="1.1" fill="#6a6a6a"/>
<line x1="428.4" y1="276.5" x2="428.4" y2="304.0" stroke="#2b2b2b" stroke-width="2.0"/>
<polyline points="421.0,312.5 421.0,305.0 434.5,305.0 434.5,312.5" stroke="#2b2b2b" stroke-width="2.4" fill="none"/>
<rect x="475.0" y="264.0" width="14.0" height="12.5" fill="#3a3a3a"/>
<rect x="477.0" y="266.5" width="10.0" height="1.3" fill="#7a7a7a"/>
<rect x="477.0" y="271.0" width="10.0" height="1.1" fill="#6a6a6a"/>
<line x1="481.6" y1="276.5" x2="481.6" y2="328.0" stroke="#2b2b2b" stroke-width="2.0"/>
<rect x="470.0" y="303.0" width="7.5" height="40.0" fill="#c4c4c4"/>
<rect x="467.0" y="298.0" width="13.5" height="2.6" fill="#c4c4c4"/>
<rect x="468.5" y="300.6" width="10.5" height="2.4" fill="#d4d4d4"/>
<polyline points="368.4,582.6 384.5,599.2 400.6,583.0 416.7,599.6 432.8,583.4 448.9,599.9 465.0,583.7 481.1,600.3 497.2,584.1 513.3,600.7 529.4,584.5 545.5,601.1 561.6,584.9 577.7,601.4 593.8,585.2 609.9,601.8 626.0,585.6" stroke="#2b2b2b" stroke-width="2.3" fill="none" stroke-linejoin="miter"/>
<line x1="383.5" y1="599.2" x2="610.9" y2="601.8" stroke="#2b2b2b" stroke-width="2.6"/>
<polygon points="368.4,579.0 626.0,582.0 626.0,585.6 368.4,582.6" fill="#999"/>
<line x1="368.4" y1="579.0" x2="626.0" y2="582.0" stroke="#2b2b2b" stroke-width="2.2"/>
<line x1="368.4" y1="582.6" x2="626.0" y2="585.6" stroke="#2b2b2b" stroke-width="1.8"/>
<rect x="364.9" y="576.0" width="5.5" height="7" rx="2.2" stroke="#2b2b2b" stroke-width="1.7" fill="#fff"/>
<rect x="395.0" y="526.0" width="14.0" height="14.0" fill="#3a3a3a"/>
<rect x="397.0" y="528.5" width="10.0" height="1.3" fill="#7a7a7a"/>
<rect x="397.0" y="533.0" width="10.0" height="1.1" fill="#6a6a6a"/>
<line x1="401.9" y1="540.0" x2="401.9" y2="580.6" stroke="#2b2b2b" stroke-width="2.0"/>
<rect x="618.4" y="527.5" width="14.1" height="13.1" fill="#3a3a3a"/>
<rect x="620.4" y="530.0" width="10.1" height="1.3" fill="#7a7a7a"/>
<rect x="620.4" y="534.5" width="10.1" height="1.1" fill="#6a6a6a"/>
<line x1="624.7" y1="540.6" x2="624.7" y2="582.0" stroke="#2b2b2b" stroke-width="2.0"/>
<rect x="337.0" y="593.0" width="13.0" height="19.0" fill="#3d3d3d"/>
<rect x="339.3" y="595.3" width="2.9" height="2.5" fill="#a8a8a8"/>
<rect x="344.1" y="595.3" width="2.9" height="2.5" fill="#a8a8a8"/>
<rect x="339.3" y="600.2" width="2.9" height="2.5" fill="#a8a8a8"/>
<rect x="344.1" y="600.2" width="2.9" height="2.5" fill="#a8a8a8"/>
<rect x="350.0" y="604.0" width="70.0" height="11.0" fill="#454545"/>
<rect x="358.0" y="601.0" width="22.0" height="3.5" fill="#4a4a4a"/>
<rect x="352.5" y="609.0" width="2.0" height="1.6" fill="#bcbcbc"/>
<rect x="358.5" y="609.0" width="2.0" height="1.6" fill="#bcbcbc"/>
<rect x="364.5" y="609.0" width="2.0" height="1.6" fill="#bcbcbc"/>
<rect x="370.5" y="609.0" width="2.0" height="1.6" fill="#bcbcbc"/>
<rect x="376.5" y="609.0" width="2.0" height="1.6" fill="#bcbcbc"/>
<rect x="382.5" y="609.0" width="2.0" height="1.6" fill="#bcbcbc"/>
<rect x="388.5" y="609.0" width="2.0" height="1.6" fill="#bcbcbc"/>
<rect x="394.5" y="609.0" width="2.0" height="1.6" fill="#bcbcbc"/>
<rect x="400.5" y="609.0" width="2.0" height="1.6" fill="#bcbcbc"/>
<rect x="406.5" y="609.0" width="2.0" height="1.6" fill="#bcbcbc"/>
<rect x="412.5" y="609.0" width="2.0" height="1.6" fill="#bcbcbc"/>
<rect x="428.0" y="598.0" width="46.0" height="3.2" fill="#c8c8c8"/>
<rect x="426.5" y="601.0" width="13.0" height="15.5" fill="#cfcfcf"/>
<rect x="445.5" y="606.5" width="30.5" height="10.5" fill="#4a4a4a"/>
<rect x="423.0" y="611.0" width="14.0" height="6.0" fill="#555"/>
<rect x="448.0" y="610.0" width="1.8" height="1.6" fill="#aaa"/>
<rect x="454.0" y="610.0" width="1.8" height="1.6" fill="#aaa"/>
<rect x="460.0" y="610.0" width="1.8" height="1.6" fill="#aaa"/>
<rect x="466.0" y="610.0" width="1.8" height="1.6" fill="#aaa"/>
<rect x="472.0" y="610.0" width="1.8" height="1.6" fill="#aaa"/>
<rect x="440.0" y="587.0" width="3.0" height="14.0" fill="#333"/>
<rect x="451.0" y="587.0" width="3.0" height="14.0" fill="#333"/>
<rect x="439.7" y="587.0" width="14.6" height="2.2" fill="#333"/>
<line x1="442.5" y1="589.0" x2="451.5" y2="599.5" stroke="#2b2b2b" stroke-width="1.8"/>
<line x1="451.5" y1="589.0" x2="442.5" y2="599.5" stroke="#2b2b2b" stroke-width="1.8"/>
<rect x="467.0" y="567.0" width="7.5" height="31.0" fill="#c4c4c4"/>
<rect x="464.0" y="562.0" width="13.5" height="2.6" fill="#c4c4c4"/>
<rect x="465.5" y="564.6" width="10.5" height="2.4" fill="#d4d4d4"/>
<polyline points="455.0,848.6 471.0,864.8 487.1,849.1 503.1,865.2 519.2,849.6 535.2,865.8 551.3,850.1 567.3,866.2 583.4,850.6 599.4,866.8 615.4,851.1 631.5,867.2 647.5,851.6 663.6,867.8 679.6,852.1 695.7,868.2 711.7,852.6" stroke="#2b2b2b" stroke-width="2.3" fill="none" stroke-linejoin="miter"/>
<line x1="470.0" y1="864.7" x2="696.7" y2="868.3" stroke="#2b2b2b" stroke-width="2.6"/>
<polygon points="455.0,845.0 711.7,849.0 711.7,852.6 455.0,848.6" fill="#999"/>
<line x1="455.0" y1="845.0" x2="711.7" y2="849.0" stroke="#2b2b2b" stroke-width="2.2"/>
<line x1="455.0" y1="848.6" x2="711.7" y2="852.6" stroke="#2b2b2b" stroke-width="1.8"/>
<rect x="449.0" y="789.0" width="14.6" height="14.4" fill="#3a3a3a"/>
<rect x="451.0" y="791.5" width="10.6" height="1.3" fill="#7a7a7a"/>
<rect x="451.0" y="796.0" width="10.6" height="1.1" fill="#6a6a6a"/>
<line x1="455.4" y1="803.4" x2="455.4" y2="847.7" stroke="#2b2b2b" stroke-width="2.0"/>
<rect x="703.5" y="792.0" width="14.5" height="12.6" fill="#3a3a3a"/>
<rect x="705.5" y="794.5" width="10.5" height="1.3" fill="#7a7a7a"/>
<rect x="705.5" y="799.0" width="10.5" height="1.1" fill="#6a6a6a"/>
<line x1="710.5" y1="804.6" x2="710.5" y2="849.7" stroke="#2b2b2b" stroke-width="2.0"/>
<rect x="334.4" y="856.0" width="13.3" height="20.3" fill="#3d3d3d"/>
<rect x="336.8" y="858.4" width="2.9" height="2.6" fill="#a8a8a8"/>
<rect x="341.7" y="858.4" width="2.9" height="2.6" fill="#a8a8a8"/>
<rect x="336.8" y="863.7" width="2.9" height="2.6" fill="#a8a8a8"/>
<rect x="341.7" y="863.7" width="2.9" height="2.6" fill="#a8a8a8"/>
<rect x="347.7" y="867.0" width="71.1" height="9.3" fill="#454545"/>
<rect x="357.0" y="864.5" width="19.6" height="3.0" fill="#4a4a4a"/>
<rect x="350.2" y="871.2" width="2.0" height="1.6" fill="#bcbcbc"/>
<rect x="356.2" y="871.2" width="2.0" height="1.6" fill="#bcbcbc"/>
<rect x="362.2" y="871.2" width="2.0" height="1.6" fill="#bcbcbc"/>
<rect x="368.2" y="871.2" width="2.0" height="1.6" fill="#bcbcbc"/>
<rect x="374.2" y="871.2" width="2.0" height="1.6" fill="#bcbcbc"/>
<rect x="380.2" y="871.2" width="2.0" height="1.6" fill="#bcbcbc"/>
<rect x="386.2" y="871.2" width="2.0" height="1.6" fill="#bcbcbc"/>
<rect x="392.2" y="871.2" width="2.0" height="1.6" fill="#bcbcbc"/>
<rect x="398.2" y="871.2" width="2.0" height="1.6" fill="#bcbcbc"/>
<rect x="404.2" y="871.2" width="2.0" height="1.6" fill="#bcbcbc"/>
<rect x="410.2" y="871.2" width="2.0" height="1.6" fill="#bcbcbc"/>
<rect x="392.2" y="846.6" width="3.0" height="20.4" fill="#333"/>
<rect x="403.2" y="846.6" width="3.0" height="20.4" fill="#333"/>
<rect x="391.9" y="846.6" width="14.7" height="2.2" fill="#333"/>
<line x1="394.7" y1="848.6" x2="403.8" y2="865.5" stroke="#2b2b2b" stroke-width="1.8"/>
<line x1="403.8" y1="848.6" x2="394.7" y2="865.5" stroke="#2b2b2b" stroke-width="1.8"/>
<rect x="437.5" y="850.5" width="3.0" height="13.5" fill="#333"/>
<rect x="447.8" y="850.5" width="3.0" height="13.5" fill="#333"/>
<rect x="437.2" y="850.5" width="13.9" height="2.2" fill="#333"/>
<line x1="440.0" y1="852.5" x2="448.3" y2="862.5" stroke="#2b2b2b" stroke-width="1.8"/>
<line x1="448.3" y1="852.5" x2="440.0" y2="862.5" stroke="#2b2b2b" stroke-width="1.8"/>
<rect x="434.0" y="864.0" width="38.0" height="3.2" fill="#c8c8c8"/>
<rect x="432.5" y="867.0" width="13.0" height="12.0" fill="#cfcfcf"/>
<rect x="443.5" y="869.0" width="30.5" height="10.5" fill="#4a4a4a"/>
<rect x="421.0" y="873.5" width="14.0" height="6.0" fill="#555"/>
<rect x="446.0" y="872.5" width="1.8" height="1.6" fill="#aaa"/>
<rect x="452.0" y="872.5" width="1.8" height="1.6" fill="#aaa"/>
<rect x="458.0" y="872.5" width="1.8" height="1.6" fill="#aaa"/>
<rect x="464.0" y="872.5" width="1.8" height="1.6" fill="#aaa"/>
<rect x="470.0" y="872.5" width="1.8" height="1.6" fill="#aaa"/>
<rect x="465.0" y="831.0" width="7.0" height="33.0" fill="#c4c4c4"/>
<rect x="462.0" y="826.0" width="13.0" height="2.6" fill="#c4c4c4"/>
<rect x="463.5" y="828.6" width="10.0" height="2.4" fill="#d4d4d4"/>
<polyline points="451.3,1109.2 467.4,1125.9 483.6,1109.8 499.8,1126.5 515.9,1110.4 532.1,1127.1 548.2,1111.0 564.4,1127.7 580.5,1111.6 596.7,1128.4 612.8,1112.3 629.0,1129.0 645.1,1112.9 661.2,1129.6 677.4,1113.5 693.6,1130.2 709.7,1114.1" stroke="#2b2b2b" stroke-width="2.3" fill="none" stroke-linejoin="miter"/>
<line x1="466.4" y1="1125.9" x2="694.6" y2="1130.2" stroke="#2b2b2b" stroke-width="2.6"/>
<polygon points="451.3,1105.6 709.7,1110.5 709.7,1114.1 451.3,1109.2" fill="#999"/>
<line x1="451.3" y1="1105.6" x2="709.7" y2="1110.5" stroke="#2b2b2b" stroke-width="2.2"/>
<line x1="451.3" y1="1109.2" x2="709.7" y2="1114.1" stroke="#2b2b2b" stroke-width="1.8"/>
<rect x="478.7" y="1052.3" width="13.6" height="14.4" fill="#3a3a3a"/>
<rect x="480.7" y="1054.8" width="9.6" height="1.3" fill="#7a7a7a"/>
<rect x="480.7" y="1059.3" width="9.6" height="1.1" fill="#6a6a6a"/>
<line x1="485.3" y1="1066.7" x2="485.3" y2="1105.6" stroke="#2b2b2b" stroke-width="2.0"/>
<rect x="479.0" y="1103.0" width="12.0" height="2.5" fill="#333"/>
<rect x="701.5" y="1055.6" width="14.3" height="12.4" fill="#3a3a3a"/>
<rect x="703.5" y="1058.1" width="10.3" height="1.3" fill="#7a7a7a"/>
<rect x="703.5" y="1062.6" width="10.3" height="1.1" fill="#6a6a6a"/>
<line x1="707.6" y1="1068.0" x2="707.6" y2="1111.8" stroke="#2b2b2b" stroke-width="2.0"/>
<rect x="332.3" y="1118.0" width="12.3" height="19.0" fill="#3d3d3d"/>
<rect x="334.5" y="1120.3" width="2.7" height="2.5" fill="#a8a8a8"/>
<rect x="339.1" y="1120.3" width="2.7" height="2.5" fill="#a8a8a8"/>
<rect x="334.5" y="1125.2" width="2.7" height="2.5" fill="#a8a8a8"/>
<rect x="339.1" y="1125.2" width="2.7" height="2.5" fill="#a8a8a8"/>
<rect x="344.6" y="1128.0" width="71.8" height="10.4" fill="#454545"/>
<rect x="355.0" y="1125.0" width="20.0" height="3.5" fill="#4a4a4a"/>
<rect x="347.1" y="1132.7" width="2.0" height="1.6" fill="#bcbcbc"/>
<rect x="353.1" y="1132.7" width="2.0" height="1.6" fill="#bcbcbc"/>
<rect x="359.1" y="1132.7" width="2.0" height="1.6" fill="#bcbcbc"/>
<rect x="365.1" y="1132.7" width="2.0" height="1.6" fill="#bcbcbc"/>
<rect x="371.1" y="1132.7" width="2.0" height="1.6" fill="#bcbcbc"/>
<rect x="377.1" y="1132.7" width="2.0" height="1.6" fill="#bcbcbc"/>
<rect x="383.1" y="1132.7" width="2.0" height="1.6" fill="#bcbcbc"/>
<rect x="389.1" y="1132.7" width="2.0" height="1.6" fill="#bcbcbc"/>
<rect x="395.1" y="1132.7" width="2.0" height="1.6" fill="#bcbcbc"/>
<rect x="401.1" y="1132.7" width="2.0" height="1.6" fill="#bcbcbc"/>
<rect x="407.1" y="1132.7" width="2.0" height="1.6" fill="#bcbcbc"/>
<rect x="389.7" y="1109.0" width="3.0" height="21.0" fill="#333"/>
<rect x="401.0" y="1109.0" width="3.0" height="21.0" fill="#333"/>
<rect x="389.4" y="1109.0" width="14.9" height="2.2" fill="#333"/>
<line x1="392.2" y1="1111.0" x2="401.5" y2="1128.5" stroke="#2b2b2b" stroke-width="1.8"/>
<line x1="401.5" y1="1111.0" x2="392.2" y2="1128.5" stroke="#2b2b2b" stroke-width="1.8"/>
<rect x="434.0" y="1111.8" width="3.0" height="14.2" fill="#333"/>
<rect x="445.0" y="1111.8" width="3.0" height="14.2" fill="#333"/>
<rect x="433.7" y="1111.8" width="14.6" height="2.2" fill="#333"/>
<line x1="436.5" y1="1113.8" x2="445.5" y2="1124.5" stroke="#2b2b2b" stroke-width="1.8"/>
<line x1="445.5" y1="1113.8" x2="436.5" y2="1124.5" stroke="#2b2b2b" stroke-width="1.8"/>
<rect x="432.8" y="1126.0" width="38.0" height="3.2" fill="#c8c8c8"/>
<rect x="431.2" y="1129.0" width="13.0" height="12.5" fill="#cfcfcf"/>
<rect x="442.2" y="1131.5" width="30.5" height="10.5" fill="#4a4a4a"/>
<rect x="419.8" y="1136.0" width="14.0" height="6.0" fill="#555"/>
<rect x="444.8" y="1135.0" width="1.8" height="1.6" fill="#aaa"/>
<rect x="450.8" y="1135.0" width="1.8" height="1.6" fill="#aaa"/>
<rect x="456.8" y="1135.0" width="1.8" height="1.6" fill="#aaa"/>
<rect x="462.8" y="1135.0" width="1.8" height="1.6" fill="#aaa"/>
<rect x="468.8" y="1135.0" width="1.8" height="1.6" fill="#aaa"/>
<rect x="463.8" y="1093.0" width="6.8" height="33.0" fill="#c4c4c4"/>
<rect x="460.8" y="1088.0" width="12.8" height="2.6" fill="#c4c4c4"/>
<rect x="462.2" y="1090.6" width="9.8" height="2.4" fill="#d4d4d4"/>
<polyline points="471.0,1389.6 486.9,1407.3 502.9,1390.2 518.8,1407.9 534.8,1390.8 550.7,1408.6 566.6,1391.5 582.6,1409.2 598.5,1392.1 614.4,1409.8 630.4,1392.7 646.3,1410.4 662.2,1393.3 678.2,1411.1 694.1,1394.0 710.1,1411.7 726.0,1394.6" stroke="#2b2b2b" stroke-width="2.3" fill="none" stroke-linejoin="miter"/>
<line x1="485.9" y1="1407.3" x2="711.1" y2="1411.7" stroke="#2b2b2b" stroke-width="2.6"/>
<polygon points="471.0,1386.0 726.0,1391.0 726.0,1394.6 471.0,1389.6" fill="#999"/>
<line x1="471.0" y1="1386.0" x2="726.0" y2="1391.0" stroke="#2b2b2b" stroke-width="2.2"/>
<line x1="471.0" y1="1389.6" x2="726.0" y2="1394.6" stroke="#2b2b2b" stroke-width="1.8"/>
<rect x="497.2" y="1315.6" width="14.8" height="13.9" fill="#3a3a3a"/>
<rect x="499.2" y="1318.1" width="10.8" height="1.3" fill="#7a7a7a"/>
<rect x="499.2" y="1322.6" width="10.8" height="1.1" fill="#6a6a6a"/>
<line x1="504.6" y1="1329.5" x2="504.6" y2="1386.0" stroke="#2b2b2b" stroke-width="2.0"/>
<rect x="497.0" y="1383.5" width="14.0" height="3.0" fill="#333"/>
<rect x="720.0" y="1317.0" width="14.0" height="14.0" fill="#3a3a3a"/>
<rect x="722.0" y="1319.5" width="10.0" height="1.3" fill="#7a7a7a"/>
<rect x="722.0" y="1324.0" width="10.0" height="1.1" fill="#6a6a6a"/>
<line x1="726.9" y1="1331.0" x2="726.9" y2="1390.0" stroke="#2b2b2b" stroke-width="2.0"/>
<rect x="329.8" y="1381.5" width="12.5" height="18.8" fill="#3d3d3d"/>
<rect x="332.1" y="1383.8" width="2.8" height="2.4" fill="#a8a8a8"/>
<rect x="336.7" y="1383.8" width="2.8" height="2.4" fill="#a8a8a8"/>
<rect x="332.1" y="1388.6" width="2.8" height="2.4" fill="#a8a8a8"/>
<rect x="336.7" y="1388.6" width="2.8" height="2.4" fill="#a8a8a8"/>
<rect x="342.3" y="1390.0" width="71.9" height="10.3" fill="#454545"/>
<rect x="352.0" y="1387.0" width="20.0" height="3.5" fill="#4a4a4a"/>
<rect x="344.8" y="1394.6" width="2.0" height="1.6" fill="#bcbcbc"/>
<rect x="350.8" y="1394.6" width="2.0" height="1.6" fill="#bcbcbc"/>
<rect x="356.8" y="1394.6" width="2.0" height="1.6" fill="#bcbcbc"/>
<rect x="362.8" y="1394.6" width="2.0" height="1.6" fill="#bcbcbc"/>
<rect x="368.8" y="1394.6" width="2.0" height="1.6" fill="#bcbcbc"/>
<rect x="374.8" y="1394.6" width="2.0" height="1.6" fill="#bcbcbc"/>
<rect x="380.8" y="1394.6" width="2.0" height="1.6" fill="#bcbcbc"/>
<rect x="386.8" y="1394.6" width="2.0" height="1.6" fill="#bcbcbc"/>
<rect x="392.8" y="1394.6" width="2.0" height="1.6" fill="#bcbcbc"/>
<rect x="398.8" y="1394.6" width="2.0" height="1.6" fill="#bcbcbc"/>
<rect x="404.8" y="1394.6" width="2.0" height="1.6" fill="#bcbcbc"/>
<rect x="388.4" y="1372.0" width="3.0" height="19.7" fill="#333"/>
<rect x="398.7" y="1372.0" width="3.0" height="19.7" fill="#333"/>
<rect x="388.1" y="1372.0" width="13.9" height="2.2" fill="#333"/>
<line x1="390.9" y1="1374.0" x2="399.2" y2="1390.2" stroke="#2b2b2b" stroke-width="1.8"/>
<line x1="399.2" y1="1374.0" x2="390.9" y2="1390.2" stroke="#2b2b2b" stroke-width="1.8"/>
<rect x="433.0" y="1375.3" width="3.0" height="13.3" fill="#333"/>
<rect x="443.2" y="1375.3" width="3.0" height="13.3" fill="#333"/>
<rect x="432.7" y="1375.3" width="13.8" height="2.2" fill="#333"/>
<line x1="435.5" y1="1377.3" x2="443.7" y2="1387.1" stroke="#2b2b2b" stroke-width="1.8"/>
<line x1="443.7" y1="1377.3" x2="435.5" y2="1387.1" stroke="#2b2b2b" stroke-width="1.8"/>
<rect x="430.2" y="1387.7" width="38.0" height="3.2" fill="#c8c8c8"/>
<rect x="428.7" y="1390.7" width="13.0" height="13.8" fill="#cfcfcf"/>
<rect x="439.7" y="1394.5" width="30.5" height="10.5" fill="#4a4a4a"/>
<rect x="417.2" y="1399.0" width="14.0" height="6.0" fill="#555"/>
<rect x="442.2" y="1398.0" width="1.8" height="1.6" fill="#aaa"/>
<rect x="448.2" y="1398.0" width="1.8" height="1.6" fill="#aaa"/>
<rect x="454.2" y="1398.0" width="1.8" height="1.6" fill="#aaa"/>
<rect x="460.2" y="1398.0" width="1.8" height="1.6" fill="#aaa"/>
<rect x="466.2" y="1398.0" width="1.8" height="1.6" fill="#aaa"/>
<rect x="461.2" y="1356.0" width="7.0" height="32.0" fill="#c4c4c4"/>
<rect x="458.2" y="1351.0" width="13.0" height="2.6" fill="#c4c4c4"/>
<rect x="459.7" y="1353.6" width="10.0" height="2.4" fill="#d4d4d4"/>
<polyline points="471.8,1671.1 487.6,1690.2 503.3,1672.5 519.1,1691.7 534.9,1674.0 550.6,1693.1 566.4,1675.4 582.1,1694.5 597.9,1676.8 613.7,1696.0 629.4,1678.3 645.2,1697.4 661.0,1679.7 676.7,1698.8 692.5,1681.2 708.2,1700.3 724.0,1682.6" stroke="#2b2b2b" stroke-width="2.3" fill="none" stroke-linejoin="miter"/>
<line x1="486.6" y1="1690.2" x2="709.2" y2="1700.3" stroke="#2b2b2b" stroke-width="2.6"/>
<polygon points="471.8,1667.5 724.0,1679.0 724.0,1682.6 471.8,1671.1" fill="#999"/>
<line x1="471.8" y1="1667.5" x2="724.0" y2="1679.0" stroke="#2b2b2b" stroke-width="2.2"/>
<line x1="471.8" y1="1671.1" x2="724.0" y2="1682.6" stroke="#2b2b2b" stroke-width="1.8"/>
<rect x="495.5" y="1577.0" width="14.0" height="13.8" fill="#3a3a3a"/>
<rect x="497.5" y="1579.5" width="10.0" height="1.3" fill="#7a7a7a"/>
<rect x="497.5" y="1584.0" width="10.0" height="1.1" fill="#6a6a6a"/>
<line x1="502.5" y1="1590.8" x2="502.5" y2="1668.7" stroke="#2b2b2b" stroke-width="2.0"/>
<rect x="495.5" y="1665.5" width="14.0" height="3.0" fill="#333"/>
<rect x="718.0" y="1578.5" width="14.0" height="14.3" fill="#3a3a3a"/>
<rect x="720.0" y="1581.0" width="10.0" height="1.3" fill="#7a7a7a"/>
<rect x="720.0" y="1585.5" width="10.0" height="1.1" fill="#6a6a6a"/>
<line x1="724.8" y1="1592.8" x2="724.8" y2="1681.0" stroke="#2b2b2b" stroke-width="2.0"/>
<rect x="327.4" y="1644.0" width="13.1" height="18.5" fill="#3d3d3d"/>
<rect x="329.8" y="1646.2" width="2.9" height="2.4" fill="#a8a8a8"/>
<rect x="334.6" y="1646.2" width="2.9" height="2.4" fill="#a8a8a8"/>
<rect x="329.8" y="1651.0" width="2.9" height="2.4" fill="#a8a8a8"/>
<rect x="334.6" y="1651.0" width="2.9" height="2.4" fill="#a8a8a8"/>
<rect x="340.5" y="1653.0" width="71.8" height="11.6" fill="#454545"/>
<rect x="350.0" y="1650.0" width="20.0" height="3.5" fill="#4a4a4a"/>
<rect x="343.0" y="1658.2" width="2.0" height="1.6" fill="#bcbcbc"/>
<rect x="349.0" y="1658.2" width="2.0" height="1.6" fill="#bcbcbc"/>
<rect x="355.0" y="1658.2" width="2.0" height="1.6" fill="#bcbcbc"/>
<rect x="361.0" y="1658.2" width="2.0" height="1.6" fill="#bcbcbc"/>
<rect x="367.0" y="1658.2" width="2.0" height="1.6" fill="#bcbcbc"/>
<rect x="373.0" y="1658.2" width="2.0" height="1.6" fill="#bcbcbc"/>
<rect x="379.0" y="1658.2" width="2.0" height="1.6" fill="#bcbcbc"/>
<rect x="385.0" y="1658.2" width="2.0" height="1.6" fill="#bcbcbc"/>
<rect x="391.0" y="1658.2" width="2.0" height="1.6" fill="#bcbcbc"/>
<rect x="397.0" y="1658.2" width="2.0" height="1.6" fill="#bcbcbc"/>
<rect x="403.0" y="1658.2" width="2.0" height="1.6" fill="#bcbcbc"/>
<rect x="385.6" y="1633.8" width="3.0" height="18.5" fill="#333"/>
<rect x="396.2" y="1633.8" width="3.0" height="18.5" fill="#333"/>
<rect x="385.3" y="1633.8" width="14.2" height="2.2" fill="#333"/>
<line x1="388.1" y1="1635.8" x2="396.7" y2="1650.8" stroke="#2b2b2b" stroke-width="1.8"/>
<line x1="396.7" y1="1635.8" x2="388.1" y2="1650.8" stroke="#2b2b2b" stroke-width="1.8"/>
<rect x="430.0" y="1637.0" width="3.0" height="14.0" fill="#333"/>
<rect x="441.0" y="1637.0" width="3.0" height="14.0" fill="#333"/>
<rect x="429.7" y="1637.0" width="14.6" height="2.2" fill="#333"/>
<line x1="432.5" y1="1639.0" x2="441.5" y2="1649.5" stroke="#2b2b2b" stroke-width="1.8"/>
<line x1="441.5" y1="1639.0" x2="432.5" y2="1649.5" stroke="#2b2b2b" stroke-width="1.8"/>
<rect x="428.0" y="1649.0" width="38.0" height="3.2" fill="#c8c8c8"/>
<rect x="426.5" y="1652.0" width="13.0" height="15.0" fill="#cfcfcf"/>
<rect x="437.5" y="1657.0" width="30.5" height="10.5" fill="#4a4a4a"/>
<rect x="415.0" y="1661.5" width="14.0" height="6.0" fill="#555"/>
<rect x="440.0" y="1660.5" width="1.8" height="1.6" fill="#aaa"/>
<rect x="446.0" y="1660.5" width="1.8" height="1.6" fill="#aaa"/>
<rect x="452.0" y="1660.5" width="1.8" height="1.6" fill="#aaa"/>
<rect x="458.0" y="1660.5" width="1.8" height="1.6" fill="#aaa"/>
<rect x="464.0" y="1660.5" width="1.8" height="1.6" fill="#aaa"/>
<rect x="459.0" y="1618.0" width="7.0" height="31.0" fill="#c4c4c4"/>
<rect x="456.0" y="1613.0" width="13.0" height="2.6" fill="#c4c4c4"/>
<rect x="457.5" y="1615.6" width="10.0" height="2.4" fill="#d4d4d4"/>
</svg></body></html>
